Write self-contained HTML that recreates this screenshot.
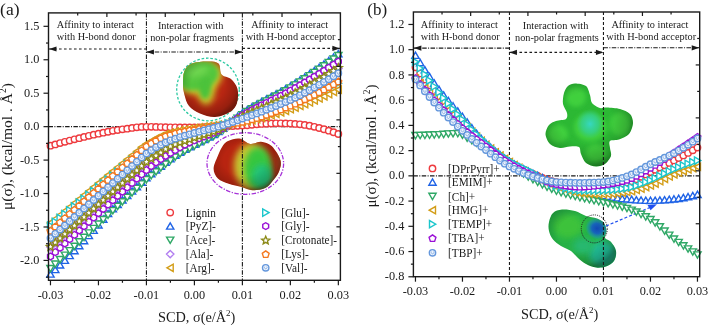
<!DOCTYPE html><html><head><meta charset="utf-8"><style>html,body{margin:0;padding:0;background:#fff;width:709px;height:325px;overflow:hidden}</style></head><body><svg xmlns="http://www.w3.org/2000/svg" width="709" height="325" viewBox="0 0 709 325" style="display:block;will-change:transform"><rect width="709" height="325" fill="#fff"/>
<defs>
<filter id="bl3" x="-50%" y="-50%" width="200%" height="200%"><feGaussianBlur stdDeviation="3"/></filter>
<filter id="bl2" x="-50%" y="-50%" width="200%" height="200%"><feGaussianBlur stdDeviation="2"/></filter>
<filter id="bl1" x="-50%" y="-50%" width="200%" height="200%"><feGaussianBlur stdDeviation="1"/></filter>
<radialGradient id="shd" cx="0.45" cy="0.42" r="0.6">
 <stop offset="0.5" stop-color="#000" stop-opacity="0"/><stop offset="0.85" stop-color="#000" stop-opacity="0.18"/><stop offset="1" stop-color="#000" stop-opacity="0.38"/></radialGradient>
<radialGradient id="hl" cx="0.5" cy="0.5" r="0.5">
 <stop offset="0" stop-color="#fff" stop-opacity="0.35"/><stop offset="1" stop-color="#fff" stop-opacity="0"/></radialGradient>
<radialGradient id="gG" cx="0.42" cy="0.4" r="0.62">
 <stop offset="0" stop-color="#4cd23c"/><stop offset="0.7" stop-color="#30b830"/><stop offset="1" stop-color="#1f8f22"/></radialGradient>
<radialGradient id="gC" cx="0.5" cy="0.5" r="0.5">
 <stop offset="0" stop-color="#36d8c8" stop-opacity="0.95"/><stop offset="0.6" stop-color="#30d0a8" stop-opacity="0.6"/><stop offset="1" stop-color="#30c890" stop-opacity="0"/></radialGradient>
<radialGradient id="gBl" cx="0.55" cy="0.5" r="0.5">
 <stop offset="0" stop-color="#1248b4"/><stop offset="0.45" stop-color="#1660c0" stop-opacity="0.95"/><stop offset="0.8" stop-color="#1a90b8" stop-opacity="0.5"/><stop offset="1" stop-color="#20a0a0" stop-opacity="0"/></radialGradient>
<clipPath id="cA1"><path id="pA1" d="M184.5,71.0C186.0,67.6 188.2,65.1 192.0,63.5C195.8,61.9 202.6,61.5 207.0,61.5C211.4,61.5 216.1,61.3 218.5,63.5C220.9,65.7 219.4,71.9 221.5,74.5C223.6,77.1 228.3,76.6 231.0,79.0C233.7,81.4 236.5,85.0 237.5,89.0C238.5,93.0 238.2,99.2 237.0,103.0C235.8,106.8 233.7,109.7 230.0,112.0C226.3,114.3 220.0,116.8 215.0,117.0C210.0,117.2 204.3,115.3 200.0,113.5C195.7,111.7 191.6,109.1 189.0,106.0C186.4,102.9 185.5,98.7 184.5,95.0C183.5,91.3 183.0,88.0 183.0,84.0C183.0,80.0 183.0,74.4 184.5,71.0Z"/></clipPath>
<clipPath id="cA2"><path id="pA2" d="M228.7,140.8C231.4,139.7 235.8,138.1 239.4,138.6C243.0,139.1 246.6,143.5 250.2,144.0C253.8,144.5 257.4,141.5 261.0,141.8C264.6,142.2 268.5,143.1 271.7,146.1C274.9,149.1 279.1,156.0 280.3,160.1C281.6,164.2 280.3,167.7 279.2,170.9C278.1,174.1 276.2,176.6 273.9,179.5C271.6,182.4 268.9,186.3 265.3,188.1C261.7,189.9 256.2,190.5 252.3,190.3C248.4,190.1 245.5,188.1 241.6,187.0C237.7,185.9 232.6,185.2 228.7,183.8C224.8,182.4 220.4,180.9 217.9,178.4C215.4,175.9 213.6,172.5 213.6,168.7C213.6,164.9 216.3,159.7 217.9,155.8C219.5,151.9 221.5,147.6 223.3,145.1C225.1,142.6 226.0,141.9 228.7,140.8Z"/></clipPath>
<clipPath id="cB1"><path id="pB1" d="M575.0,83.5C577.7,83.5 583.8,84.3 586.0,86.0C588.2,87.7 589.1,92.5 590.0,95.0C590.9,97.5 590.5,101.0 592.0,103.0C593.5,105.0 597.8,107.3 600.0,108.0C602.2,108.7 604.0,107.3 607.0,107.5C610.0,107.7 616.5,108.0 620.0,109.0C623.5,110.0 628.0,111.9 630.0,114.0C632.0,116.1 633.1,120.0 633.0,123.0C632.9,126.0 631.1,131.5 629.0,134.0C626.9,136.5 621.9,138.4 619.0,139.5C616.1,140.6 611.4,139.7 610.0,141.0C608.6,142.3 609.9,145.8 610.0,148.0C610.1,150.2 611.8,153.6 611.0,156.0C610.2,158.4 607.2,162.4 605.0,164.0C602.8,165.6 598.9,166.7 596.0,166.5C593.1,166.3 588.2,164.9 586.0,163.0C583.8,161.1 582.0,156.4 581.0,154.0C580.0,151.6 580.6,148.1 579.0,147.0C577.4,145.9 572.9,146.3 570.0,146.5C567.1,146.7 563.0,148.4 560.0,148.0C557.0,147.6 552.2,146.1 550.0,144.0C547.8,141.9 545.6,136.8 545.5,134.0C545.4,131.2 547.4,127.0 549.0,125.0C550.6,123.0 553.5,121.9 556.0,121.0C558.5,120.1 564.4,120.2 566.0,119.0C567.6,117.8 567.5,115.2 567.0,113.0C566.5,110.8 563.5,107.0 563.0,104.0C562.5,101.0 563.2,95.7 564.0,93.0C564.8,90.3 566.4,87.4 568.0,86.0C569.6,84.6 572.3,83.5 575.0,83.5Z"/></clipPath>
<clipPath id="cB2"><path id="pB2" d="M549.0,222.0C549.7,219.0 550.8,215.1 553.0,213.0C555.2,210.9 558.3,209.8 562.0,209.5C565.7,209.2 571.0,209.9 575.0,211.0C579.0,212.1 582.3,214.8 586.0,216.0C589.7,217.2 594.0,217.3 597.0,218.5C600.0,219.7 602.4,220.9 604.0,223.0C605.6,225.1 606.3,228.5 606.5,231.0C606.7,233.5 604.2,236.2 605.0,238.0C605.8,239.8 609.2,239.8 611.0,242.0C612.8,244.2 615.5,247.8 616.0,251.0C616.5,254.2 615.7,258.4 614.0,261.0C612.3,263.6 609.0,265.4 606.0,266.5C603.0,267.6 599.3,267.9 596.0,267.5C592.7,267.1 589.0,265.6 586.0,264.0C583.0,262.4 580.5,260.2 578.0,258.0C575.5,255.8 573.8,253.0 571.0,251.0C568.2,249.0 564.0,247.9 561.0,246.0C558.0,244.1 555.0,242.0 553.0,239.5C551.0,237.0 549.7,233.9 549.0,231.0C548.3,228.1 548.3,225.0 549.0,222.0Z"/></clipPath>
</defs>
<circle cx="208" cy="89.5" r="31.3" fill="none" stroke="#2cc9a2" stroke-width="1.3" stroke-dasharray="2.6,1.8"/>
<g clip-path="url(#cA1)">
 <rect x="180" y="58" width="62" height="62" fill="#b82612"/>
 <ellipse cx="199" cy="77" rx="24" ry="17" transform="rotate(-15 199 77)" fill="#d2c52a" filter="url(#bl3)"/>
 <ellipse cx="206" cy="90" rx="9" ry="15" fill="#c8c42a" filter="url(#bl3)"/>
 <ellipse cx="198" cy="76" rx="21" ry="14" transform="rotate(-15 198 76)" fill="#52c63c" filter="url(#bl2)"/>
 <ellipse cx="205" cy="87" rx="6" ry="12" fill="#4cc23a" filter="url(#bl2)"/>
 <ellipse cx="197" cy="71" rx="12" ry="6" transform="rotate(-15 197 71)" fill="#6ed650" filter="url(#bl3)"/>
 <use href="#pA1" fill="url(#shd)"/>
</g>
<ellipse cx="245.3" cy="163.5" rx="38.3" ry="30.8" fill="none" stroke="#a632d8" stroke-width="1.3" stroke-dasharray="4.5,1.5,1.2,1.5"/>
<g clip-path="url(#cA2)">
 <rect x="205" y="130" width="85" height="70" fill="#b82410"/>
 <ellipse cx="251" cy="166" rx="17" ry="23" fill="#c8c830" filter="url(#bl3)"/>
 <ellipse cx="258" cy="168" rx="14" ry="21" fill="#38c63c" filter="url(#bl3)"/>
 <ellipse cx="262" cy="176" rx="10" ry="12" fill="#22c278" filter="url(#bl3)"/>
 <ellipse cx="281" cy="163" rx="5" ry="14" fill="#a8401c" filter="url(#bl2)"/>
 <use href="#pA2" fill="url(#shd)"/>
</g>
<line x1="146.43" y1="12.9" x2="146.43" y2="280.3" stroke="#1a1a1a" stroke-width="1.1" stroke-dasharray="4.5,1.4,1,1.4"/><line x1="242.39" y1="12.9" x2="242.39" y2="280.3" stroke="#1a1a1a" stroke-width="1.1" stroke-dasharray="4.5,1.4,1,1.4"/><line x1="48.5" y1="126.65" x2="340.4" y2="126.65" stroke="#1a1a1a" stroke-width="1.1" stroke-dasharray="4.5,1.4,1,1.4"/><line x1="49" y1="49" x2="146.43" y2="49" stroke="#1a1a1a" stroke-width="1.1" stroke-dasharray="2.6,2.4"/><path d="M49,49L56.5,46.4L56.5,51.6Z" fill="#1a1a1a"/><line x1="146.43" y1="52" x2="242.39" y2="52" stroke="#1a1a1a" stroke-width="1.1" stroke-dasharray="4.5,1.4,1,1.4"/><path d="M146.43,52L153.93,49.4L153.93,54.6Z" fill="#1a1a1a"/><path d="M242.39,52L234.89,49.4L234.89,54.6Z" fill="#1a1a1a"/><line x1="242.39" y1="48.4" x2="339.9" y2="48.4" stroke="#1a1a1a" stroke-width="1.1" stroke-dasharray="2.6,2.4"/><path d="M339.9,48.4L332.4,45.8L332.4,51Z" fill="#1a1a1a"/><text x="56.8" y="28.1" font-family="Liberation Serif" font-size="10.3" fill="#1a1a1a">Affinity to interact</text><text x="56.8" y="40" font-family="Liberation Serif" font-size="10.3" fill="#1a1a1a">with H-bond donor</text><text x="157.9" y="28.9" font-family="Liberation Serif" font-size="10.3" fill="#1a1a1a">Interaction with</text><text x="150.2" y="41" font-family="Liberation Serif" font-size="10.3" fill="#1a1a1a">non-polar fragments</text><text x="251.2" y="28" font-family="Liberation Serif" font-size="10.3" fill="#1a1a1a">Affinity to interact</text><text x="245.7" y="40" font-family="Liberation Serif" font-size="10.3" fill="#1a1a1a">with H-bond acceptor</text><g><circle cx="50.47" cy="145.71" r="3.2" stroke="#ee3b3f" fill="#fff" stroke-width="1.4"/><circle cx="55.27" cy="144.39" r="3.2" stroke="#ee3b3f" fill="#fff" stroke-width="1.4"/><circle cx="60.07" cy="143.09" r="3.2" stroke="#ee3b3f" fill="#fff" stroke-width="1.4"/><circle cx="64.86" cy="141.82" r="3.2" stroke="#ee3b3f" fill="#fff" stroke-width="1.4"/><circle cx="69.66" cy="140.57" r="3.2" stroke="#ee3b3f" fill="#fff" stroke-width="1.4"/><circle cx="74.46" cy="139.36" r="3.2" stroke="#ee3b3f" fill="#fff" stroke-width="1.4"/><circle cx="79.26" cy="138.16" r="3.2" stroke="#ee3b3f" fill="#fff" stroke-width="1.4"/><circle cx="84.06" cy="136.97" r="3.2" stroke="#ee3b3f" fill="#fff" stroke-width="1.4"/><circle cx="88.85" cy="135.81" r="3.2" stroke="#ee3b3f" fill="#fff" stroke-width="1.4"/><circle cx="93.65" cy="134.7" r="3.2" stroke="#ee3b3f" fill="#fff" stroke-width="1.4"/><circle cx="98.45" cy="133.67" r="3.2" stroke="#ee3b3f" fill="#fff" stroke-width="1.4"/><circle cx="103.25" cy="132.69" r="3.2" stroke="#ee3b3f" fill="#fff" stroke-width="1.4"/><circle cx="108.05" cy="131.74" r="3.2" stroke="#ee3b3f" fill="#fff" stroke-width="1.4"/><circle cx="112.84" cy="130.84" r="3.2" stroke="#ee3b3f" fill="#fff" stroke-width="1.4"/><circle cx="117.64" cy="130.03" r="3.2" stroke="#ee3b3f" fill="#fff" stroke-width="1.4"/><circle cx="122.44" cy="129.33" r="3.2" stroke="#ee3b3f" fill="#fff" stroke-width="1.4"/><circle cx="127.24" cy="128.65" r="3.2" stroke="#ee3b3f" fill="#fff" stroke-width="1.4"/><circle cx="132.04" cy="127.97" r="3.2" stroke="#ee3b3f" fill="#fff" stroke-width="1.4"/><circle cx="136.83" cy="127.37" r="3.2" stroke="#ee3b3f" fill="#fff" stroke-width="1.4"/><circle cx="141.63" cy="126.95" r="3.2" stroke="#ee3b3f" fill="#fff" stroke-width="1.4"/><circle cx="146.43" cy="126.78" r="3.2" stroke="#ee3b3f" fill="#fff" stroke-width="1.4"/><circle cx="151.23" cy="126.83" r="3.2" stroke="#ee3b3f" fill="#fff" stroke-width="1.4"/><circle cx="156.03" cy="126.95" r="3.2" stroke="#ee3b3f" fill="#fff" stroke-width="1.4"/><circle cx="160.82" cy="127.1" r="3.2" stroke="#ee3b3f" fill="#fff" stroke-width="1.4"/><circle cx="165.62" cy="127.24" r="3.2" stroke="#ee3b3f" fill="#fff" stroke-width="1.4"/><circle cx="170.42" cy="127.32" r="3.2" stroke="#ee3b3f" fill="#fff" stroke-width="1.4"/><circle cx="175.22" cy="127.36" r="3.2" stroke="#ee3b3f" fill="#fff" stroke-width="1.4"/><circle cx="180.02" cy="127.4" r="3.2" stroke="#ee3b3f" fill="#fff" stroke-width="1.4"/><circle cx="184.81" cy="127.43" r="3.2" stroke="#ee3b3f" fill="#fff" stroke-width="1.4"/><circle cx="189.61" cy="127.45" r="3.2" stroke="#ee3b3f" fill="#fff" stroke-width="1.4"/><circle cx="194.41" cy="127.45" r="3.2" stroke="#ee3b3f" fill="#fff" stroke-width="1.4"/><circle cx="199.21" cy="127.4" r="3.2" stroke="#ee3b3f" fill="#fff" stroke-width="1.4"/><circle cx="204.01" cy="127.26" r="3.2" stroke="#ee3b3f" fill="#fff" stroke-width="1.4"/><circle cx="208.8" cy="127.06" r="3.2" stroke="#ee3b3f" fill="#fff" stroke-width="1.4"/><circle cx="213.6" cy="126.85" r="3.2" stroke="#ee3b3f" fill="#fff" stroke-width="1.4"/><circle cx="218.4" cy="126.65" r="3.2" stroke="#ee3b3f" fill="#fff" stroke-width="1.4"/><circle cx="223.2" cy="126.47" r="3.2" stroke="#ee3b3f" fill="#fff" stroke-width="1.4"/><circle cx="228" cy="126.27" r="3.2" stroke="#ee3b3f" fill="#fff" stroke-width="1.4"/><circle cx="232.79" cy="126.07" r="3.2" stroke="#ee3b3f" fill="#fff" stroke-width="1.4"/><circle cx="237.59" cy="125.84" r="3.2" stroke="#ee3b3f" fill="#fff" stroke-width="1.4"/><circle cx="242.39" cy="125.58" r="3.2" stroke="#ee3b3f" fill="#fff" stroke-width="1.4"/><circle cx="247.19" cy="125.23" r="3.2" stroke="#ee3b3f" fill="#fff" stroke-width="1.4"/><circle cx="251.99" cy="124.78" r="3.2" stroke="#ee3b3f" fill="#fff" stroke-width="1.4"/><circle cx="256.78" cy="124.31" r="3.2" stroke="#ee3b3f" fill="#fff" stroke-width="1.4"/><circle cx="261.58" cy="123.9" r="3.2" stroke="#ee3b3f" fill="#fff" stroke-width="1.4"/><circle cx="266.38" cy="123.64" r="3.2" stroke="#ee3b3f" fill="#fff" stroke-width="1.4"/><circle cx="271.18" cy="123.48" r="3.2" stroke="#ee3b3f" fill="#fff" stroke-width="1.4"/><circle cx="275.98" cy="123.36" r="3.2" stroke="#ee3b3f" fill="#fff" stroke-width="1.4"/><circle cx="280.77" cy="123.31" r="3.2" stroke="#ee3b3f" fill="#fff" stroke-width="1.4"/><circle cx="285.57" cy="123.39" r="3.2" stroke="#ee3b3f" fill="#fff" stroke-width="1.4"/><circle cx="290.37" cy="123.61" r="3.2" stroke="#ee3b3f" fill="#fff" stroke-width="1.4"/><circle cx="295.17" cy="123.93" r="3.2" stroke="#ee3b3f" fill="#fff" stroke-width="1.4"/><circle cx="299.97" cy="124.31" r="3.2" stroke="#ee3b3f" fill="#fff" stroke-width="1.4"/><circle cx="304.76" cy="124.89" r="3.2" stroke="#ee3b3f" fill="#fff" stroke-width="1.4"/><circle cx="309.56" cy="125.77" r="3.2" stroke="#ee3b3f" fill="#fff" stroke-width="1.4"/><circle cx="314.36" cy="126.84" r="3.2" stroke="#ee3b3f" fill="#fff" stroke-width="1.4"/><circle cx="319.16" cy="127.99" r="3.2" stroke="#ee3b3f" fill="#fff" stroke-width="1.4"/><circle cx="323.96" cy="129.23" r="3.2" stroke="#ee3b3f" fill="#fff" stroke-width="1.4"/><circle cx="328.75" cy="130.67" r="3.2" stroke="#ee3b3f" fill="#fff" stroke-width="1.4"/><circle cx="333.55" cy="132.27" r="3.2" stroke="#ee3b3f" fill="#fff" stroke-width="1.4"/><circle cx="338.35" cy="134.01" r="3.2" stroke="#ee3b3f" fill="#fff" stroke-width="1.4"/></g><g><path d="M50.47,270.84L54.11,277.14L46.83,277.14Z" stroke="#1f63e6" fill="#fff" stroke-width="1.4"/><path d="M55.27,266.35L58.91,272.65L51.63,272.65Z" stroke="#1f63e6" fill="#fff" stroke-width="1.4"/><path d="M60.07,261.75L63.7,268.05L56.43,268.05Z" stroke="#1f63e6" fill="#fff" stroke-width="1.4"/><path d="M64.86,257.07L68.5,263.37L61.23,263.37Z" stroke="#1f63e6" fill="#fff" stroke-width="1.4"/><path d="M69.66,252.29L73.3,258.59L66.02,258.59Z" stroke="#1f63e6" fill="#fff" stroke-width="1.4"/><path d="M74.46,247.43L78.1,253.73L70.82,253.73Z" stroke="#1f63e6" fill="#fff" stroke-width="1.4"/><path d="M79.26,242.48L82.9,248.78L75.62,248.78Z" stroke="#1f63e6" fill="#fff" stroke-width="1.4"/><path d="M84.06,237.45L87.69,243.75L80.42,243.75Z" stroke="#1f63e6" fill="#fff" stroke-width="1.4"/><path d="M88.85,232.31L92.49,238.61L85.22,238.61Z" stroke="#1f63e6" fill="#fff" stroke-width="1.4"/><path d="M93.65,227.06L97.29,233.36L90.01,233.36Z" stroke="#1f63e6" fill="#fff" stroke-width="1.4"/><path d="M98.45,221.68L102.09,227.98L94.81,227.98Z" stroke="#1f63e6" fill="#fff" stroke-width="1.4"/><path d="M103.25,215.9L106.89,222.2L99.61,222.2Z" stroke="#1f63e6" fill="#fff" stroke-width="1.4"/><path d="M108.05,210.31L111.68,216.61L104.41,216.61Z" stroke="#1f63e6" fill="#fff" stroke-width="1.4"/><path d="M112.84,205.54L116.48,211.84L109.21,211.84Z" stroke="#1f63e6" fill="#fff" stroke-width="1.4"/><path d="M117.64,201.14L121.28,207.44L114,207.44Z" stroke="#1f63e6" fill="#fff" stroke-width="1.4"/><path d="M122.44,196.76L126.08,203.06L118.8,203.06Z" stroke="#1f63e6" fill="#fff" stroke-width="1.4"/><path d="M127.24,192.3L130.88,198.6L123.6,198.6Z" stroke="#1f63e6" fill="#fff" stroke-width="1.4"/><path d="M132.04,187.85L135.67,194.15L128.4,194.15Z" stroke="#1f63e6" fill="#fff" stroke-width="1.4"/><path d="M136.83,183.42L140.47,189.72L133.2,189.72Z" stroke="#1f63e6" fill="#fff" stroke-width="1.4"/><path d="M141.63,178.94L145.27,185.24L137.99,185.24Z" stroke="#1f63e6" fill="#fff" stroke-width="1.4"/><path d="M146.43,174.52L150.07,180.82L142.79,180.82Z" stroke="#1f63e6" fill="#fff" stroke-width="1.4"/><path d="M151.23,170.52L154.87,176.82L147.59,176.82Z" stroke="#1f63e6" fill="#fff" stroke-width="1.4"/><path d="M156.03,166.72L159.66,173.02L152.39,173.02Z" stroke="#1f63e6" fill="#fff" stroke-width="1.4"/><path d="M160.82,162.9L164.46,169.2L157.19,169.2Z" stroke="#1f63e6" fill="#fff" stroke-width="1.4"/><path d="M165.62,159.08L169.26,165.38L161.98,165.38Z" stroke="#1f63e6" fill="#fff" stroke-width="1.4"/><path d="M170.42,155.46L174.06,161.76L166.78,161.76Z" stroke="#1f63e6" fill="#fff" stroke-width="1.4"/><path d="M175.22,152.07L178.86,158.37L171.58,158.37Z" stroke="#1f63e6" fill="#fff" stroke-width="1.4"/><path d="M180.02,148.9L183.65,155.2L176.38,155.2Z" stroke="#1f63e6" fill="#fff" stroke-width="1.4"/><path d="M184.81,146.06L188.45,152.36L181.18,152.36Z" stroke="#1f63e6" fill="#fff" stroke-width="1.4"/><path d="M189.61,143.55L193.25,149.85L185.97,149.85Z" stroke="#1f63e6" fill="#fff" stroke-width="1.4"/><path d="M194.41,141.08L198.05,147.38L190.77,147.38Z" stroke="#1f63e6" fill="#fff" stroke-width="1.4"/><path d="M199.21,138.61L202.85,144.91L195.57,144.91Z" stroke="#1f63e6" fill="#fff" stroke-width="1.4"/><path d="M204.01,136.23L207.64,142.53L200.37,142.53Z" stroke="#1f63e6" fill="#fff" stroke-width="1.4"/><path d="M208.8,133.8L212.44,140.1L205.17,140.1Z" stroke="#1f63e6" fill="#fff" stroke-width="1.4"/><path d="M213.6,131.22L217.24,137.52L209.96,137.52Z" stroke="#1f63e6" fill="#fff" stroke-width="1.4"/><path d="M218.4,128.37L222.04,134.67L214.76,134.67Z" stroke="#1f63e6" fill="#fff" stroke-width="1.4"/><path d="M223.2,124.99L226.84,131.29L219.56,131.29Z" stroke="#1f63e6" fill="#fff" stroke-width="1.4"/><path d="M228,121.12L231.63,127.42L224.36,127.42Z" stroke="#1f63e6" fill="#fff" stroke-width="1.4"/><path d="M232.79,117.07L236.43,123.37L229.16,123.37Z" stroke="#1f63e6" fill="#fff" stroke-width="1.4"/><path d="M237.59,113.14L241.23,119.44L233.95,119.44Z" stroke="#1f63e6" fill="#fff" stroke-width="1.4"/><path d="M242.39,109.64L246.03,115.94L238.75,115.94Z" stroke="#1f63e6" fill="#fff" stroke-width="1.4"/><path d="M247.19,106.58L250.83,112.88L243.55,112.88Z" stroke="#1f63e6" fill="#fff" stroke-width="1.4"/><path d="M251.99,103.72L255.62,110.02L248.35,110.02Z" stroke="#1f63e6" fill="#fff" stroke-width="1.4"/><path d="M256.78,101.03L260.42,107.33L253.15,107.33Z" stroke="#1f63e6" fill="#fff" stroke-width="1.4"/><path d="M261.58,98.45L265.22,104.75L257.94,104.75Z" stroke="#1f63e6" fill="#fff" stroke-width="1.4"/><path d="M266.38,95.95L270.02,102.25L262.74,102.25Z" stroke="#1f63e6" fill="#fff" stroke-width="1.4"/><path d="M271.18,93.47L274.82,99.77L267.54,99.77Z" stroke="#1f63e6" fill="#fff" stroke-width="1.4"/><path d="M275.98,90.96L279.61,97.26L272.34,97.26Z" stroke="#1f63e6" fill="#fff" stroke-width="1.4"/><path d="M280.77,88.4L284.41,94.7L277.14,94.7Z" stroke="#1f63e6" fill="#fff" stroke-width="1.4"/><path d="M285.57,85.72L289.21,92.02L281.93,92.02Z" stroke="#1f63e6" fill="#fff" stroke-width="1.4"/><path d="M290.37,82.88L294.01,89.18L286.73,89.18Z" stroke="#1f63e6" fill="#fff" stroke-width="1.4"/><path d="M295.17,79.92L298.81,86.22L291.53,86.22Z" stroke="#1f63e6" fill="#fff" stroke-width="1.4"/><path d="M299.97,76.89L303.6,83.19L296.33,83.19Z" stroke="#1f63e6" fill="#fff" stroke-width="1.4"/><path d="M304.76,73.8L308.4,80.1L301.13,80.1Z" stroke="#1f63e6" fill="#fff" stroke-width="1.4"/><path d="M309.56,70.64L313.2,76.94L305.92,76.94Z" stroke="#1f63e6" fill="#fff" stroke-width="1.4"/><path d="M314.36,67.43L318,73.73L310.72,73.73Z" stroke="#1f63e6" fill="#fff" stroke-width="1.4"/><path d="M319.16,64.16L322.8,70.46L315.52,70.46Z" stroke="#1f63e6" fill="#fff" stroke-width="1.4"/><path d="M323.96,60.83L327.59,67.13L320.32,67.13Z" stroke="#1f63e6" fill="#fff" stroke-width="1.4"/><path d="M328.75,57.44L332.39,63.74L325.12,63.74Z" stroke="#1f63e6" fill="#fff" stroke-width="1.4"/><path d="M333.55,54L337.19,60.3L329.91,60.3Z" stroke="#1f63e6" fill="#fff" stroke-width="1.4"/><path d="M338.35,50.51L341.99,56.81L334.71,56.81Z" stroke="#1f63e6" fill="#fff" stroke-width="1.4"/></g><g><path d="M50.47,271.76L46.83,265.46L54.11,265.46Z" stroke="#2fa866" fill="#fff" stroke-width="1.4"/><path d="M55.27,267.31L51.63,261.01L58.91,261.01Z" stroke="#2fa866" fill="#fff" stroke-width="1.4"/><path d="M60.07,262.86L56.43,256.56L63.7,256.56Z" stroke="#2fa866" fill="#fff" stroke-width="1.4"/><path d="M64.86,258.41L61.23,252.11L68.5,252.11Z" stroke="#2fa866" fill="#fff" stroke-width="1.4"/><path d="M69.66,253.96L66.02,247.66L73.3,247.66Z" stroke="#2fa866" fill="#fff" stroke-width="1.4"/><path d="M74.46,249.52L70.82,243.22L78.1,243.22Z" stroke="#2fa866" fill="#fff" stroke-width="1.4"/><path d="M79.26,245.07L75.62,238.77L82.9,238.77Z" stroke="#2fa866" fill="#fff" stroke-width="1.4"/><path d="M84.06,240.62L80.42,234.32L87.69,234.32Z" stroke="#2fa866" fill="#fff" stroke-width="1.4"/><path d="M88.85,236.17L85.22,229.87L92.49,229.87Z" stroke="#2fa866" fill="#fff" stroke-width="1.4"/><path d="M93.65,231.72L90.01,225.42L97.29,225.42Z" stroke="#2fa866" fill="#fff" stroke-width="1.4"/><path d="M98.45,227.27L94.81,220.97L102.09,220.97Z" stroke="#2fa866" fill="#fff" stroke-width="1.4"/><path d="M103.25,222.83L99.61,216.53L106.89,216.53Z" stroke="#2fa866" fill="#fff" stroke-width="1.4"/><path d="M108.05,218.38L104.41,212.08L111.68,212.08Z" stroke="#2fa866" fill="#fff" stroke-width="1.4"/><path d="M112.84,213.93L109.21,207.63L116.48,207.63Z" stroke="#2fa866" fill="#fff" stroke-width="1.4"/><path d="M117.64,209.48L114,203.18L121.28,203.18Z" stroke="#2fa866" fill="#fff" stroke-width="1.4"/><path d="M122.44,205.03L118.8,198.73L126.08,198.73Z" stroke="#2fa866" fill="#fff" stroke-width="1.4"/><path d="M127.24,200.59L123.6,194.29L130.88,194.29Z" stroke="#2fa866" fill="#fff" stroke-width="1.4"/><path d="M132.04,196.14L128.4,189.84L135.67,189.84Z" stroke="#2fa866" fill="#fff" stroke-width="1.4"/><path d="M136.83,191.69L133.2,185.39L140.47,185.39Z" stroke="#2fa866" fill="#fff" stroke-width="1.4"/><path d="M141.63,187.21L137.99,180.91L145.27,180.91Z" stroke="#2fa866" fill="#fff" stroke-width="1.4"/><path d="M146.43,182.79L142.79,176.49L150.07,176.49Z" stroke="#2fa866" fill="#fff" stroke-width="1.4"/><path d="M151.23,178.79L147.59,172.49L154.87,172.49Z" stroke="#2fa866" fill="#fff" stroke-width="1.4"/><path d="M156.03,174.99L152.39,168.69L159.66,168.69Z" stroke="#2fa866" fill="#fff" stroke-width="1.4"/><path d="M160.82,171.18L157.19,164.88L164.46,164.88Z" stroke="#2fa866" fill="#fff" stroke-width="1.4"/><path d="M165.62,167.36L161.98,161.06L169.26,161.06Z" stroke="#2fa866" fill="#fff" stroke-width="1.4"/><path d="M170.42,163.73L166.78,157.43L174.06,157.43Z" stroke="#2fa866" fill="#fff" stroke-width="1.4"/><path d="M175.22,160.34L171.58,154.04L178.86,154.04Z" stroke="#2fa866" fill="#fff" stroke-width="1.4"/><path d="M180.02,157.17L176.38,150.87L183.65,150.87Z" stroke="#2fa866" fill="#fff" stroke-width="1.4"/><path d="M184.81,154.34L181.18,148.04L188.45,148.04Z" stroke="#2fa866" fill="#fff" stroke-width="1.4"/><path d="M189.61,151.82L185.97,145.52L193.25,145.52Z" stroke="#2fa866" fill="#fff" stroke-width="1.4"/><path d="M194.41,149.35L190.77,143.05L198.05,143.05Z" stroke="#2fa866" fill="#fff" stroke-width="1.4"/><path d="M199.21,146.88L195.57,140.58L202.85,140.58Z" stroke="#2fa866" fill="#fff" stroke-width="1.4"/><path d="M204.01,144.5L200.37,138.2L207.64,138.2Z" stroke="#2fa866" fill="#fff" stroke-width="1.4"/><path d="M208.8,142.07L205.17,135.77L212.44,135.77Z" stroke="#2fa866" fill="#fff" stroke-width="1.4"/><path d="M213.6,139.49L209.96,133.19L217.24,133.19Z" stroke="#2fa866" fill="#fff" stroke-width="1.4"/><path d="M218.4,136.64L214.76,130.34L222.04,130.34Z" stroke="#2fa866" fill="#fff" stroke-width="1.4"/><path d="M223.2,133.26L219.56,126.96L226.84,126.96Z" stroke="#2fa866" fill="#fff" stroke-width="1.4"/><path d="M228,129.39L224.36,123.09L231.63,123.09Z" stroke="#2fa866" fill="#fff" stroke-width="1.4"/><path d="M232.79,125.34L229.16,119.04L236.43,119.04Z" stroke="#2fa866" fill="#fff" stroke-width="1.4"/><path d="M237.59,121.41L233.95,115.11L241.23,115.11Z" stroke="#2fa866" fill="#fff" stroke-width="1.4"/><path d="M242.39,117.91L238.75,111.61L246.03,111.61Z" stroke="#2fa866" fill="#fff" stroke-width="1.4"/><path d="M247.19,114.85L243.55,108.55L250.83,108.55Z" stroke="#2fa866" fill="#fff" stroke-width="1.4"/><path d="M251.99,111.99L248.35,105.69L255.62,105.69Z" stroke="#2fa866" fill="#fff" stroke-width="1.4"/><path d="M256.78,109.3L253.15,103L260.42,103Z" stroke="#2fa866" fill="#fff" stroke-width="1.4"/><path d="M261.58,106.72L257.94,100.42L265.22,100.42Z" stroke="#2fa866" fill="#fff" stroke-width="1.4"/><path d="M266.38,104.22L262.74,97.92L270.02,97.92Z" stroke="#2fa866" fill="#fff" stroke-width="1.4"/><path d="M271.18,101.74L267.54,95.44L274.82,95.44Z" stroke="#2fa866" fill="#fff" stroke-width="1.4"/><path d="M275.98,99.24L272.34,92.94L279.61,92.94Z" stroke="#2fa866" fill="#fff" stroke-width="1.4"/><path d="M280.77,96.67L277.14,90.37L284.41,90.37Z" stroke="#2fa866" fill="#fff" stroke-width="1.4"/><path d="M285.57,93.99L281.93,87.69L289.21,87.69Z" stroke="#2fa866" fill="#fff" stroke-width="1.4"/><path d="M290.37,91.15L286.73,84.85L294.01,84.85Z" stroke="#2fa866" fill="#fff" stroke-width="1.4"/><path d="M295.17,88.19L291.53,81.89L298.81,81.89Z" stroke="#2fa866" fill="#fff" stroke-width="1.4"/><path d="M299.97,85.16L296.33,78.86L303.6,78.86Z" stroke="#2fa866" fill="#fff" stroke-width="1.4"/><path d="M304.76,82.07L301.13,75.77L308.4,75.77Z" stroke="#2fa866" fill="#fff" stroke-width="1.4"/><path d="M309.56,78.92L305.92,72.62L313.2,72.62Z" stroke="#2fa866" fill="#fff" stroke-width="1.4"/><path d="M314.36,75.7L310.72,69.4L318,69.4Z" stroke="#2fa866" fill="#fff" stroke-width="1.4"/><path d="M319.16,72.43L315.52,66.13L322.8,66.13Z" stroke="#2fa866" fill="#fff" stroke-width="1.4"/><path d="M323.96,69.1L320.32,62.8L327.59,62.8Z" stroke="#2fa866" fill="#fff" stroke-width="1.4"/><path d="M328.75,65.71L325.12,59.41L332.39,59.41Z" stroke="#2fa866" fill="#fff" stroke-width="1.4"/><path d="M333.55,62.27L329.91,55.97L337.19,55.97Z" stroke="#2fa866" fill="#fff" stroke-width="1.4"/><path d="M338.35,58.78L334.71,52.48L341.99,52.48Z" stroke="#2fa866" fill="#fff" stroke-width="1.4"/></g><g><path d="M50.47,243.35L54.17,247.05L50.47,250.75L46.77,247.05Z" stroke="#b27ef0" fill="#fff" stroke-width="1.4"/><path d="M55.27,239.1L58.97,242.8L55.27,246.5L51.57,242.8Z" stroke="#b27ef0" fill="#fff" stroke-width="1.4"/><path d="M60.07,234.86L63.77,238.56L60.07,242.26L56.37,238.56Z" stroke="#b27ef0" fill="#fff" stroke-width="1.4"/><path d="M64.86,230.61L68.56,234.31L64.86,238.01L61.16,234.31Z" stroke="#b27ef0" fill="#fff" stroke-width="1.4"/><path d="M69.66,226.36L73.36,230.06L69.66,233.76L65.96,230.06Z" stroke="#b27ef0" fill="#fff" stroke-width="1.4"/><path d="M74.46,222.11L78.16,225.81L74.46,229.51L70.76,225.81Z" stroke="#b27ef0" fill="#fff" stroke-width="1.4"/><path d="M79.26,217.87L82.96,221.57L79.26,225.27L75.56,221.57Z" stroke="#b27ef0" fill="#fff" stroke-width="1.4"/><path d="M84.06,213.62L87.76,217.32L84.06,221.02L80.36,217.32Z" stroke="#b27ef0" fill="#fff" stroke-width="1.4"/><path d="M88.85,209.37L92.55,213.07L88.85,216.77L85.15,213.07Z" stroke="#b27ef0" fill="#fff" stroke-width="1.4"/><path d="M93.65,205.12L97.35,208.82L93.65,212.52L89.95,208.82Z" stroke="#b27ef0" fill="#fff" stroke-width="1.4"/><path d="M98.45,200.88L102.15,204.58L98.45,208.28L94.75,204.58Z" stroke="#b27ef0" fill="#fff" stroke-width="1.4"/><path d="M103.25,196.63L106.95,200.33L103.25,204.03L99.55,200.33Z" stroke="#b27ef0" fill="#fff" stroke-width="1.4"/><path d="M108.05,192.38L111.75,196.08L108.05,199.78L104.35,196.08Z" stroke="#b27ef0" fill="#fff" stroke-width="1.4"/><path d="M112.84,188.13L116.54,191.83L112.84,195.53L109.14,191.83Z" stroke="#b27ef0" fill="#fff" stroke-width="1.4"/><path d="M117.64,183.89L121.34,187.59L117.64,191.29L113.94,187.59Z" stroke="#b27ef0" fill="#fff" stroke-width="1.4"/><path d="M122.44,179.64L126.14,183.34L122.44,187.04L118.74,183.34Z" stroke="#b27ef0" fill="#fff" stroke-width="1.4"/><path d="M127.24,175.39L130.94,179.09L127.24,182.79L123.54,179.09Z" stroke="#b27ef0" fill="#fff" stroke-width="1.4"/><path d="M132.04,171.14L135.74,174.84L132.04,178.54L128.34,174.84Z" stroke="#b27ef0" fill="#fff" stroke-width="1.4"/><path d="M136.83,166.9L140.53,170.6L136.83,174.3L133.13,170.6Z" stroke="#b27ef0" fill="#fff" stroke-width="1.4"/><path d="M141.63,162.57L145.33,166.27L141.63,169.97L137.93,166.27Z" stroke="#b27ef0" fill="#fff" stroke-width="1.4"/><path d="M146.43,158.4L150.13,162.1L146.43,165.8L142.73,162.1Z" stroke="#b27ef0" fill="#fff" stroke-width="1.4"/><path d="M151.23,155.28L154.93,158.98L151.23,162.68L147.53,158.98Z" stroke="#b27ef0" fill="#fff" stroke-width="1.4"/><path d="M156.03,152.51L159.73,156.21L156.03,159.91L152.33,156.21Z" stroke="#b27ef0" fill="#fff" stroke-width="1.4"/><path d="M160.82,149.41L164.52,153.11L160.82,156.81L157.12,153.11Z" stroke="#b27ef0" fill="#fff" stroke-width="1.4"/><path d="M165.62,145.95L169.32,149.65L165.62,153.35L161.92,149.65Z" stroke="#b27ef0" fill="#fff" stroke-width="1.4"/><path d="M170.42,143.02L174.12,146.72L170.42,150.42L166.72,146.72Z" stroke="#b27ef0" fill="#fff" stroke-width="1.4"/><path d="M175.22,140.89L178.92,144.59L175.22,148.29L171.52,144.59Z" stroke="#b27ef0" fill="#fff" stroke-width="1.4"/><path d="M180.02,139.08L183.72,142.78L180.02,146.48L176.32,142.78Z" stroke="#b27ef0" fill="#fff" stroke-width="1.4"/><path d="M184.81,137.46L188.51,141.16L184.81,144.86L181.11,141.16Z" stroke="#b27ef0" fill="#fff" stroke-width="1.4"/><path d="M189.61,135.92L193.31,139.62L189.61,143.32L185.91,139.62Z" stroke="#b27ef0" fill="#fff" stroke-width="1.4"/><path d="M194.41,134.32L198.11,138.02L194.41,141.72L190.71,138.02Z" stroke="#b27ef0" fill="#fff" stroke-width="1.4"/><path d="M199.21,132.73L202.91,136.43L199.21,140.13L195.51,136.43Z" stroke="#b27ef0" fill="#fff" stroke-width="1.4"/><path d="M204.01,131.24L207.71,134.94L204.01,138.64L200.31,134.94Z" stroke="#b27ef0" fill="#fff" stroke-width="1.4"/><path d="M208.8,129.74L212.5,133.44L208.8,137.14L205.1,133.44Z" stroke="#b27ef0" fill="#fff" stroke-width="1.4"/><path d="M213.6,128.12L217.3,131.82L213.6,135.52L209.9,131.82Z" stroke="#b27ef0" fill="#fff" stroke-width="1.4"/><path d="M218.4,126.29L222.1,129.99L218.4,133.69L214.7,129.99Z" stroke="#b27ef0" fill="#fff" stroke-width="1.4"/><path d="M223.2,124.09L226.9,127.79L223.2,131.49L219.5,127.79Z" stroke="#b27ef0" fill="#fff" stroke-width="1.4"/><path d="M228,121.53L231.7,125.23L228,128.93L224.3,125.23Z" stroke="#b27ef0" fill="#fff" stroke-width="1.4"/><path d="M232.79,118.8L236.49,122.5L232.79,126.2L229.09,122.5Z" stroke="#b27ef0" fill="#fff" stroke-width="1.4"/><path d="M237.59,116.09L241.29,119.79L237.59,123.49L233.89,119.79Z" stroke="#b27ef0" fill="#fff" stroke-width="1.4"/><path d="M242.39,113.59L246.09,117.29L242.39,120.99L238.69,117.29Z" stroke="#b27ef0" fill="#fff" stroke-width="1.4"/><path d="M247.19,111.3L250.89,115L247.19,118.7L243.49,115Z" stroke="#b27ef0" fill="#fff" stroke-width="1.4"/><path d="M251.99,109.13L255.69,112.83L251.99,116.53L248.29,112.83Z" stroke="#b27ef0" fill="#fff" stroke-width="1.4"/><path d="M256.78,107.03L260.48,110.73L256.78,114.43L253.08,110.73Z" stroke="#b27ef0" fill="#fff" stroke-width="1.4"/><path d="M261.58,104.98L265.28,108.68L261.58,112.38L257.88,108.68Z" stroke="#b27ef0" fill="#fff" stroke-width="1.4"/><path d="M266.38,102.96L270.08,106.66L266.38,110.36L262.68,106.66Z" stroke="#b27ef0" fill="#fff" stroke-width="1.4"/><path d="M271.18,100.92L274.88,104.62L271.18,108.32L267.48,104.62Z" stroke="#b27ef0" fill="#fff" stroke-width="1.4"/><path d="M275.98,98.86L279.68,102.56L275.98,106.26L272.28,102.56Z" stroke="#b27ef0" fill="#fff" stroke-width="1.4"/><path d="M280.77,96.73L284.47,100.43L280.77,104.13L277.07,100.43Z" stroke="#b27ef0" fill="#fff" stroke-width="1.4"/><path d="M285.57,94.52L289.27,98.22L285.57,101.92L281.87,98.22Z" stroke="#b27ef0" fill="#fff" stroke-width="1.4"/><path d="M290.37,92.18L294.07,95.88L290.37,99.58L286.67,95.88Z" stroke="#b27ef0" fill="#fff" stroke-width="1.4"/><path d="M295.17,89.74L298.87,93.44L295.17,97.14L291.47,93.44Z" stroke="#b27ef0" fill="#fff" stroke-width="1.4"/><path d="M299.97,87.22L303.67,90.92L299.97,94.62L296.27,90.92Z" stroke="#b27ef0" fill="#fff" stroke-width="1.4"/><path d="M304.76,84.64L308.46,88.34L304.76,92.04L301.06,88.34Z" stroke="#b27ef0" fill="#fff" stroke-width="1.4"/><path d="M309.56,81.99L313.26,85.69L309.56,89.39L305.86,85.69Z" stroke="#b27ef0" fill="#fff" stroke-width="1.4"/><path d="M314.36,79.27L318.06,82.97L314.36,86.67L310.66,82.97Z" stroke="#b27ef0" fill="#fff" stroke-width="1.4"/><path d="M319.16,76.48L322.86,80.18L319.16,83.88L315.46,80.18Z" stroke="#b27ef0" fill="#fff" stroke-width="1.4"/><path d="M323.96,73.64L327.66,77.34L323.96,81.04L320.26,77.34Z" stroke="#b27ef0" fill="#fff" stroke-width="1.4"/><path d="M328.75,70.73L332.45,74.43L328.75,78.13L325.05,74.43Z" stroke="#b27ef0" fill="#fff" stroke-width="1.4"/><path d="M333.55,67.77L337.25,71.47L333.55,75.17L329.85,71.47Z" stroke="#b27ef0" fill="#fff" stroke-width="1.4"/><path d="M338.35,64.76L342.05,68.46L338.35,72.16L334.65,68.46Z" stroke="#b27ef0" fill="#fff" stroke-width="1.4"/></g><g><path d="M47.17,222.97L53.47,219.33L53.47,226.61Z" stroke="#d39d17" fill="#fff" stroke-width="1.4"/><path d="M51.97,218.99L58.27,215.35L58.27,222.63Z" stroke="#d39d17" fill="#fff" stroke-width="1.4"/><path d="M56.77,215.01L63.07,211.37L63.07,218.65Z" stroke="#d39d17" fill="#fff" stroke-width="1.4"/><path d="M61.56,211.03L67.86,207.39L67.86,214.67Z" stroke="#d39d17" fill="#fff" stroke-width="1.4"/><path d="M66.36,207.05L72.66,203.41L72.66,210.69Z" stroke="#d39d17" fill="#fff" stroke-width="1.4"/><path d="M71.16,203.07L77.46,199.43L77.46,206.71Z" stroke="#d39d17" fill="#fff" stroke-width="1.4"/><path d="M75.96,199.09L82.26,195.45L82.26,202.73Z" stroke="#d39d17" fill="#fff" stroke-width="1.4"/><path d="M80.76,195.11L87.06,191.47L87.06,198.75Z" stroke="#d39d17" fill="#fff" stroke-width="1.4"/><path d="M85.55,191.13L91.85,187.49L91.85,194.77Z" stroke="#d39d17" fill="#fff" stroke-width="1.4"/><path d="M90.35,187.15L96.65,183.51L96.65,190.79Z" stroke="#d39d17" fill="#fff" stroke-width="1.4"/><path d="M95.15,183.17L101.45,179.53L101.45,186.81Z" stroke="#d39d17" fill="#fff" stroke-width="1.4"/><path d="M99.95,179.19L106.25,175.55L106.25,182.83Z" stroke="#d39d17" fill="#fff" stroke-width="1.4"/><path d="M104.75,175.21L111.05,171.57L111.05,178.85Z" stroke="#d39d17" fill="#fff" stroke-width="1.4"/><path d="M109.54,171.23L115.84,167.59L115.84,174.87Z" stroke="#d39d17" fill="#fff" stroke-width="1.4"/><path d="M114.34,167.25L120.64,163.61L120.64,170.89Z" stroke="#d39d17" fill="#fff" stroke-width="1.4"/><path d="M119.14,163.27L125.44,159.63L125.44,166.91Z" stroke="#d39d17" fill="#fff" stroke-width="1.4"/><path d="M123.94,159.29L130.24,155.66L130.24,162.93Z" stroke="#d39d17" fill="#fff" stroke-width="1.4"/><path d="M128.74,155.31L135.04,151.68L135.04,158.95Z" stroke="#d39d17" fill="#fff" stroke-width="1.4"/><path d="M133.53,151.33L139.83,147.7L139.83,154.97Z" stroke="#d39d17" fill="#fff" stroke-width="1.4"/><path d="M138.33,147.15L144.63,143.51L144.63,150.79Z" stroke="#d39d17" fill="#fff" stroke-width="1.4"/><path d="M143.13,143.85L149.43,140.21L149.43,147.49Z" stroke="#d39d17" fill="#fff" stroke-width="1.4"/><path d="M147.93,141L154.23,137.36L154.23,144.63Z" stroke="#d39d17" fill="#fff" stroke-width="1.4"/><path d="M152.73,138.41L159.03,134.77L159.03,142.05Z" stroke="#d39d17" fill="#fff" stroke-width="1.4"/><path d="M157.52,136.13L163.82,132.49L163.82,139.77Z" stroke="#d39d17" fill="#fff" stroke-width="1.4"/><path d="M162.32,134.2L168.62,130.57L168.62,137.84Z" stroke="#d39d17" fill="#fff" stroke-width="1.4"/><path d="M167.12,132.67L173.42,129.03L173.42,136.31Z" stroke="#d39d17" fill="#fff" stroke-width="1.4"/><path d="M171.92,131.46L178.22,127.82L178.22,135.1Z" stroke="#d39d17" fill="#fff" stroke-width="1.4"/><path d="M176.72,130.44L183.02,126.81L183.02,134.08Z" stroke="#d39d17" fill="#fff" stroke-width="1.4"/><path d="M181.51,129.56L187.81,125.93L187.81,133.2Z" stroke="#d39d17" fill="#fff" stroke-width="1.4"/><path d="M186.31,128.76L192.61,125.13L192.61,132.4Z" stroke="#d39d17" fill="#fff" stroke-width="1.4"/><path d="M191.11,127.99L197.41,124.35L197.41,131.63Z" stroke="#d39d17" fill="#fff" stroke-width="1.4"/><path d="M195.91,127.24L202.21,123.6L202.21,130.87Z" stroke="#d39d17" fill="#fff" stroke-width="1.4"/><path d="M200.71,126.53L207.01,122.9L207.01,130.17Z" stroke="#d39d17" fill="#fff" stroke-width="1.4"/><path d="M205.5,125.87L211.8,122.24L211.8,129.51Z" stroke="#d39d17" fill="#fff" stroke-width="1.4"/><path d="M210.3,125.25L216.6,121.61L216.6,128.88Z" stroke="#d39d17" fill="#fff" stroke-width="1.4"/><path d="M215.1,124.64L221.4,121.01L221.4,128.28Z" stroke="#d39d17" fill="#fff" stroke-width="1.4"/><path d="M219.9,124.1L226.2,120.46L226.2,127.74Z" stroke="#d39d17" fill="#fff" stroke-width="1.4"/><path d="M224.7,123.62L231,119.98L231,127.26Z" stroke="#d39d17" fill="#fff" stroke-width="1.4"/><path d="M229.49,123.14L235.79,119.51L235.79,126.78Z" stroke="#d39d17" fill="#fff" stroke-width="1.4"/><path d="M234.29,122.61L240.59,118.97L240.59,126.25Z" stroke="#d39d17" fill="#fff" stroke-width="1.4"/><path d="M239.09,121.97L245.39,118.33L245.39,125.61Z" stroke="#d39d17" fill="#fff" stroke-width="1.4"/><path d="M243.89,121.17L250.19,117.53L250.19,124.8Z" stroke="#d39d17" fill="#fff" stroke-width="1.4"/><path d="M248.69,120.22L254.99,116.58L254.99,123.85Z" stroke="#d39d17" fill="#fff" stroke-width="1.4"/><path d="M253.48,119.13L259.78,115.5L259.78,122.77Z" stroke="#d39d17" fill="#fff" stroke-width="1.4"/><path d="M258.28,117.94L264.58,114.3L264.58,121.57Z" stroke="#d39d17" fill="#fff" stroke-width="1.4"/><path d="M263.08,116.64L269.38,113L269.38,120.28Z" stroke="#d39d17" fill="#fff" stroke-width="1.4"/><path d="M267.88,115.26L274.18,111.62L274.18,118.9Z" stroke="#d39d17" fill="#fff" stroke-width="1.4"/><path d="M272.68,113.82L278.98,110.18L278.98,117.45Z" stroke="#d39d17" fill="#fff" stroke-width="1.4"/><path d="M277.47,112.32L283.77,108.69L283.77,115.96Z" stroke="#d39d17" fill="#fff" stroke-width="1.4"/><path d="M282.27,110.8L288.57,107.16L288.57,114.44Z" stroke="#d39d17" fill="#fff" stroke-width="1.4"/><path d="M287.07,109.26L293.37,105.62L293.37,112.9Z" stroke="#d39d17" fill="#fff" stroke-width="1.4"/><path d="M291.87,107.67L298.17,104.03L298.17,111.31Z" stroke="#d39d17" fill="#fff" stroke-width="1.4"/><path d="M296.67,105.98L302.97,102.35L302.97,109.62Z" stroke="#d39d17" fill="#fff" stroke-width="1.4"/><path d="M301.46,104.21L307.76,100.57L307.76,107.85Z" stroke="#d39d17" fill="#fff" stroke-width="1.4"/><path d="M306.26,102.35L312.56,98.71L312.56,105.99Z" stroke="#d39d17" fill="#fff" stroke-width="1.4"/><path d="M311.06,100.41L317.36,96.77L317.36,104.05Z" stroke="#d39d17" fill="#fff" stroke-width="1.4"/><path d="M315.86,98.4L322.16,94.76L322.16,102.03Z" stroke="#d39d17" fill="#fff" stroke-width="1.4"/><path d="M320.66,96.31L326.96,92.67L326.96,99.95Z" stroke="#d39d17" fill="#fff" stroke-width="1.4"/><path d="M325.45,94.15L331.75,90.52L331.75,97.79Z" stroke="#d39d17" fill="#fff" stroke-width="1.4"/><path d="M330.25,91.94L336.55,88.3L336.55,95.57Z" stroke="#d39d17" fill="#fff" stroke-width="1.4"/><path d="M335.05,89.66L341.35,86.02L341.35,93.3Z" stroke="#d39d17" fill="#fff" stroke-width="1.4"/></g><g><path d="M53.77,225.65L47.47,229.28L47.47,222.01Z" stroke="#1cc6cc" fill="#fff" stroke-width="1.4"/><path d="M58.57,221.8L52.27,225.44L52.27,218.16Z" stroke="#1cc6cc" fill="#fff" stroke-width="1.4"/><path d="M63.37,217.95L57.07,221.59L57.07,214.32Z" stroke="#1cc6cc" fill="#fff" stroke-width="1.4"/><path d="M68.16,214.11L61.86,217.75L61.86,210.47Z" stroke="#1cc6cc" fill="#fff" stroke-width="1.4"/><path d="M72.96,210.26L66.66,213.9L66.66,206.63Z" stroke="#1cc6cc" fill="#fff" stroke-width="1.4"/><path d="M77.76,206.42L71.46,210.05L71.46,202.78Z" stroke="#1cc6cc" fill="#fff" stroke-width="1.4"/><path d="M82.56,202.57L76.26,206.21L76.26,198.93Z" stroke="#1cc6cc" fill="#fff" stroke-width="1.4"/><path d="M87.36,198.72L81.06,202.36L81.06,195.09Z" stroke="#1cc6cc" fill="#fff" stroke-width="1.4"/><path d="M92.15,194.88L85.85,198.52L85.85,191.24Z" stroke="#1cc6cc" fill="#fff" stroke-width="1.4"/><path d="M96.95,191.03L90.65,194.67L90.65,187.39Z" stroke="#1cc6cc" fill="#fff" stroke-width="1.4"/><path d="M101.75,187.19L95.45,190.82L95.45,183.55Z" stroke="#1cc6cc" fill="#fff" stroke-width="1.4"/><path d="M106.55,183.34L100.25,186.98L100.25,179.7Z" stroke="#1cc6cc" fill="#fff" stroke-width="1.4"/><path d="M111.35,179.49L105.05,183.13L105.05,175.86Z" stroke="#1cc6cc" fill="#fff" stroke-width="1.4"/><path d="M116.14,175.65L109.84,179.28L109.84,172.01Z" stroke="#1cc6cc" fill="#fff" stroke-width="1.4"/><path d="M120.94,171.8L114.64,175.44L114.64,168.16Z" stroke="#1cc6cc" fill="#fff" stroke-width="1.4"/><path d="M125.74,167.95L119.44,171.59L119.44,164.32Z" stroke="#1cc6cc" fill="#fff" stroke-width="1.4"/><path d="M130.54,164.11L124.24,167.75L124.24,160.47Z" stroke="#1cc6cc" fill="#fff" stroke-width="1.4"/><path d="M135.34,160.26L129.04,163.9L129.04,156.62Z" stroke="#1cc6cc" fill="#fff" stroke-width="1.4"/><path d="M140.13,156.42L133.83,160.05L133.83,152.78Z" stroke="#1cc6cc" fill="#fff" stroke-width="1.4"/><path d="M144.93,152.4L138.63,156.04L138.63,148.77Z" stroke="#1cc6cc" fill="#fff" stroke-width="1.4"/><path d="M149.73,149.12L143.43,152.75L143.43,145.48Z" stroke="#1cc6cc" fill="#fff" stroke-width="1.4"/><path d="M154.53,146.2L148.23,149.83L148.23,142.56Z" stroke="#1cc6cc" fill="#fff" stroke-width="1.4"/><path d="M159.33,143.51L153.03,147.15L153.03,139.87Z" stroke="#1cc6cc" fill="#fff" stroke-width="1.4"/><path d="M164.12,141.11L157.82,144.74L157.82,137.47Z" stroke="#1cc6cc" fill="#fff" stroke-width="1.4"/><path d="M168.92,139.04L162.62,142.67L162.62,135.4Z" stroke="#1cc6cc" fill="#fff" stroke-width="1.4"/><path d="M173.72,137.35L167.42,140.99L167.42,133.72Z" stroke="#1cc6cc" fill="#fff" stroke-width="1.4"/><path d="M178.52,136.02L172.22,139.66L172.22,132.39Z" stroke="#1cc6cc" fill="#fff" stroke-width="1.4"/><path d="M183.32,134.92L177.02,138.56L177.02,131.28Z" stroke="#1cc6cc" fill="#fff" stroke-width="1.4"/><path d="M188.11,133.95L181.81,137.58L181.81,130.31Z" stroke="#1cc6cc" fill="#fff" stroke-width="1.4"/><path d="M192.91,133.01L186.61,136.64L186.61,129.37Z" stroke="#1cc6cc" fill="#fff" stroke-width="1.4"/><path d="M197.71,132L191.41,135.64L191.41,128.36Z" stroke="#1cc6cc" fill="#fff" stroke-width="1.4"/><path d="M202.51,130.97L196.21,134.61L196.21,127.33Z" stroke="#1cc6cc" fill="#fff" stroke-width="1.4"/><path d="M207.31,129.98L201.01,133.62L201.01,126.35Z" stroke="#1cc6cc" fill="#fff" stroke-width="1.4"/><path d="M212.1,128.97L205.8,132.61L205.8,125.34Z" stroke="#1cc6cc" fill="#fff" stroke-width="1.4"/><path d="M216.9,127.88L210.6,131.52L210.6,124.25Z" stroke="#1cc6cc" fill="#fff" stroke-width="1.4"/><path d="M221.7,126.65L215.4,130.29L215.4,123.01Z" stroke="#1cc6cc" fill="#fff" stroke-width="1.4"/><path d="M226.5,125.14L220.2,128.78L220.2,121.51Z" stroke="#1cc6cc" fill="#fff" stroke-width="1.4"/><path d="M231.3,123.37L225,127.01L225,119.73Z" stroke="#1cc6cc" fill="#fff" stroke-width="1.4"/><path d="M236.09,121.48L229.79,125.12L229.79,117.85Z" stroke="#1cc6cc" fill="#fff" stroke-width="1.4"/><path d="M240.89,119.63L234.59,123.27L234.59,115.99Z" stroke="#1cc6cc" fill="#fff" stroke-width="1.4"/><path d="M245.69,117.95L239.39,121.59L239.39,114.32Z" stroke="#1cc6cc" fill="#fff" stroke-width="1.4"/><path d="M250.49,116.48L244.19,120.12L244.19,112.85Z" stroke="#1cc6cc" fill="#fff" stroke-width="1.4"/><path d="M255.29,115.13L248.99,118.76L248.99,111.49Z" stroke="#1cc6cc" fill="#fff" stroke-width="1.4"/><path d="M260.08,113.85L253.78,117.48L253.78,110.21Z" stroke="#1cc6cc" fill="#fff" stroke-width="1.4"/><path d="M264.88,112.62L258.58,116.25L258.58,108.98Z" stroke="#1cc6cc" fill="#fff" stroke-width="1.4"/><path d="M269.68,111.41L263.38,115.04L263.38,107.77Z" stroke="#1cc6cc" fill="#fff" stroke-width="1.4"/><path d="M274.48,110.18L268.18,113.82L268.18,106.55Z" stroke="#1cc6cc" fill="#fff" stroke-width="1.4"/><path d="M279.28,108.92L272.98,112.56L272.98,105.28Z" stroke="#1cc6cc" fill="#fff" stroke-width="1.4"/><path d="M284.07,107.58L277.77,111.22L277.77,103.95Z" stroke="#1cc6cc" fill="#fff" stroke-width="1.4"/><path d="M288.87,106.15L282.57,109.78L282.57,102.51Z" stroke="#1cc6cc" fill="#fff" stroke-width="1.4"/><path d="M293.67,104.58L287.37,108.21L287.37,100.94Z" stroke="#1cc6cc" fill="#fff" stroke-width="1.4"/><path d="M298.47,102.87L292.17,106.51L292.17,99.23Z" stroke="#1cc6cc" fill="#fff" stroke-width="1.4"/><path d="M303.27,101.06L296.97,104.69L296.97,97.42Z" stroke="#1cc6cc" fill="#fff" stroke-width="1.4"/><path d="M308.06,99.13L301.76,102.77L301.76,95.5Z" stroke="#1cc6cc" fill="#fff" stroke-width="1.4"/><path d="M312.86,97.11L306.56,100.75L306.56,93.47Z" stroke="#1cc6cc" fill="#fff" stroke-width="1.4"/><path d="M317.66,94.99L311.36,98.63L311.36,91.36Z" stroke="#1cc6cc" fill="#fff" stroke-width="1.4"/><path d="M322.46,92.79L316.16,96.42L316.16,89.15Z" stroke="#1cc6cc" fill="#fff" stroke-width="1.4"/><path d="M327.26,90.49L320.96,94.13L320.96,86.86Z" stroke="#1cc6cc" fill="#fff" stroke-width="1.4"/><path d="M332.05,88.12L325.75,91.76L325.75,84.49Z" stroke="#1cc6cc" fill="#fff" stroke-width="1.4"/><path d="M336.85,85.68L330.55,89.32L330.55,82.04Z" stroke="#1cc6cc" fill="#fff" stroke-width="1.4"/><path d="M341.65,83.17L335.35,86.81L335.35,79.53Z" stroke="#1cc6cc" fill="#fff" stroke-width="1.4"/></g><g><path d="M50.47,259.82L47.53,258.12L47.53,254.72L50.47,253.02L53.41,254.72L53.41,258.12Z" stroke="#9a0fd6" fill="#fff" stroke-width="1.4"/><path d="M55.27,255.5L52.32,253.8L52.32,250.4L55.27,248.7L58.21,250.4L58.21,253.8Z" stroke="#9a0fd6" fill="#fff" stroke-width="1.4"/><path d="M60.07,251.19L57.12,249.49L57.12,246.09L60.07,244.39L63.01,246.09L63.01,249.49Z" stroke="#9a0fd6" fill="#fff" stroke-width="1.4"/><path d="M64.86,246.87L61.92,245.17L61.92,241.77L64.86,240.07L67.81,241.77L67.81,245.17Z" stroke="#9a0fd6" fill="#fff" stroke-width="1.4"/><path d="M69.66,242.56L66.72,240.86L66.72,237.46L69.66,235.76L72.61,237.46L72.61,240.86Z" stroke="#9a0fd6" fill="#fff" stroke-width="1.4"/><path d="M74.46,238.24L71.52,236.54L71.52,233.14L74.46,231.44L77.4,233.14L77.4,236.54Z" stroke="#9a0fd6" fill="#fff" stroke-width="1.4"/><path d="M79.26,233.93L76.31,232.23L76.31,228.83L79.26,227.13L82.2,228.83L82.2,232.23Z" stroke="#9a0fd6" fill="#fff" stroke-width="1.4"/><path d="M84.06,229.62L81.11,227.92L81.11,224.52L84.06,222.82L87,224.52L87,227.92Z" stroke="#9a0fd6" fill="#fff" stroke-width="1.4"/><path d="M88.85,225.3L85.91,223.6L85.91,220.2L88.85,218.5L91.8,220.2L91.8,223.6Z" stroke="#9a0fd6" fill="#fff" stroke-width="1.4"/><path d="M93.65,220.99L90.71,219.29L90.71,215.89L93.65,214.19L96.6,215.89L96.6,219.29Z" stroke="#9a0fd6" fill="#fff" stroke-width="1.4"/><path d="M98.45,216.67L95.51,214.97L95.51,211.57L98.45,209.87L101.39,211.57L101.39,214.97Z" stroke="#9a0fd6" fill="#fff" stroke-width="1.4"/><path d="M103.25,212.36L100.3,210.66L100.3,207.26L103.25,205.56L106.19,207.26L106.19,210.66Z" stroke="#9a0fd6" fill="#fff" stroke-width="1.4"/><path d="M108.05,208.04L105.1,206.34L105.1,202.94L108.05,201.24L110.99,202.94L110.99,206.34Z" stroke="#9a0fd6" fill="#fff" stroke-width="1.4"/><path d="M112.84,203.73L109.9,202.03L109.9,198.63L112.84,196.93L115.79,198.63L115.79,202.03Z" stroke="#9a0fd6" fill="#fff" stroke-width="1.4"/><path d="M117.64,199.41L114.7,197.71L114.7,194.31L117.64,192.61L120.59,194.31L120.59,197.71Z" stroke="#9a0fd6" fill="#fff" stroke-width="1.4"/><path d="M122.44,195.1L119.5,193.4L119.5,190L122.44,188.3L125.38,190L125.38,193.4Z" stroke="#9a0fd6" fill="#fff" stroke-width="1.4"/><path d="M127.24,190.79L124.29,189.09L124.29,185.69L127.24,183.99L130.18,185.69L130.18,189.09Z" stroke="#9a0fd6" fill="#fff" stroke-width="1.4"/><path d="M132.04,186.47L129.09,184.77L129.09,181.37L132.04,179.67L134.98,181.37L134.98,184.77Z" stroke="#9a0fd6" fill="#fff" stroke-width="1.4"/><path d="M136.83,182.16L133.89,180.46L133.89,177.06L136.83,175.36L139.78,177.06L139.78,180.46Z" stroke="#9a0fd6" fill="#fff" stroke-width="1.4"/><path d="M141.63,177.81L138.69,176.11L138.69,172.71L141.63,171.01L144.58,172.71L144.58,176.11Z" stroke="#9a0fd6" fill="#fff" stroke-width="1.4"/><path d="M146.43,173.53L143.49,171.83L143.49,168.43L146.43,166.73L149.37,168.43L149.37,171.83Z" stroke="#9a0fd6" fill="#fff" stroke-width="1.4"/><path d="M151.23,169.59L148.28,167.89L148.28,164.49L151.23,162.79L154.17,164.49L154.17,167.89Z" stroke="#9a0fd6" fill="#fff" stroke-width="1.4"/><path d="M156.03,165.9L153.08,164.2L153.08,160.8L156.03,159.1L158.97,160.8L158.97,164.2Z" stroke="#9a0fd6" fill="#fff" stroke-width="1.4"/><path d="M160.82,162.52L157.88,160.82L157.88,157.42L160.82,155.72L163.77,157.42L163.77,160.82Z" stroke="#9a0fd6" fill="#fff" stroke-width="1.4"/><path d="M165.62,159.43L162.68,157.73L162.68,154.33L165.62,152.63L168.57,154.33L168.57,157.73Z" stroke="#9a0fd6" fill="#fff" stroke-width="1.4"/><path d="M170.42,156.47L167.48,154.77L167.48,151.37L170.42,149.67L173.36,151.37L173.36,154.77Z" stroke="#9a0fd6" fill="#fff" stroke-width="1.4"/><path d="M175.22,153.55L172.27,151.85L172.27,148.45L175.22,146.75L178.16,148.45L178.16,151.85Z" stroke="#9a0fd6" fill="#fff" stroke-width="1.4"/><path d="M180.02,150.75L177.07,149.05L177.07,145.65L180.02,143.95L182.96,145.65L182.96,149.05Z" stroke="#9a0fd6" fill="#fff" stroke-width="1.4"/><path d="M184.81,148.22L181.87,146.52L181.87,143.12L184.81,141.42L187.76,143.12L187.76,146.52Z" stroke="#9a0fd6" fill="#fff" stroke-width="1.4"/><path d="M189.61,145.92L186.67,144.22L186.67,140.82L189.61,139.12L192.56,140.82L192.56,144.22Z" stroke="#9a0fd6" fill="#fff" stroke-width="1.4"/><path d="M194.41,143.76L191.47,142.06L191.47,138.66L194.41,136.96L197.35,138.66L197.35,142.06Z" stroke="#9a0fd6" fill="#fff" stroke-width="1.4"/><path d="M199.21,141.78L196.26,140.08L196.26,136.68L199.21,134.98L202.15,136.68L202.15,140.08Z" stroke="#9a0fd6" fill="#fff" stroke-width="1.4"/><path d="M204.01,139.97L201.06,138.27L201.06,134.87L204.01,133.17L206.95,134.87L206.95,138.27Z" stroke="#9a0fd6" fill="#fff" stroke-width="1.4"/><path d="M208.8,138.18L205.86,136.48L205.86,133.08L208.8,131.38L211.75,133.08L211.75,136.48Z" stroke="#9a0fd6" fill="#fff" stroke-width="1.4"/><path d="M213.6,136.26L210.66,134.56L210.66,131.16L213.6,129.46L216.55,131.16L216.55,134.56Z" stroke="#9a0fd6" fill="#fff" stroke-width="1.4"/><path d="M218.4,134.06L215.46,132.36L215.46,128.96L218.4,127.26L221.34,128.96L221.34,132.36Z" stroke="#9a0fd6" fill="#fff" stroke-width="1.4"/><path d="M223.2,131.38L220.25,129.68L220.25,126.28L223.2,124.58L226.14,126.28L226.14,129.68Z" stroke="#9a0fd6" fill="#fff" stroke-width="1.4"/><path d="M228,128.26L225.05,126.56L225.05,123.16L228,121.46L230.94,123.16L230.94,126.56Z" stroke="#9a0fd6" fill="#fff" stroke-width="1.4"/><path d="M232.79,124.95L229.85,123.25L229.85,119.85L232.79,118.15L235.74,119.85L235.74,123.25Z" stroke="#9a0fd6" fill="#fff" stroke-width="1.4"/><path d="M237.59,121.67L234.65,119.97L234.65,116.57L237.59,114.87L240.54,116.57L240.54,119.97Z" stroke="#9a0fd6" fill="#fff" stroke-width="1.4"/><path d="M242.39,118.68L239.45,116.98L239.45,113.58L242.39,111.88L245.33,113.58L245.33,116.98Z" stroke="#9a0fd6" fill="#fff" stroke-width="1.4"/><path d="M247.19,115.99L244.24,114.29L244.24,110.89L247.19,109.19L250.13,110.89L250.13,114.29Z" stroke="#9a0fd6" fill="#fff" stroke-width="1.4"/><path d="M251.99,113.43L249.04,111.73L249.04,108.33L251.99,106.63L254.93,108.33L254.93,111.73Z" stroke="#9a0fd6" fill="#fff" stroke-width="1.4"/><path d="M256.78,110.97L253.84,109.27L253.84,105.87L256.78,104.17L259.73,105.87L259.73,109.27Z" stroke="#9a0fd6" fill="#fff" stroke-width="1.4"/><path d="M261.58,108.59L258.64,106.89L258.64,103.49L261.58,101.79L264.53,103.49L264.53,106.89Z" stroke="#9a0fd6" fill="#fff" stroke-width="1.4"/><path d="M266.38,106.25L263.44,104.55L263.44,101.15L266.38,99.45L269.32,101.15L269.32,104.55Z" stroke="#9a0fd6" fill="#fff" stroke-width="1.4"/><path d="M271.18,103.91L268.23,102.21L268.23,98.81L271.18,97.11L274.12,98.81L274.12,102.21Z" stroke="#9a0fd6" fill="#fff" stroke-width="1.4"/><path d="M275.98,101.56L273.03,99.86L273.03,96.46L275.98,94.76L278.92,96.46L278.92,99.86Z" stroke="#9a0fd6" fill="#fff" stroke-width="1.4"/><path d="M280.77,99.15L277.83,97.45L277.83,94.05L280.77,92.35L283.72,94.05L283.72,97.45Z" stroke="#9a0fd6" fill="#fff" stroke-width="1.4"/><path d="M285.57,96.67L282.63,94.97L282.63,91.57L285.57,89.87L288.52,91.57L288.52,94.97Z" stroke="#9a0fd6" fill="#fff" stroke-width="1.4"/><path d="M290.37,94.06L287.43,92.36L287.43,88.96L290.37,87.26L293.31,88.96L293.31,92.36Z" stroke="#9a0fd6" fill="#fff" stroke-width="1.4"/><path d="M295.17,91.37L292.22,89.67L292.22,86.27L295.17,84.57L298.11,86.27L298.11,89.67Z" stroke="#9a0fd6" fill="#fff" stroke-width="1.4"/><path d="M299.97,88.62L297.02,86.92L297.02,83.52L299.97,81.82L302.91,83.52L302.91,86.92Z" stroke="#9a0fd6" fill="#fff" stroke-width="1.4"/><path d="M304.76,85.82L301.82,84.12L301.82,80.72L304.76,79.02L307.71,80.72L307.71,84.12Z" stroke="#9a0fd6" fill="#fff" stroke-width="1.4"/><path d="M309.56,82.97L306.62,81.27L306.62,77.87L309.56,76.17L312.51,77.87L312.51,81.27Z" stroke="#9a0fd6" fill="#fff" stroke-width="1.4"/><path d="M314.36,80.07L311.42,78.37L311.42,74.97L314.36,73.27L317.3,74.97L317.3,78.37Z" stroke="#9a0fd6" fill="#fff" stroke-width="1.4"/><path d="M319.16,77.13L316.21,75.43L316.21,72.03L319.16,70.33L322.1,72.03L322.1,75.43Z" stroke="#9a0fd6" fill="#fff" stroke-width="1.4"/><path d="M323.96,74.14L321.01,72.44L321.01,69.04L323.96,67.34L326.9,69.04L326.9,72.44Z" stroke="#9a0fd6" fill="#fff" stroke-width="1.4"/><path d="M328.75,71.1L325.81,69.4L325.81,66L328.75,64.3L331.7,66L331.7,69.4Z" stroke="#9a0fd6" fill="#fff" stroke-width="1.4"/><path d="M333.55,68.02L330.61,66.32L330.61,62.92L333.55,61.22L336.5,62.92L336.5,66.32Z" stroke="#9a0fd6" fill="#fff" stroke-width="1.4"/><path d="M338.35,64.9L335.41,63.2L335.41,59.8L338.35,58.1L341.29,59.8L341.29,63.2Z" stroke="#9a0fd6" fill="#fff" stroke-width="1.4"/></g><g><path d="M50.47,242.58L51.59,245.25L54.46,245.49L52.28,247.37L52.94,250.18L50.47,248.68L48,250.18L48.66,247.37L46.48,245.49L49.35,245.25Z" stroke="#8c8a17" fill="#fff" stroke-width="1.4"/><path d="M55.27,238.34L56.38,241L59.26,241.24L57.08,243.12L57.74,245.93L55.27,244.44L52.8,245.93L53.46,243.12L51.27,241.24L54.15,241Z" stroke="#8c8a17" fill="#fff" stroke-width="1.4"/><path d="M60.07,234.09L61.18,236.75L64.06,236.99L61.87,238.88L62.53,241.69L60.07,240.19L57.6,241.69L58.26,238.88L56.07,236.99L58.95,236.75Z" stroke="#8c8a17" fill="#fff" stroke-width="1.4"/><path d="M64.86,229.84L65.98,232.5L68.86,232.74L66.67,234.63L67.33,237.44L64.86,235.94L62.4,237.44L63.06,234.63L60.87,232.74L63.75,232.5Z" stroke="#8c8a17" fill="#fff" stroke-width="1.4"/><path d="M69.66,225.59L70.78,228.26L73.66,228.5L71.47,230.38L72.13,233.19L69.66,231.69L67.19,233.19L67.85,230.38L65.67,228.5L68.55,228.26Z" stroke="#8c8a17" fill="#fff" stroke-width="1.4"/><path d="M74.46,221.35L75.58,224.01L78.45,224.25L76.27,226.13L76.93,228.94L74.46,227.45L71.99,228.94L72.65,226.13L70.47,224.25L73.34,224.01Z" stroke="#8c8a17" fill="#fff" stroke-width="1.4"/><path d="M79.26,217.1L80.37,219.76L83.25,220L81.07,221.89L81.73,224.7L79.26,223.2L76.79,224.7L77.45,221.89L75.26,220L78.14,219.76Z" stroke="#8c8a17" fill="#fff" stroke-width="1.4"/><path d="M84.06,212.85L85.17,215.51L88.05,215.75L85.86,217.64L86.52,220.45L84.06,218.95L81.59,220.45L82.25,217.64L80.06,215.75L82.94,215.51Z" stroke="#8c8a17" fill="#fff" stroke-width="1.4"/><path d="M88.85,208.6L89.97,211.27L92.85,211.51L90.66,213.39L91.32,216.2L88.85,214.7L86.39,216.2L87.05,213.39L84.86,211.51L87.74,211.27Z" stroke="#8c8a17" fill="#fff" stroke-width="1.4"/><path d="M93.65,204.36L94.77,207.02L97.65,207.26L95.46,209.14L96.12,211.95L93.65,210.46L91.18,211.95L91.84,209.14L89.66,207.26L92.54,207.02Z" stroke="#8c8a17" fill="#fff" stroke-width="1.4"/><path d="M98.45,200.11L99.57,202.77L102.44,203.01L100.26,204.9L100.92,207.71L98.45,206.21L95.98,207.71L96.64,204.9L94.46,203.01L97.33,202.77Z" stroke="#8c8a17" fill="#fff" stroke-width="1.4"/><path d="M103.25,195.86L104.36,198.52L107.24,198.76L105.06,200.65L105.72,203.46L103.25,201.96L100.78,203.46L101.44,200.65L99.25,198.76L102.13,198.52Z" stroke="#8c8a17" fill="#fff" stroke-width="1.4"/><path d="M108.05,191.61L109.16,194.28L112.04,194.52L109.85,196.4L110.51,199.21L108.05,197.71L105.58,199.21L106.24,196.4L104.05,194.52L106.93,194.28Z" stroke="#8c8a17" fill="#fff" stroke-width="1.4"/><path d="M112.84,187.37L113.96,190.03L116.84,190.27L114.65,192.15L115.31,194.96L112.84,193.47L110.38,194.96L111.04,192.15L108.85,190.27L111.73,190.03Z" stroke="#8c8a17" fill="#fff" stroke-width="1.4"/><path d="M117.64,183.12L118.76,185.78L121.64,186.02L119.45,187.91L120.11,190.72L117.64,189.22L115.17,190.72L115.83,187.91L113.65,186.02L116.53,185.78Z" stroke="#8c8a17" fill="#fff" stroke-width="1.4"/><path d="M122.44,178.87L123.56,181.53L126.43,181.77L124.25,183.66L124.91,186.47L122.44,184.97L119.97,186.47L120.63,183.66L118.45,181.77L121.32,181.53Z" stroke="#8c8a17" fill="#fff" stroke-width="1.4"/><path d="M127.24,174.62L128.35,177.29L131.23,177.52L129.05,179.41L129.71,182.22L127.24,180.72L124.77,182.22L125.43,179.41L123.24,177.52L126.12,177.29Z" stroke="#8c8a17" fill="#fff" stroke-width="1.4"/><path d="M132.04,170.38L133.15,173.04L136.03,173.28L133.84,175.16L134.5,177.97L132.04,176.48L129.57,177.97L130.23,175.16L128.04,173.28L130.92,173.04Z" stroke="#8c8a17" fill="#fff" stroke-width="1.4"/><path d="M136.83,166.13L137.95,168.79L140.83,169.03L138.64,170.91L139.3,173.73L136.83,172.23L134.37,173.73L135.03,170.91L132.84,169.03L135.72,168.79Z" stroke="#8c8a17" fill="#fff" stroke-width="1.4"/><path d="M141.63,161.81L142.75,164.47L145.63,164.71L143.44,166.6L144.1,169.41L141.63,167.91L139.16,169.41L139.82,166.6L137.64,164.71L140.52,164.47Z" stroke="#8c8a17" fill="#fff" stroke-width="1.4"/><path d="M146.43,157.63L147.55,160.3L150.42,160.53L148.24,162.42L148.9,165.23L146.43,163.73L143.96,165.23L144.62,162.42L142.44,160.53L145.31,160.3Z" stroke="#8c8a17" fill="#fff" stroke-width="1.4"/><path d="M151.23,154.36L152.34,157.02L155.22,157.26L153.04,159.15L153.7,161.96L151.23,160.46L148.76,161.96L149.42,159.15L147.23,157.26L150.11,157.02Z" stroke="#8c8a17" fill="#fff" stroke-width="1.4"/><path d="M156.03,151.44L157.14,154.1L160.02,154.34L157.83,156.22L158.49,159.03L156.03,157.54L153.56,159.03L154.22,156.22L152.03,154.34L154.91,154.1Z" stroke="#8c8a17" fill="#fff" stroke-width="1.4"/><path d="M160.82,148.34L161.94,151L164.82,151.24L162.63,153.13L163.29,155.94L160.82,154.44L158.36,155.94L159.02,153.13L156.83,151.24L159.71,151Z" stroke="#8c8a17" fill="#fff" stroke-width="1.4"/><path d="M165.62,145.04L166.74,147.71L169.62,147.94L167.43,149.83L168.09,152.64L165.62,151.14L163.15,152.64L163.81,149.83L161.63,147.94L164.51,147.71Z" stroke="#8c8a17" fill="#fff" stroke-width="1.4"/><path d="M170.42,142.25L171.54,144.91L174.41,145.15L172.23,147.04L172.89,149.85L170.42,148.35L167.95,149.85L168.61,147.04L166.43,145.15L169.3,144.91Z" stroke="#8c8a17" fill="#fff" stroke-width="1.4"/><path d="M175.22,140.14L176.33,142.81L179.21,143.05L177.03,144.93L177.69,147.74L175.22,146.24L172.75,147.74L173.41,144.93L171.22,143.05L174.1,142.81Z" stroke="#8c8a17" fill="#fff" stroke-width="1.4"/><path d="M180.02,138.34L181.13,141L184.01,141.24L181.82,143.12L182.48,145.94L180.02,144.44L177.55,145.94L178.21,143.12L176.02,141.24L178.9,141Z" stroke="#8c8a17" fill="#fff" stroke-width="1.4"/><path d="M184.81,136.71L185.93,139.38L188.81,139.62L186.62,141.5L187.28,144.31L184.81,142.81L182.35,144.31L183.01,141.5L180.82,139.62L183.7,139.38Z" stroke="#8c8a17" fill="#fff" stroke-width="1.4"/><path d="M189.61,135.16L190.73,137.82L193.61,138.06L191.42,139.95L192.08,142.76L189.61,141.26L187.14,142.76L187.8,139.95L185.62,138.06L188.5,137.82Z" stroke="#8c8a17" fill="#fff" stroke-width="1.4"/><path d="M194.41,133.55L195.53,136.22L198.4,136.45L196.22,138.34L196.88,141.15L194.41,139.65L191.94,141.15L192.6,138.34L190.42,136.45L193.29,136.22Z" stroke="#8c8a17" fill="#fff" stroke-width="1.4"/><path d="M199.21,131.96L200.32,134.63L203.2,134.87L201.02,136.75L201.68,139.56L199.21,138.06L196.74,139.56L197.4,136.75L195.21,134.87L198.09,134.63Z" stroke="#8c8a17" fill="#fff" stroke-width="1.4"/><path d="M204.01,130.47L205.12,133.13L208,133.37L205.81,135.26L206.47,138.07L204.01,136.57L201.54,138.07L202.2,135.26L200.01,133.37L202.89,133.13Z" stroke="#8c8a17" fill="#fff" stroke-width="1.4"/><path d="M208.8,128.97L209.92,131.63L212.8,131.87L210.61,133.75L211.27,136.56L208.8,135.07L206.34,136.56L207,133.75L204.81,131.87L207.69,131.63Z" stroke="#8c8a17" fill="#fff" stroke-width="1.4"/><path d="M213.6,127.35L214.72,130.02L217.6,130.25L215.41,132.14L216.07,134.95L213.6,133.45L211.13,134.95L211.79,132.14L209.61,130.25L212.49,130.02Z" stroke="#8c8a17" fill="#fff" stroke-width="1.4"/><path d="M218.4,125.53L219.52,128.19L222.39,128.43L220.21,130.31L220.87,133.12L218.4,131.63L215.93,133.12L216.59,130.31L214.41,128.43L217.28,128.19Z" stroke="#8c8a17" fill="#fff" stroke-width="1.4"/><path d="M223.2,123.32L224.31,125.98L227.19,126.22L225.01,128.11L225.67,130.92L223.2,129.42L220.73,130.92L221.39,128.11L219.2,126.22L222.08,125.98Z" stroke="#8c8a17" fill="#fff" stroke-width="1.4"/><path d="M228,120.76L229.11,123.42L231.99,123.66L229.8,125.55L230.46,128.36L228,126.86L225.53,128.36L226.19,125.55L224,123.66L226.88,123.42Z" stroke="#8c8a17" fill="#fff" stroke-width="1.4"/><path d="M232.79,118.03L233.91,120.7L236.79,120.93L234.6,122.82L235.26,125.63L232.79,124.13L230.33,125.63L230.99,122.82L228.8,120.93L231.68,120.7Z" stroke="#8c8a17" fill="#fff" stroke-width="1.4"/><path d="M237.59,115.32L238.71,117.99L241.59,118.22L239.4,120.11L240.06,122.92L237.59,121.42L235.12,122.92L235.78,120.11L233.6,118.22L236.48,117.99Z" stroke="#8c8a17" fill="#fff" stroke-width="1.4"/><path d="M242.39,112.82L243.51,115.48L246.38,115.72L244.2,117.6L244.86,120.41L242.39,118.92L239.92,120.41L240.58,117.6L238.4,115.72L241.27,115.48Z" stroke="#8c8a17" fill="#fff" stroke-width="1.4"/><path d="M247.19,110.54L248.3,113.2L251.18,113.44L249,115.33L249.66,118.14L247.19,116.64L244.72,118.14L245.38,115.33L243.19,113.44L246.07,113.2Z" stroke="#8c8a17" fill="#fff" stroke-width="1.4"/><path d="M251.99,108.37L253.1,111.03L255.98,111.27L253.79,113.16L254.45,115.97L251.99,114.47L249.52,115.97L250.18,113.16L247.99,111.27L250.87,111.03Z" stroke="#8c8a17" fill="#fff" stroke-width="1.4"/><path d="M256.78,106.28L257.9,108.95L260.78,109.19L258.59,111.07L259.25,113.88L256.78,112.38L254.32,113.88L254.98,111.07L252.79,109.19L255.67,108.95Z" stroke="#8c8a17" fill="#fff" stroke-width="1.4"/><path d="M261.58,104.25L262.7,106.91L265.58,107.15L263.39,109.04L264.05,111.85L261.58,110.35L259.11,111.85L259.77,109.04L257.59,107.15L260.47,106.91Z" stroke="#8c8a17" fill="#fff" stroke-width="1.4"/><path d="M266.38,102.24L267.5,104.9L270.37,105.14L268.19,107.02L268.85,109.83L266.38,108.34L263.91,109.83L264.57,107.02L262.39,105.14L265.26,104.9Z" stroke="#8c8a17" fill="#fff" stroke-width="1.4"/><path d="M271.18,100.22L272.29,102.88L275.17,103.12L272.99,105L273.65,107.81L271.18,106.32L268.71,107.81L269.37,105L267.18,103.12L270.06,102.88Z" stroke="#8c8a17" fill="#fff" stroke-width="1.4"/><path d="M275.98,98.16L277.09,100.82L279.97,101.06L277.78,102.95L278.44,105.76L275.98,104.26L273.51,105.76L274.17,102.95L271.98,101.06L274.86,100.82Z" stroke="#8c8a17" fill="#fff" stroke-width="1.4"/><path d="M280.77,96.04L281.89,98.7L284.77,98.94L282.58,100.82L283.24,103.63L280.77,102.14L278.31,103.63L278.97,100.82L276.78,98.94L279.66,98.7Z" stroke="#8c8a17" fill="#fff" stroke-width="1.4"/><path d="M285.57,93.82L286.69,96.48L289.57,96.72L287.38,98.61L288.04,101.42L285.57,99.92L283.1,101.42L283.76,98.61L281.58,96.72L284.46,96.48Z" stroke="#8c8a17" fill="#fff" stroke-width="1.4"/><path d="M290.37,91.48L291.49,94.14L294.36,94.38L292.18,96.27L292.84,99.08L290.37,97.58L287.9,99.08L288.56,96.27L286.38,94.38L289.25,94.14Z" stroke="#8c8a17" fill="#fff" stroke-width="1.4"/><path d="M295.17,89.03L296.28,91.69L299.16,91.93L296.98,93.81L297.64,96.62L295.17,95.13L292.7,96.62L293.36,93.81L291.17,91.93L294.05,91.69Z" stroke="#8c8a17" fill="#fff" stroke-width="1.4"/><path d="M299.97,86.49L301.08,89.16L303.96,89.4L301.77,91.28L302.43,94.09L299.97,92.59L297.5,94.09L298.16,91.28L295.97,89.4L298.85,89.16Z" stroke="#8c8a17" fill="#fff" stroke-width="1.4"/><path d="M304.76,83.89L305.88,86.55L308.76,86.79L306.57,88.67L307.23,91.48L304.76,89.99L302.3,91.48L302.96,88.67L300.77,86.79L303.65,86.55Z" stroke="#8c8a17" fill="#fff" stroke-width="1.4"/><path d="M309.56,81.21L310.68,83.87L313.56,84.11L311.37,85.99L312.03,88.8L309.56,87.31L307.09,88.8L307.75,85.99L305.57,84.11L308.45,83.87Z" stroke="#8c8a17" fill="#fff" stroke-width="1.4"/><path d="M314.36,78.45L315.48,81.12L318.35,81.36L316.17,83.24L316.83,86.05L314.36,84.55L311.89,86.05L312.55,83.24L310.37,81.36L313.24,81.12Z" stroke="#8c8a17" fill="#fff" stroke-width="1.4"/><path d="M319.16,75.63L320.27,78.3L323.15,78.54L320.97,80.42L321.63,83.23L319.16,81.73L316.69,83.23L317.35,80.42L315.16,78.54L318.04,78.3Z" stroke="#8c8a17" fill="#fff" stroke-width="1.4"/><path d="M323.96,72.75L325.07,75.41L327.95,75.65L325.76,77.53L326.42,80.35L323.96,78.85L321.49,80.35L322.15,77.53L319.96,75.65L322.84,75.41Z" stroke="#8c8a17" fill="#fff" stroke-width="1.4"/><path d="M328.75,69.8L329.87,72.46L332.75,72.7L330.56,74.59L331.22,77.4L328.75,75.9L326.29,77.4L326.95,74.59L324.76,72.7L327.64,72.46Z" stroke="#8c8a17" fill="#fff" stroke-width="1.4"/><path d="M333.55,66.79L334.67,69.45L337.55,69.69L335.36,71.58L336.02,74.39L333.55,72.89L331.08,74.39L331.74,71.58L329.56,69.69L332.44,69.45Z" stroke="#8c8a17" fill="#fff" stroke-width="1.4"/><path d="M338.35,63.72L339.47,66.38L342.34,66.62L340.16,68.51L340.82,71.32L338.35,69.82L335.88,71.32L336.54,68.51L334.36,66.62L337.23,66.38Z" stroke="#8c8a17" fill="#fff" stroke-width="1.4"/></g><g><path d="M50.47,227.46L53.89,229.95L52.59,233.98L48.35,233.98L47.05,229.95Z" stroke="#f5781f" fill="#fff" stroke-width="1.4"/><path d="M55.27,223.24L58.69,225.72L57.38,229.75L53.15,229.75L51.84,225.72Z" stroke="#f5781f" fill="#fff" stroke-width="1.4"/><path d="M60.07,219.01L63.49,221.5L62.18,225.52L57.95,225.52L56.64,221.5Z" stroke="#f5781f" fill="#fff" stroke-width="1.4"/><path d="M64.86,214.78L68.29,217.27L66.98,221.29L62.75,221.29L61.44,217.27Z" stroke="#f5781f" fill="#fff" stroke-width="1.4"/><path d="M69.66,210.55L73.09,213.04L71.78,217.07L67.55,217.07L66.24,213.04Z" stroke="#f5781f" fill="#fff" stroke-width="1.4"/><path d="M74.46,206.33L77.88,208.81L76.58,212.84L72.34,212.84L71.04,208.81Z" stroke="#f5781f" fill="#fff" stroke-width="1.4"/><path d="M79.26,202.1L82.68,204.59L81.37,208.61L77.14,208.61L75.83,204.59Z" stroke="#f5781f" fill="#fff" stroke-width="1.4"/><path d="M84.06,197.87L87.48,200.36L86.17,204.38L81.94,204.38L80.63,200.36Z" stroke="#f5781f" fill="#fff" stroke-width="1.4"/><path d="M88.85,193.64L92.28,196.13L90.97,200.16L86.74,200.16L85.43,196.13Z" stroke="#f5781f" fill="#fff" stroke-width="1.4"/><path d="M93.65,189.42L97.08,191.9L95.77,195.93L91.54,195.93L90.23,191.9Z" stroke="#f5781f" fill="#fff" stroke-width="1.4"/><path d="M98.45,185.19L101.87,187.68L100.57,191.7L96.33,191.7L95.03,187.68Z" stroke="#f5781f" fill="#fff" stroke-width="1.4"/><path d="M103.25,180.96L106.67,183.45L105.36,187.47L101.13,187.47L99.82,183.45Z" stroke="#f5781f" fill="#fff" stroke-width="1.4"/><path d="M108.05,176.73L111.47,179.22L110.16,183.25L105.93,183.25L104.62,179.22Z" stroke="#f5781f" fill="#fff" stroke-width="1.4"/><path d="M112.84,172.51L116.27,174.99L114.96,179.02L110.73,179.02L109.42,174.99Z" stroke="#f5781f" fill="#fff" stroke-width="1.4"/><path d="M117.64,168.28L121.07,170.77L119.76,174.79L115.53,174.79L114.22,170.77Z" stroke="#f5781f" fill="#fff" stroke-width="1.4"/><path d="M122.44,164.05L125.86,166.54L124.56,170.56L120.32,170.56L119.02,166.54Z" stroke="#f5781f" fill="#fff" stroke-width="1.4"/><path d="M127.24,159.82L130.66,162.31L129.35,166.34L125.12,166.34L123.81,162.31Z" stroke="#f5781f" fill="#fff" stroke-width="1.4"/><path d="M132.04,155.6L135.46,158.08L134.15,162.11L129.92,162.11L128.61,158.08Z" stroke="#f5781f" fill="#fff" stroke-width="1.4"/><path d="M136.83,151.37L140.26,153.86L138.95,157.88L134.72,157.88L133.41,153.86Z" stroke="#f5781f" fill="#fff" stroke-width="1.4"/><path d="M141.63,147.03L145.06,149.51L143.75,153.54L139.52,153.54L138.21,149.51Z" stroke="#f5781f" fill="#fff" stroke-width="1.4"/><path d="M146.43,142.91L149.85,145.4L148.55,149.43L144.31,149.43L143.01,145.4Z" stroke="#f5781f" fill="#fff" stroke-width="1.4"/><path d="M151.23,139.88L154.65,142.36L153.34,146.39L149.11,146.39L147.8,142.36Z" stroke="#f5781f" fill="#fff" stroke-width="1.4"/><path d="M156.03,137.15L159.45,139.64L158.14,143.66L153.91,143.66L152.6,139.64Z" stroke="#f5781f" fill="#fff" stroke-width="1.4"/><path d="M160.82,134.77L164.25,137.26L162.94,141.28L158.71,141.28L157.4,137.26Z" stroke="#f5781f" fill="#fff" stroke-width="1.4"/><path d="M165.62,132.76L169.05,135.24L167.74,139.27L163.51,139.27L162.2,135.24Z" stroke="#f5781f" fill="#fff" stroke-width="1.4"/><path d="M170.42,131.14L173.84,133.63L172.54,137.65L168.3,137.65L167,133.63Z" stroke="#f5781f" fill="#fff" stroke-width="1.4"/><path d="M175.22,129.86L178.64,132.34L177.33,136.37L173.1,136.37L171.79,132.34Z" stroke="#f5781f" fill="#fff" stroke-width="1.4"/><path d="M180.02,128.77L183.44,131.26L182.13,135.28L177.9,135.28L176.59,131.26Z" stroke="#f5781f" fill="#fff" stroke-width="1.4"/><path d="M184.81,127.83L188.24,130.31L186.93,134.34L182.7,134.34L181.39,130.31Z" stroke="#f5781f" fill="#fff" stroke-width="1.4"/><path d="M189.61,126.97L193.04,129.45L191.73,133.48L187.5,133.48L186.19,129.45Z" stroke="#f5781f" fill="#fff" stroke-width="1.4"/><path d="M194.41,126.13L197.83,128.61L196.53,132.64L192.29,132.64L190.99,128.61Z" stroke="#f5781f" fill="#fff" stroke-width="1.4"/><path d="M199.21,125.32L202.63,127.81L201.32,131.83L197.09,131.83L195.78,127.81Z" stroke="#f5781f" fill="#fff" stroke-width="1.4"/><path d="M204.01,124.59L207.43,127.08L206.12,131.1L201.89,131.1L200.58,127.08Z" stroke="#f5781f" fill="#fff" stroke-width="1.4"/><path d="M208.8,123.89L212.23,126.37L210.92,130.4L206.69,130.4L205.38,126.37Z" stroke="#f5781f" fill="#fff" stroke-width="1.4"/><path d="M213.6,123.18L217.03,125.67L215.72,129.7L211.49,129.7L210.18,125.67Z" stroke="#f5781f" fill="#fff" stroke-width="1.4"/><path d="M218.4,122.45L221.82,124.93L220.52,128.96L216.28,128.96L214.98,124.93Z" stroke="#f5781f" fill="#fff" stroke-width="1.4"/><path d="M223.2,121.7L226.62,124.19L225.31,128.22L221.08,128.22L219.77,124.19Z" stroke="#f5781f" fill="#fff" stroke-width="1.4"/><path d="M228,120.98L231.42,123.46L230.11,127.49L225.88,127.49L224.57,123.46Z" stroke="#f5781f" fill="#fff" stroke-width="1.4"/><path d="M232.79,120.22L236.22,122.71L234.91,126.73L230.68,126.73L229.37,122.71Z" stroke="#f5781f" fill="#fff" stroke-width="1.4"/><path d="M237.59,119.39L241.02,121.88L239.71,125.9L235.48,125.9L234.17,121.88Z" stroke="#f5781f" fill="#fff" stroke-width="1.4"/><path d="M242.39,118.43L245.81,120.92L244.51,124.95L240.27,124.95L238.97,120.92Z" stroke="#f5781f" fill="#fff" stroke-width="1.4"/><path d="M247.19,117.32L250.61,119.81L249.3,123.83L245.07,123.83L243.76,119.81Z" stroke="#f5781f" fill="#fff" stroke-width="1.4"/><path d="M251.99,116.05L255.41,118.54L254.1,122.57L249.87,122.57L248.56,118.54Z" stroke="#f5781f" fill="#fff" stroke-width="1.4"/><path d="M256.78,114.65L260.21,117.14L258.9,121.16L254.67,121.16L253.36,117.14Z" stroke="#f5781f" fill="#fff" stroke-width="1.4"/><path d="M261.58,113.13L265.01,115.61L263.7,119.64L259.47,119.64L258.16,115.61Z" stroke="#f5781f" fill="#fff" stroke-width="1.4"/><path d="M266.38,111.5L269.8,113.99L268.5,118.01L264.26,118.01L262.96,113.99Z" stroke="#f5781f" fill="#fff" stroke-width="1.4"/><path d="M271.18,109.78L274.6,112.27L273.29,116.29L269.06,116.29L267.75,112.27Z" stroke="#f5781f" fill="#fff" stroke-width="1.4"/><path d="M275.98,107.99L279.4,110.47L278.09,114.5L273.86,114.5L272.55,110.47Z" stroke="#f5781f" fill="#fff" stroke-width="1.4"/><path d="M280.77,106.13L284.2,108.62L282.89,112.65L278.66,112.65L277.35,108.62Z" stroke="#f5781f" fill="#fff" stroke-width="1.4"/><path d="M285.57,104.24L289,106.72L287.69,110.75L283.46,110.75L282.15,106.72Z" stroke="#f5781f" fill="#fff" stroke-width="1.4"/><path d="M290.37,102.31L293.79,104.8L292.49,108.83L288.25,108.83L286.95,104.8Z" stroke="#f5781f" fill="#fff" stroke-width="1.4"/><path d="M295.17,100.32L298.59,102.81L297.28,106.84L293.05,106.84L291.74,102.81Z" stroke="#f5781f" fill="#fff" stroke-width="1.4"/><path d="M299.97,98.23L303.39,100.72L302.08,104.74L297.85,104.74L296.54,100.72Z" stroke="#f5781f" fill="#fff" stroke-width="1.4"/><path d="M304.76,96.03L308.19,98.52L306.88,102.54L302.65,102.54L301.34,98.52Z" stroke="#f5781f" fill="#fff" stroke-width="1.4"/><path d="M309.56,93.73L312.99,96.22L311.68,100.24L307.45,100.24L306.14,96.22Z" stroke="#f5781f" fill="#fff" stroke-width="1.4"/><path d="M314.36,91.34L317.78,93.83L316.48,97.85L312.24,97.85L310.94,93.83Z" stroke="#f5781f" fill="#fff" stroke-width="1.4"/><path d="M319.16,88.86L322.58,91.35L321.27,95.38L317.04,95.38L315.73,91.35Z" stroke="#f5781f" fill="#fff" stroke-width="1.4"/><path d="M323.96,86.3L327.38,88.79L326.07,92.82L321.84,92.82L320.53,88.79Z" stroke="#f5781f" fill="#fff" stroke-width="1.4"/><path d="M328.75,83.66L332.18,86.15L330.87,90.18L326.64,90.18L325.33,86.15Z" stroke="#f5781f" fill="#fff" stroke-width="1.4"/><path d="M333.55,80.95L336.98,83.44L335.67,87.46L331.44,87.46L330.13,83.44Z" stroke="#f5781f" fill="#fff" stroke-width="1.4"/><path d="M338.35,78.17L341.77,80.65L340.47,84.68L336.23,84.68L334.93,80.65Z" stroke="#f5781f" fill="#fff" stroke-width="1.4"/></g><g><circle cx="50.47" cy="238.09" r="3.2" stroke="#6497dc" fill="#f0f5fc" stroke-width="1.4"/><path d="M49.57,236.89a1.3,1.3 0 1 0 1.9,0" stroke="#6497dc" fill="none" stroke-width="0.7"/><circle cx="55.27" cy="233.85" r="3.2" stroke="#6497dc" fill="#f0f5fc" stroke-width="1.4"/><path d="M54.37,232.65a1.3,1.3 0 1 0 1.9,0" stroke="#6497dc" fill="none" stroke-width="0.7"/><circle cx="60.07" cy="229.62" r="3.2" stroke="#6497dc" fill="#f0f5fc" stroke-width="1.4"/><path d="M59.17,228.42a1.3,1.3 0 1 0 1.9,0" stroke="#6497dc" fill="none" stroke-width="0.7"/><circle cx="64.86" cy="225.39" r="3.2" stroke="#6497dc" fill="#f0f5fc" stroke-width="1.4"/><path d="M63.96,224.19a1.3,1.3 0 1 0 1.9,0" stroke="#6497dc" fill="none" stroke-width="0.7"/><circle cx="69.66" cy="221.15" r="3.2" stroke="#6497dc" fill="#f0f5fc" stroke-width="1.4"/><path d="M68.76,219.95a1.3,1.3 0 1 0 1.9,0" stroke="#6497dc" fill="none" stroke-width="0.7"/><circle cx="74.46" cy="216.92" r="3.2" stroke="#6497dc" fill="#f0f5fc" stroke-width="1.4"/><path d="M73.56,215.72a1.3,1.3 0 1 0 1.9,0" stroke="#6497dc" fill="none" stroke-width="0.7"/><circle cx="79.26" cy="212.68" r="3.2" stroke="#6497dc" fill="#f0f5fc" stroke-width="1.4"/><path d="M78.36,211.48a1.3,1.3 0 1 0 1.9,0" stroke="#6497dc" fill="none" stroke-width="0.7"/><circle cx="84.06" cy="208.45" r="3.2" stroke="#6497dc" fill="#f0f5fc" stroke-width="1.4"/><path d="M83.16,207.25a1.3,1.3 0 1 0 1.9,0" stroke="#6497dc" fill="none" stroke-width="0.7"/><circle cx="88.85" cy="204.22" r="3.2" stroke="#6497dc" fill="#f0f5fc" stroke-width="1.4"/><path d="M87.95,203.02a1.3,1.3 0 1 0 1.9,0" stroke="#6497dc" fill="none" stroke-width="0.7"/><circle cx="93.65" cy="199.98" r="3.2" stroke="#6497dc" fill="#f0f5fc" stroke-width="1.4"/><path d="M92.75,198.78a1.3,1.3 0 1 0 1.9,0" stroke="#6497dc" fill="none" stroke-width="0.7"/><circle cx="98.45" cy="195.75" r="3.2" stroke="#6497dc" fill="#f0f5fc" stroke-width="1.4"/><path d="M97.55,194.55a1.3,1.3 0 1 0 1.9,0" stroke="#6497dc" fill="none" stroke-width="0.7"/><circle cx="103.25" cy="191.51" r="3.2" stroke="#6497dc" fill="#f0f5fc" stroke-width="1.4"/><path d="M102.35,190.31a1.3,1.3 0 1 0 1.9,0" stroke="#6497dc" fill="none" stroke-width="0.7"/><circle cx="108.05" cy="187.28" r="3.2" stroke="#6497dc" fill="#f0f5fc" stroke-width="1.4"/><path d="M107.15,186.08a1.3,1.3 0 1 0 1.9,0" stroke="#6497dc" fill="none" stroke-width="0.7"/><circle cx="112.84" cy="183.04" r="3.2" stroke="#6497dc" fill="#f0f5fc" stroke-width="1.4"/><path d="M111.94,181.84a1.3,1.3 0 1 0 1.9,0" stroke="#6497dc" fill="none" stroke-width="0.7"/><circle cx="117.64" cy="178.81" r="3.2" stroke="#6497dc" fill="#f0f5fc" stroke-width="1.4"/><path d="M116.74,177.61a1.3,1.3 0 1 0 1.9,0" stroke="#6497dc" fill="none" stroke-width="0.7"/><circle cx="122.44" cy="174.58" r="3.2" stroke="#6497dc" fill="#f0f5fc" stroke-width="1.4"/><path d="M121.54,173.38a1.3,1.3 0 1 0 1.9,0" stroke="#6497dc" fill="none" stroke-width="0.7"/><circle cx="127.24" cy="170.34" r="3.2" stroke="#6497dc" fill="#f0f5fc" stroke-width="1.4"/><path d="M126.34,169.14a1.3,1.3 0 1 0 1.9,0" stroke="#6497dc" fill="none" stroke-width="0.7"/><circle cx="132.04" cy="166.11" r="3.2" stroke="#6497dc" fill="#f0f5fc" stroke-width="1.4"/><path d="M131.14,164.91a1.3,1.3 0 1 0 1.9,0" stroke="#6497dc" fill="none" stroke-width="0.7"/><circle cx="136.83" cy="161.87" r="3.2" stroke="#6497dc" fill="#f0f5fc" stroke-width="1.4"/><path d="M135.93,160.67a1.3,1.3 0 1 0 1.9,0" stroke="#6497dc" fill="none" stroke-width="0.7"/><circle cx="141.63" cy="157.56" r="3.2" stroke="#6497dc" fill="#f0f5fc" stroke-width="1.4"/><path d="M140.73,156.36a1.3,1.3 0 1 0 1.9,0" stroke="#6497dc" fill="none" stroke-width="0.7"/><circle cx="146.43" cy="153.41" r="3.2" stroke="#6497dc" fill="#f0f5fc" stroke-width="1.4"/><path d="M145.53,152.21a1.3,1.3 0 1 0 1.9,0" stroke="#6497dc" fill="none" stroke-width="0.7"/><circle cx="151.23" cy="150.16" r="3.2" stroke="#6497dc" fill="#f0f5fc" stroke-width="1.4"/><path d="M150.33,148.96a1.3,1.3 0 1 0 1.9,0" stroke="#6497dc" fill="none" stroke-width="0.7"/><circle cx="156.03" cy="147.35" r="3.2" stroke="#6497dc" fill="#f0f5fc" stroke-width="1.4"/><path d="M155.13,146.15a1.3,1.3 0 1 0 1.9,0" stroke="#6497dc" fill="none" stroke-width="0.7"/><circle cx="160.82" cy="144.78" r="3.2" stroke="#6497dc" fill="#f0f5fc" stroke-width="1.4"/><path d="M159.92,143.58a1.3,1.3 0 1 0 1.9,0" stroke="#6497dc" fill="none" stroke-width="0.7"/><circle cx="165.62" cy="142.41" r="3.2" stroke="#6497dc" fill="#f0f5fc" stroke-width="1.4"/><path d="M164.72,141.21a1.3,1.3 0 1 0 1.9,0" stroke="#6497dc" fill="none" stroke-width="0.7"/><circle cx="170.42" cy="140.36" r="3.2" stroke="#6497dc" fill="#f0f5fc" stroke-width="1.4"/><path d="M169.52,139.16a1.3,1.3 0 1 0 1.9,0" stroke="#6497dc" fill="none" stroke-width="0.7"/><circle cx="175.22" cy="138.64" r="3.2" stroke="#6497dc" fill="#f0f5fc" stroke-width="1.4"/><path d="M174.32,137.44a1.3,1.3 0 1 0 1.9,0" stroke="#6497dc" fill="none" stroke-width="0.7"/><circle cx="180.02" cy="137.11" r="3.2" stroke="#6497dc" fill="#f0f5fc" stroke-width="1.4"/><path d="M179.12,135.91a1.3,1.3 0 1 0 1.9,0" stroke="#6497dc" fill="none" stroke-width="0.7"/><circle cx="184.81" cy="135.7" r="3.2" stroke="#6497dc" fill="#f0f5fc" stroke-width="1.4"/><path d="M183.91,134.5a1.3,1.3 0 1 0 1.9,0" stroke="#6497dc" fill="none" stroke-width="0.7"/><circle cx="189.61" cy="134.35" r="3.2" stroke="#6497dc" fill="#f0f5fc" stroke-width="1.4"/><path d="M188.71,133.15a1.3,1.3 0 1 0 1.9,0" stroke="#6497dc" fill="none" stroke-width="0.7"/><circle cx="194.41" cy="133" r="3.2" stroke="#6497dc" fill="#f0f5fc" stroke-width="1.4"/><path d="M193.51,131.8a1.3,1.3 0 1 0 1.9,0" stroke="#6497dc" fill="none" stroke-width="0.7"/><circle cx="199.21" cy="131.7" r="3.2" stroke="#6497dc" fill="#f0f5fc" stroke-width="1.4"/><path d="M198.31,130.5a1.3,1.3 0 1 0 1.9,0" stroke="#6497dc" fill="none" stroke-width="0.7"/><circle cx="204.01" cy="130.47" r="3.2" stroke="#6497dc" fill="#f0f5fc" stroke-width="1.4"/><path d="M203.11,129.27a1.3,1.3 0 1 0 1.9,0" stroke="#6497dc" fill="none" stroke-width="0.7"/><circle cx="208.8" cy="129.25" r="3.2" stroke="#6497dc" fill="#f0f5fc" stroke-width="1.4"/><path d="M207.9,128.05a1.3,1.3 0 1 0 1.9,0" stroke="#6497dc" fill="none" stroke-width="0.7"/><circle cx="213.6" cy="128" r="3.2" stroke="#6497dc" fill="#f0f5fc" stroke-width="1.4"/><path d="M212.7,126.8a1.3,1.3 0 1 0 1.9,0" stroke="#6497dc" fill="none" stroke-width="0.7"/><circle cx="218.4" cy="126.65" r="3.2" stroke="#6497dc" fill="#f0f5fc" stroke-width="1.4"/><path d="M217.5,125.45a1.3,1.3 0 1 0 1.9,0" stroke="#6497dc" fill="none" stroke-width="0.7"/><circle cx="223.2" cy="125.18" r="3.2" stroke="#6497dc" fill="#f0f5fc" stroke-width="1.4"/><path d="M222.3,123.98a1.3,1.3 0 1 0 1.9,0" stroke="#6497dc" fill="none" stroke-width="0.7"/><circle cx="228" cy="123.63" r="3.2" stroke="#6497dc" fill="#f0f5fc" stroke-width="1.4"/><path d="M227.1,122.43a1.3,1.3 0 1 0 1.9,0" stroke="#6497dc" fill="none" stroke-width="0.7"/><circle cx="232.79" cy="122" r="3.2" stroke="#6497dc" fill="#f0f5fc" stroke-width="1.4"/><path d="M231.89,120.8a1.3,1.3 0 1 0 1.9,0" stroke="#6497dc" fill="none" stroke-width="0.7"/><circle cx="237.59" cy="120.33" r="3.2" stroke="#6497dc" fill="#f0f5fc" stroke-width="1.4"/><path d="M236.69,119.13a1.3,1.3 0 1 0 1.9,0" stroke="#6497dc" fill="none" stroke-width="0.7"/><circle cx="242.39" cy="118.62" r="3.2" stroke="#6497dc" fill="#f0f5fc" stroke-width="1.4"/><path d="M241.49,117.42a1.3,1.3 0 1 0 1.9,0" stroke="#6497dc" fill="none" stroke-width="0.7"/><circle cx="247.19" cy="116.91" r="3.2" stroke="#6497dc" fill="#f0f5fc" stroke-width="1.4"/><path d="M246.29,115.71a1.3,1.3 0 1 0 1.9,0" stroke="#6497dc" fill="none" stroke-width="0.7"/><circle cx="251.99" cy="115.19" r="3.2" stroke="#6497dc" fill="#f0f5fc" stroke-width="1.4"/><path d="M251.09,113.99a1.3,1.3 0 1 0 1.9,0" stroke="#6497dc" fill="none" stroke-width="0.7"/><circle cx="256.78" cy="113.45" r="3.2" stroke="#6497dc" fill="#f0f5fc" stroke-width="1.4"/><path d="M255.88,112.25a1.3,1.3 0 1 0 1.9,0" stroke="#6497dc" fill="none" stroke-width="0.7"/><circle cx="261.58" cy="111.68" r="3.2" stroke="#6497dc" fill="#f0f5fc" stroke-width="1.4"/><path d="M260.68,110.48a1.3,1.3 0 1 0 1.9,0" stroke="#6497dc" fill="none" stroke-width="0.7"/><circle cx="266.38" cy="109.87" r="3.2" stroke="#6497dc" fill="#f0f5fc" stroke-width="1.4"/><path d="M265.48,108.67a1.3,1.3 0 1 0 1.9,0" stroke="#6497dc" fill="none" stroke-width="0.7"/><circle cx="271.18" cy="108.01" r="3.2" stroke="#6497dc" fill="#f0f5fc" stroke-width="1.4"/><path d="M270.28,106.81a1.3,1.3 0 1 0 1.9,0" stroke="#6497dc" fill="none" stroke-width="0.7"/><circle cx="275.98" cy="106.1" r="3.2" stroke="#6497dc" fill="#f0f5fc" stroke-width="1.4"/><path d="M275.08,104.9a1.3,1.3 0 1 0 1.9,0" stroke="#6497dc" fill="none" stroke-width="0.7"/><circle cx="280.77" cy="104.11" r="3.2" stroke="#6497dc" fill="#f0f5fc" stroke-width="1.4"/><path d="M279.87,102.91a1.3,1.3 0 1 0 1.9,0" stroke="#6497dc" fill="none" stroke-width="0.7"/><circle cx="285.57" cy="102.05" r="3.2" stroke="#6497dc" fill="#f0f5fc" stroke-width="1.4"/><path d="M284.67,100.85a1.3,1.3 0 1 0 1.9,0" stroke="#6497dc" fill="none" stroke-width="0.7"/><circle cx="290.37" cy="99.89" r="3.2" stroke="#6497dc" fill="#f0f5fc" stroke-width="1.4"/><path d="M289.47,98.69a1.3,1.3 0 1 0 1.9,0" stroke="#6497dc" fill="none" stroke-width="0.7"/><circle cx="295.17" cy="97.64" r="3.2" stroke="#6497dc" fill="#f0f5fc" stroke-width="1.4"/><path d="M294.27,96.44a1.3,1.3 0 1 0 1.9,0" stroke="#6497dc" fill="none" stroke-width="0.7"/><circle cx="299.97" cy="95.28" r="3.2" stroke="#6497dc" fill="#f0f5fc" stroke-width="1.4"/><path d="M299.07,94.08a1.3,1.3 0 1 0 1.9,0" stroke="#6497dc" fill="none" stroke-width="0.7"/><circle cx="304.76" cy="92.81" r="3.2" stroke="#6497dc" fill="#f0f5fc" stroke-width="1.4"/><path d="M303.86,91.61a1.3,1.3 0 1 0 1.9,0" stroke="#6497dc" fill="none" stroke-width="0.7"/><circle cx="309.56" cy="90.26" r="3.2" stroke="#6497dc" fill="#f0f5fc" stroke-width="1.4"/><path d="M308.66,89.06a1.3,1.3 0 1 0 1.9,0" stroke="#6497dc" fill="none" stroke-width="0.7"/><circle cx="314.36" cy="87.61" r="3.2" stroke="#6497dc" fill="#f0f5fc" stroke-width="1.4"/><path d="M313.46,86.41a1.3,1.3 0 1 0 1.9,0" stroke="#6497dc" fill="none" stroke-width="0.7"/><circle cx="319.16" cy="84.87" r="3.2" stroke="#6497dc" fill="#f0f5fc" stroke-width="1.4"/><path d="M318.26,83.67a1.3,1.3 0 1 0 1.9,0" stroke="#6497dc" fill="none" stroke-width="0.7"/><circle cx="323.96" cy="82.05" r="3.2" stroke="#6497dc" fill="#f0f5fc" stroke-width="1.4"/><path d="M323.06,80.85a1.3,1.3 0 1 0 1.9,0" stroke="#6497dc" fill="none" stroke-width="0.7"/><circle cx="328.75" cy="79.15" r="3.2" stroke="#6497dc" fill="#f0f5fc" stroke-width="1.4"/><path d="M327.85,77.95a1.3,1.3 0 1 0 1.9,0" stroke="#6497dc" fill="none" stroke-width="0.7"/><circle cx="333.55" cy="76.18" r="3.2" stroke="#6497dc" fill="#f0f5fc" stroke-width="1.4"/><path d="M332.65,74.98a1.3,1.3 0 1 0 1.9,0" stroke="#6497dc" fill="none" stroke-width="0.7"/><circle cx="338.35" cy="73.14" r="3.2" stroke="#6497dc" fill="#f0f5fc" stroke-width="1.4"/><path d="M337.45,71.94a1.3,1.3 0 1 0 1.9,0" stroke="#6497dc" fill="none" stroke-width="0.7"/></g><circle cx="170.2" cy="212.6" r="3.2" stroke="#ee3b3f" fill="#fff" stroke-width="1.4"/><text transform="translate(185.8,216.8) scale(1,1.1)" font-family="Liberation Serif" font-size="11.3" fill="#1a1a1a">Lignin</text><path d="M170.2,222.8L173.84,229.1L166.56,229.1Z" stroke="#1f63e6" fill="#fff" stroke-width="1.4"/><text transform="translate(185.8,230.3) scale(1,1.1)" font-family="Liberation Serif" font-size="11.3" fill="#1a1a1a">[PyZ]-</text><path d="M170.2,243.4L166.56,237.1L173.84,237.1Z" stroke="#2fa866" fill="#fff" stroke-width="1.4"/><text transform="translate(185.8,244.3) scale(1,1.1)" font-family="Liberation Serif" font-size="11.3" fill="#1a1a1a">[Ace]-</text><path d="M170.2,250.4L173.9,254.1L170.2,257.8L166.5,254.1Z" stroke="#b27ef0" fill="#fff" stroke-width="1.4"/><text transform="translate(185.8,258.3) scale(1,1.1)" font-family="Liberation Serif" font-size="11.3" fill="#1a1a1a">[Ala]-</text><path d="M166.9,267.8L173.2,264.16L173.2,271.44Z" stroke="#d39d17" fill="#fff" stroke-width="1.4"/><text transform="translate(185.8,272) scale(1,1.1)" font-family="Liberation Serif" font-size="11.3" fill="#1a1a1a">[Arg]-</text><path d="M269,212.6L262.7,216.24L262.7,208.96Z" stroke="#1cc6cc" fill="#fff" stroke-width="1.4"/><text transform="translate(281.3,216.8) scale(1,1.1)" font-family="Liberation Serif" font-size="11.3" fill="#1a1a1a">[Glu]-</text><path d="M265.7,229.5L262.76,227.8L262.76,224.4L265.7,222.7L268.64,224.4L268.64,227.8Z" stroke="#9a0fd6" fill="#fff" stroke-width="1.4"/><text transform="translate(281.3,230.3) scale(1,1.1)" font-family="Liberation Serif" font-size="11.3" fill="#1a1a1a">[Gly]-</text><path d="M265.7,236.3L266.82,238.96L269.69,239.2L267.51,241.09L268.17,243.9L265.7,242.4L263.23,243.9L263.89,241.09L261.71,239.2L264.58,238.96Z" stroke="#8c8a17" fill="#fff" stroke-width="1.4"/><text transform="translate(281.3,244.3) scale(1,1.1)" font-family="Liberation Serif" font-size="11.3" fill="#1a1a1a">[Crotonate]-</text><path d="M265.7,250.9L269.12,253.39L267.82,257.41L263.58,257.41L262.28,253.39Z" stroke="#f5781f" fill="#fff" stroke-width="1.4"/><text transform="translate(281.3,258.3) scale(1,1.1)" font-family="Liberation Serif" font-size="11.3" fill="#1a1a1a">[Lys]-</text><circle cx="265.7" cy="267.8" r="3.2" stroke="#6497dc" fill="#f0f5fc" stroke-width="1.4"/><path d="M264.8,266.6a1.3,1.3 0 1 0 1.9,0" stroke="#6497dc" fill="none" stroke-width="0.7"/><text transform="translate(281.3,272) scale(1,1.1)" font-family="Liberation Serif" font-size="11.3" fill="#1a1a1a">[Val]-</text><rect x="48.5" y="12.9" width="291.9" height="267.4" fill="none" stroke="#1a1a1a" stroke-width="1.4"/><line x1="50.47" y1="280.3" x2="50.47" y2="285.3" stroke="#1a1a1a" stroke-width="1.2"/><text transform="translate(50.47,298.9) scale(1,1.08)" font-family="Liberation Serif" font-size="12.3" text-anchor="middle" fill="#1a1a1a">-0.03</text><line x1="74.46" y1="280.3" x2="74.46" y2="282.8" stroke="#1a1a1a" stroke-width="1.2"/><line x1="98.45" y1="280.3" x2="98.45" y2="285.3" stroke="#1a1a1a" stroke-width="1.2"/><text transform="translate(98.45,298.9) scale(1,1.08)" font-family="Liberation Serif" font-size="12.3" text-anchor="middle" fill="#1a1a1a">-0.02</text><line x1="122.44" y1="280.3" x2="122.44" y2="282.8" stroke="#1a1a1a" stroke-width="1.2"/><line x1="146.43" y1="280.3" x2="146.43" y2="285.3" stroke="#1a1a1a" stroke-width="1.2"/><text transform="translate(146.43,298.9) scale(1,1.08)" font-family="Liberation Serif" font-size="12.3" text-anchor="middle" fill="#1a1a1a">-0.01</text><line x1="170.42" y1="280.3" x2="170.42" y2="282.8" stroke="#1a1a1a" stroke-width="1.2"/><line x1="194.41" y1="280.3" x2="194.41" y2="285.3" stroke="#1a1a1a" stroke-width="1.2"/><text transform="translate(194.41,298.9) scale(1,1.08)" font-family="Liberation Serif" font-size="12.3" text-anchor="middle" fill="#1a1a1a">0.00</text><line x1="218.4" y1="280.3" x2="218.4" y2="282.8" stroke="#1a1a1a" stroke-width="1.2"/><line x1="242.39" y1="280.3" x2="242.39" y2="285.3" stroke="#1a1a1a" stroke-width="1.2"/><text transform="translate(242.39,298.9) scale(1,1.08)" font-family="Liberation Serif" font-size="12.3" text-anchor="middle" fill="#1a1a1a">0.01</text><line x1="266.38" y1="280.3" x2="266.38" y2="282.8" stroke="#1a1a1a" stroke-width="1.2"/><line x1="290.37" y1="280.3" x2="290.37" y2="285.3" stroke="#1a1a1a" stroke-width="1.2"/><text transform="translate(290.37,298.9) scale(1,1.08)" font-family="Liberation Serif" font-size="12.3" text-anchor="middle" fill="#1a1a1a">0.02</text><line x1="314.36" y1="280.3" x2="314.36" y2="282.8" stroke="#1a1a1a" stroke-width="1.2"/><line x1="338.35" y1="280.3" x2="338.35" y2="285.3" stroke="#1a1a1a" stroke-width="1.2"/><text transform="translate(338.35,298.9) scale(1,1.08)" font-family="Liberation Serif" font-size="12.3" text-anchor="middle" fill="#1a1a1a">0.03</text><line x1="43.5" y1="26.31" x2="48.5" y2="26.31" stroke="#1a1a1a" stroke-width="1.2"/><text transform="translate(39.4,29.91) scale(1,1.08)" font-family="Liberation Serif" font-size="12.3" text-anchor="end" fill="#1a1a1a">1.5</text><line x1="43.5" y1="59.76" x2="48.5" y2="59.76" stroke="#1a1a1a" stroke-width="1.2"/><text transform="translate(39.4,63.36) scale(1,1.08)" font-family="Liberation Serif" font-size="12.3" text-anchor="end" fill="#1a1a1a">1.0</text><line x1="43.5" y1="93.21" x2="48.5" y2="93.21" stroke="#1a1a1a" stroke-width="1.2"/><text transform="translate(39.4,96.81) scale(1,1.08)" font-family="Liberation Serif" font-size="12.3" text-anchor="end" fill="#1a1a1a">0.5</text><line x1="43.5" y1="126.65" x2="48.5" y2="126.65" stroke="#1a1a1a" stroke-width="1.2"/><text transform="translate(39.4,130.25) scale(1,1.08)" font-family="Liberation Serif" font-size="12.3" text-anchor="end" fill="#1a1a1a">0.0</text><line x1="43.5" y1="160.09" x2="48.5" y2="160.09" stroke="#1a1a1a" stroke-width="1.2"/><text transform="translate(39.4,163.69) scale(1,1.08)" font-family="Liberation Serif" font-size="12.3" text-anchor="end" fill="#1a1a1a">-0.5</text><line x1="43.5" y1="193.54" x2="48.5" y2="193.54" stroke="#1a1a1a" stroke-width="1.2"/><text transform="translate(39.4,197.14) scale(1,1.08)" font-family="Liberation Serif" font-size="12.3" text-anchor="end" fill="#1a1a1a">-1.0</text><line x1="43.5" y1="226.99" x2="48.5" y2="226.99" stroke="#1a1a1a" stroke-width="1.2"/><text transform="translate(39.4,230.59) scale(1,1.08)" font-family="Liberation Serif" font-size="12.3" text-anchor="end" fill="#1a1a1a">-1.5</text><line x1="43.5" y1="260.43" x2="48.5" y2="260.43" stroke="#1a1a1a" stroke-width="1.2"/><text transform="translate(39.4,264.03) scale(1,1.08)" font-family="Liberation Serif" font-size="12.3" text-anchor="end" fill="#1a1a1a">-2.0</text><line x1="46" y1="43.04" x2="48.5" y2="43.04" stroke="#1a1a1a" stroke-width="1.2"/><line x1="46" y1="76.48" x2="48.5" y2="76.48" stroke="#1a1a1a" stroke-width="1.2"/><line x1="46" y1="109.93" x2="48.5" y2="109.93" stroke="#1a1a1a" stroke-width="1.2"/><line x1="46" y1="143.37" x2="48.5" y2="143.37" stroke="#1a1a1a" stroke-width="1.2"/><line x1="46" y1="176.82" x2="48.5" y2="176.82" stroke="#1a1a1a" stroke-width="1.2"/><line x1="46" y1="210.26" x2="48.5" y2="210.26" stroke="#1a1a1a" stroke-width="1.2"/><line x1="46" y1="243.71" x2="48.5" y2="243.71" stroke="#1a1a1a" stroke-width="1.2"/><line x1="46" y1="277.15" x2="48.5" y2="277.15" stroke="#1a1a1a" stroke-width="1.2"/><line x1="77.69" y1="12.9" x2="77.69" y2="15.4" stroke="#1a1a1a" stroke-width="1.2"/><line x1="106.88" y1="12.9" x2="106.88" y2="16.9" stroke="#1a1a1a" stroke-width="1.2"/><line x1="136.07" y1="12.9" x2="136.07" y2="15.4" stroke="#1a1a1a" stroke-width="1.2"/><line x1="165.26" y1="12.9" x2="165.26" y2="16.9" stroke="#1a1a1a" stroke-width="1.2"/><line x1="194.45" y1="12.9" x2="194.45" y2="15.4" stroke="#1a1a1a" stroke-width="1.2"/><line x1="223.64" y1="12.9" x2="223.64" y2="16.9" stroke="#1a1a1a" stroke-width="1.2"/><line x1="252.83" y1="12.9" x2="252.83" y2="15.4" stroke="#1a1a1a" stroke-width="1.2"/><line x1="282.02" y1="12.9" x2="282.02" y2="16.9" stroke="#1a1a1a" stroke-width="1.2"/><line x1="311.21" y1="12.9" x2="311.21" y2="15.4" stroke="#1a1a1a" stroke-width="1.2"/><line x1="337.9" y1="39.64" x2="340.4" y2="39.64" stroke="#1a1a1a" stroke-width="1.2"/><line x1="336.4" y1="66.38" x2="340.4" y2="66.38" stroke="#1a1a1a" stroke-width="1.2"/><line x1="337.9" y1="93.12" x2="340.4" y2="93.12" stroke="#1a1a1a" stroke-width="1.2"/><line x1="336.4" y1="119.86" x2="340.4" y2="119.86" stroke="#1a1a1a" stroke-width="1.2"/><line x1="337.9" y1="146.6" x2="340.4" y2="146.6" stroke="#1a1a1a" stroke-width="1.2"/><line x1="336.4" y1="173.34" x2="340.4" y2="173.34" stroke="#1a1a1a" stroke-width="1.2"/><line x1="337.9" y1="200.08" x2="340.4" y2="200.08" stroke="#1a1a1a" stroke-width="1.2"/><line x1="336.4" y1="226.82" x2="340.4" y2="226.82" stroke="#1a1a1a" stroke-width="1.2"/><line x1="337.9" y1="253.56" x2="340.4" y2="253.56" stroke="#1a1a1a" stroke-width="1.2"/>
<g clip-path="url(#cB1)">
 <rect x="540" y="80" width="100" height="92" fill="#2cb834"/>
 <g fill="#40d03c" filter="url(#bl2)">
  <ellipse cx="576" cy="97" rx="10" ry="10"/>
  <ellipse cx="620" cy="124" rx="10" ry="12"/>
  <ellipse cx="558" cy="134" rx="10" ry="9"/>
  <ellipse cx="596" cy="153" rx="10" ry="9"/>
  <ellipse cx="590" cy="127" rx="16" ry="14"/>
 </g>
 <ellipse cx="590" cy="124" rx="14" ry="15" fill="url(#gC)"/>
 <use href="#pB1" fill="url(#shd)"/>
</g>
<g clip-path="url(#cB2)">
 <rect x="540" y="200" width="85" height="75" fill="#26b246"/>
 <ellipse cx="568" cy="226" rx="15" ry="12" fill="#3cc23a" filter="url(#bl3)"/>
 <ellipse cx="603" cy="254" rx="14" ry="13" fill="#22c29a" filter="url(#bl3)"/>
 <ellipse cx="583" cy="246" rx="10" ry="8" fill="#26b870" filter="url(#bl3)"/>
 <ellipse cx="596" cy="228" rx="12" ry="11" transform="rotate(25 596 228)" fill="url(#gBl)"/>
 <use href="#pB2" fill="url(#shd)"/>
</g>
<ellipse cx="594.3" cy="228.9" rx="13" ry="14" fill="none" stroke="#222" stroke-width="1" stroke-dasharray="1.1,1.1"/>
<line x1="606" y1="226" x2="651" y2="207" stroke="#2050f0" stroke-width="1.2" stroke-dasharray="3,2"/>
<path d="M657,204.3 L647.5,205 L650.6,210.2Z" fill="#2050f0"/>
<line x1="509.46" y1="12" x2="509.46" y2="276.7" stroke="#1a1a1a" stroke-width="1.1" stroke-dasharray="3,2"/><line x1="603.46" y1="12" x2="603.46" y2="276.7" stroke="#1a1a1a" stroke-width="1.1" stroke-dasharray="3,2"/><line x1="413.4" y1="175.85" x2="699.7" y2="175.85" stroke="#1a1a1a" stroke-width="1.1" stroke-dasharray="4.5,1.4,1,1.4"/><line x1="413.9" y1="48.1" x2="509.46" y2="48.1" stroke="#1a1a1a" stroke-width="1.1" stroke-dasharray="4.5,1.4,1,1.4"/><path d="M413.9,48.1L421.4,45.5L421.4,50.7Z" fill="#1a1a1a"/><line x1="509.46" y1="52.4" x2="603.46" y2="52.4" stroke="#1a1a1a" stroke-width="1.1" stroke-dasharray="2.6,2.4"/><path d="M509.46,52.4L516.96,49.8L516.96,55Z" fill="#1a1a1a"/><path d="M603.46,52.4L595.96,49.8L595.96,55Z" fill="#1a1a1a"/><line x1="603.46" y1="47.8" x2="699.2" y2="47.8" stroke="#1a1a1a" stroke-width="1.1" stroke-dasharray="4.5,1.4,1,1.4"/><path d="M699.2,47.8L691.7,45.2L691.7,50.4Z" fill="#1a1a1a"/><text x="420.8" y="28" font-family="Liberation Serif" font-size="10.3" fill="#1a1a1a">Affinity to interact</text><text x="420.8" y="40" font-family="Liberation Serif" font-size="10.3" fill="#1a1a1a">with H-bond donor</text><text x="522.8" y="28.6" font-family="Liberation Serif" font-size="10.3" fill="#1a1a1a">Interaction with</text><text x="515" y="41" font-family="Liberation Serif" font-size="10.3" fill="#1a1a1a">non-polar fragments</text><text x="611.4" y="28" font-family="Liberation Serif" font-size="10.3" fill="#1a1a1a">Affinity to interact</text><text x="606.3" y="40.4" font-family="Liberation Serif" font-size="10.3" fill="#1a1a1a">with H-bond acceptor</text><g><circle cx="415.46" cy="67.35" r="3.2" stroke="#ee3b3f" fill="#fff" stroke-width="1.4"/><circle cx="420.16" cy="73.46" r="3.2" stroke="#ee3b3f" fill="#fff" stroke-width="1.4"/><circle cx="424.86" cy="79.43" r="3.2" stroke="#ee3b3f" fill="#fff" stroke-width="1.4"/><circle cx="429.56" cy="85.24" r="3.2" stroke="#ee3b3f" fill="#fff" stroke-width="1.4"/><circle cx="434.26" cy="90.89" r="3.2" stroke="#ee3b3f" fill="#fff" stroke-width="1.4"/><circle cx="438.96" cy="96.37" r="3.2" stroke="#ee3b3f" fill="#fff" stroke-width="1.4"/><circle cx="443.66" cy="101.67" r="3.2" stroke="#ee3b3f" fill="#fff" stroke-width="1.4"/><circle cx="448.36" cy="106.81" r="3.2" stroke="#ee3b3f" fill="#fff" stroke-width="1.4"/><circle cx="453.06" cy="111.82" r="3.2" stroke="#ee3b3f" fill="#fff" stroke-width="1.4"/><circle cx="457.76" cy="116.74" r="3.2" stroke="#ee3b3f" fill="#fff" stroke-width="1.4"/><circle cx="462.46" cy="121.6" r="3.2" stroke="#ee3b3f" fill="#fff" stroke-width="1.4"/><circle cx="467.16" cy="126.5" r="3.2" stroke="#ee3b3f" fill="#fff" stroke-width="1.4"/><circle cx="471.86" cy="131.42" r="3.2" stroke="#ee3b3f" fill="#fff" stroke-width="1.4"/><circle cx="476.56" cy="136.22" r="3.2" stroke="#ee3b3f" fill="#fff" stroke-width="1.4"/><circle cx="481.26" cy="140.77" r="3.2" stroke="#ee3b3f" fill="#fff" stroke-width="1.4"/><circle cx="485.96" cy="144.94" r="3.2" stroke="#ee3b3f" fill="#fff" stroke-width="1.4"/><circle cx="490.66" cy="148.78" r="3.2" stroke="#ee3b3f" fill="#fff" stroke-width="1.4"/><circle cx="495.36" cy="152.42" r="3.2" stroke="#ee3b3f" fill="#fff" stroke-width="1.4"/><circle cx="500.06" cy="155.84" r="3.2" stroke="#ee3b3f" fill="#fff" stroke-width="1.4"/><circle cx="504.76" cy="159.03" r="3.2" stroke="#ee3b3f" fill="#fff" stroke-width="1.4"/><circle cx="509.46" cy="161.97" r="3.2" stroke="#ee3b3f" fill="#fff" stroke-width="1.4"/><circle cx="514.16" cy="164.71" r="3.2" stroke="#ee3b3f" fill="#fff" stroke-width="1.4"/><circle cx="518.86" cy="167.28" r="3.2" stroke="#ee3b3f" fill="#fff" stroke-width="1.4"/><circle cx="523.56" cy="169.69" r="3.2" stroke="#ee3b3f" fill="#fff" stroke-width="1.4"/><circle cx="528.26" cy="171.91" r="3.2" stroke="#ee3b3f" fill="#fff" stroke-width="1.4"/><circle cx="532.96" cy="173.96" r="3.2" stroke="#ee3b3f" fill="#fff" stroke-width="1.4"/><circle cx="537.66" cy="175.91" r="3.2" stroke="#ee3b3f" fill="#fff" stroke-width="1.4"/><circle cx="542.36" cy="177.81" r="3.2" stroke="#ee3b3f" fill="#fff" stroke-width="1.4"/><circle cx="547.06" cy="179.55" r="3.2" stroke="#ee3b3f" fill="#fff" stroke-width="1.4"/><circle cx="551.76" cy="181.03" r="3.2" stroke="#ee3b3f" fill="#fff" stroke-width="1.4"/><circle cx="556.46" cy="182.16" r="3.2" stroke="#ee3b3f" fill="#fff" stroke-width="1.4"/><circle cx="561.16" cy="183.05" r="3.2" stroke="#ee3b3f" fill="#fff" stroke-width="1.4"/><circle cx="565.86" cy="183.86" r="3.2" stroke="#ee3b3f" fill="#fff" stroke-width="1.4"/><circle cx="570.56" cy="184.54" r="3.2" stroke="#ee3b3f" fill="#fff" stroke-width="1.4"/><circle cx="575.26" cy="185.04" r="3.2" stroke="#ee3b3f" fill="#fff" stroke-width="1.4"/><circle cx="579.96" cy="185.31" r="3.2" stroke="#ee3b3f" fill="#fff" stroke-width="1.4"/><circle cx="584.66" cy="185.44" r="3.2" stroke="#ee3b3f" fill="#fff" stroke-width="1.4"/><circle cx="589.36" cy="185.54" r="3.2" stroke="#ee3b3f" fill="#fff" stroke-width="1.4"/><circle cx="594.06" cy="185.62" r="3.2" stroke="#ee3b3f" fill="#fff" stroke-width="1.4"/><circle cx="598.76" cy="185.67" r="3.2" stroke="#ee3b3f" fill="#fff" stroke-width="1.4"/><circle cx="603.46" cy="185.69" r="3.2" stroke="#ee3b3f" fill="#fff" stroke-width="1.4"/><circle cx="608.16" cy="185.52" r="3.2" stroke="#ee3b3f" fill="#fff" stroke-width="1.4"/><circle cx="612.86" cy="185.05" r="3.2" stroke="#ee3b3f" fill="#fff" stroke-width="1.4"/><circle cx="617.56" cy="184.34" r="3.2" stroke="#ee3b3f" fill="#fff" stroke-width="1.4"/><circle cx="622.26" cy="183.49" r="3.2" stroke="#ee3b3f" fill="#fff" stroke-width="1.4"/><circle cx="626.96" cy="182.54" r="3.2" stroke="#ee3b3f" fill="#fff" stroke-width="1.4"/><circle cx="631.66" cy="181.18" r="3.2" stroke="#ee3b3f" fill="#fff" stroke-width="1.4"/><circle cx="636.36" cy="179.21" r="3.2" stroke="#ee3b3f" fill="#fff" stroke-width="1.4"/><circle cx="641.06" cy="176.87" r="3.2" stroke="#ee3b3f" fill="#fff" stroke-width="1.4"/><circle cx="645.76" cy="174.41" r="3.2" stroke="#ee3b3f" fill="#fff" stroke-width="1.4"/><circle cx="650.46" cy="172.07" r="3.2" stroke="#ee3b3f" fill="#fff" stroke-width="1.4"/><circle cx="655.16" cy="169.84" r="3.2" stroke="#ee3b3f" fill="#fff" stroke-width="1.4"/><circle cx="659.86" cy="167.57" r="3.2" stroke="#ee3b3f" fill="#fff" stroke-width="1.4"/><circle cx="664.56" cy="165.24" r="3.2" stroke="#ee3b3f" fill="#fff" stroke-width="1.4"/><circle cx="669.26" cy="162.88" r="3.2" stroke="#ee3b3f" fill="#fff" stroke-width="1.4"/><circle cx="673.96" cy="160.46" r="3.2" stroke="#ee3b3f" fill="#fff" stroke-width="1.4"/><circle cx="678.66" cy="157.99" r="3.2" stroke="#ee3b3f" fill="#fff" stroke-width="1.4"/><circle cx="683.36" cy="155.47" r="3.2" stroke="#ee3b3f" fill="#fff" stroke-width="1.4"/><circle cx="688.06" cy="152.89" r="3.2" stroke="#ee3b3f" fill="#fff" stroke-width="1.4"/><circle cx="692.76" cy="150.27" r="3.2" stroke="#ee3b3f" fill="#fff" stroke-width="1.4"/><circle cx="697.46" cy="147.59" r="3.2" stroke="#ee3b3f" fill="#fff" stroke-width="1.4"/></g><g><path d="M415.46,52.07L419.1,58.37L411.82,58.37Z" stroke="#1f63e6" fill="#fff" stroke-width="1.4"/><path d="M420.16,59.45L423.8,65.75L416.52,65.75Z" stroke="#1f63e6" fill="#fff" stroke-width="1.4"/><path d="M424.86,66.56L428.5,72.86L421.22,72.86Z" stroke="#1f63e6" fill="#fff" stroke-width="1.4"/><path d="M429.56,73.39L433.2,79.69L425.92,79.69Z" stroke="#1f63e6" fill="#fff" stroke-width="1.4"/><path d="M434.26,79.92L437.9,86.22L430.62,86.22Z" stroke="#1f63e6" fill="#fff" stroke-width="1.4"/><path d="M438.96,86.13L442.6,92.43L435.32,92.43Z" stroke="#1f63e6" fill="#fff" stroke-width="1.4"/><path d="M443.66,91.96L447.3,98.26L440.02,98.26Z" stroke="#1f63e6" fill="#fff" stroke-width="1.4"/><path d="M448.36,97.44L452,103.74L444.72,103.74Z" stroke="#1f63e6" fill="#fff" stroke-width="1.4"/><path d="M453.06,102.73L456.7,109.03L449.42,109.03Z" stroke="#1f63e6" fill="#fff" stroke-width="1.4"/><path d="M457.76,107.95L461.4,114.25L454.12,114.25Z" stroke="#1f63e6" fill="#fff" stroke-width="1.4"/><path d="M462.46,113.25L466.1,119.55L458.82,119.55Z" stroke="#1f63e6" fill="#fff" stroke-width="1.4"/><path d="M467.16,118.79L470.8,125.09L463.52,125.09Z" stroke="#1f63e6" fill="#fff" stroke-width="1.4"/><path d="M471.86,124.48L475.5,130.78L468.22,130.78Z" stroke="#1f63e6" fill="#fff" stroke-width="1.4"/><path d="M476.56,130.07L480.2,136.37L472.92,136.37Z" stroke="#1f63e6" fill="#fff" stroke-width="1.4"/><path d="M481.26,135.32L484.9,141.62L477.62,141.62Z" stroke="#1f63e6" fill="#fff" stroke-width="1.4"/><path d="M485.96,140L489.6,146.3L482.32,146.3Z" stroke="#1f63e6" fill="#fff" stroke-width="1.4"/><path d="M490.66,144.17L494.3,150.47L487.02,150.47Z" stroke="#1f63e6" fill="#fff" stroke-width="1.4"/><path d="M495.36,148.07L499,154.37L491.72,154.37Z" stroke="#1f63e6" fill="#fff" stroke-width="1.4"/><path d="M500.06,151.69L503.7,157.99L496.42,157.99Z" stroke="#1f63e6" fill="#fff" stroke-width="1.4"/><path d="M504.76,155.01L508.4,161.31L501.12,161.31Z" stroke="#1f63e6" fill="#fff" stroke-width="1.4"/><path d="M509.46,158.04L513.1,164.34L505.82,164.34Z" stroke="#1f63e6" fill="#fff" stroke-width="1.4"/><path d="M514.16,160.78L517.8,167.08L510.52,167.08Z" stroke="#1f63e6" fill="#fff" stroke-width="1.4"/><path d="M518.86,163.28L522.5,169.58L515.22,169.58Z" stroke="#1f63e6" fill="#fff" stroke-width="1.4"/><path d="M523.56,165.61L527.2,171.91L519.92,171.91Z" stroke="#1f63e6" fill="#fff" stroke-width="1.4"/><path d="M528.26,167.84L531.9,174.14L524.62,174.14Z" stroke="#1f63e6" fill="#fff" stroke-width="1.4"/><path d="M532.96,170.03L536.6,176.33L529.32,176.33Z" stroke="#1f63e6" fill="#fff" stroke-width="1.4"/><path d="M537.66,172.2L541.3,178.5L534.02,178.5Z" stroke="#1f63e6" fill="#fff" stroke-width="1.4"/><path d="M542.36,174.33L546,180.63L538.72,180.63Z" stroke="#1f63e6" fill="#fff" stroke-width="1.4"/><path d="M547.06,176.37L550.7,182.67L543.42,182.67Z" stroke="#1f63e6" fill="#fff" stroke-width="1.4"/><path d="M551.76,178.31L555.4,184.61L548.12,184.61Z" stroke="#1f63e6" fill="#fff" stroke-width="1.4"/><path d="M556.46,180.12L560.1,186.42L552.82,186.42Z" stroke="#1f63e6" fill="#fff" stroke-width="1.4"/><path d="M561.16,181.83L564.8,188.13L557.52,188.13Z" stroke="#1f63e6" fill="#fff" stroke-width="1.4"/><path d="M565.86,183.47L569.5,189.77L562.22,189.77Z" stroke="#1f63e6" fill="#fff" stroke-width="1.4"/><path d="M570.56,185.01L574.2,191.31L566.92,191.31Z" stroke="#1f63e6" fill="#fff" stroke-width="1.4"/><path d="M575.26,186.43L578.9,192.73L571.62,192.73Z" stroke="#1f63e6" fill="#fff" stroke-width="1.4"/><path d="M579.96,187.69L583.6,193.99L576.32,193.99Z" stroke="#1f63e6" fill="#fff" stroke-width="1.4"/><path d="M584.66,188.81L588.3,195.11L581.02,195.11Z" stroke="#1f63e6" fill="#fff" stroke-width="1.4"/><path d="M589.36,189.85L593,196.15L585.72,196.15Z" stroke="#1f63e6" fill="#fff" stroke-width="1.4"/><path d="M594.06,190.8L597.7,197.1L590.42,197.1Z" stroke="#1f63e6" fill="#fff" stroke-width="1.4"/><path d="M598.76,191.67L602.4,197.97L595.12,197.97Z" stroke="#1f63e6" fill="#fff" stroke-width="1.4"/><path d="M603.46,192.48L607.1,198.78L599.82,198.78Z" stroke="#1f63e6" fill="#fff" stroke-width="1.4"/><path d="M608.16,193.26L611.8,199.56L604.52,199.56Z" stroke="#1f63e6" fill="#fff" stroke-width="1.4"/><path d="M612.86,194.01L616.5,200.31L609.22,200.31Z" stroke="#1f63e6" fill="#fff" stroke-width="1.4"/><path d="M617.56,194.7L621.2,201L613.92,201Z" stroke="#1f63e6" fill="#fff" stroke-width="1.4"/><path d="M622.26,195.3L625.9,201.6L618.62,201.6Z" stroke="#1f63e6" fill="#fff" stroke-width="1.4"/><path d="M626.96,195.76L630.6,202.06L623.32,202.06Z" stroke="#1f63e6" fill="#fff" stroke-width="1.4"/><path d="M631.66,196.16L635.3,202.46L628.02,202.46Z" stroke="#1f63e6" fill="#fff" stroke-width="1.4"/><path d="M636.36,196.53L640,202.83L632.72,202.83Z" stroke="#1f63e6" fill="#fff" stroke-width="1.4"/><path d="M641.06,196.85L644.7,203.15L637.42,203.15Z" stroke="#1f63e6" fill="#fff" stroke-width="1.4"/><path d="M645.76,197.07L649.4,203.37L642.12,203.37Z" stroke="#1f63e6" fill="#fff" stroke-width="1.4"/><path d="M650.46,197.15L654.1,203.45L646.82,203.45Z" stroke="#1f63e6" fill="#fff" stroke-width="1.4"/><path d="M655.16,197.07L658.8,203.37L651.52,203.37Z" stroke="#1f63e6" fill="#fff" stroke-width="1.4"/><path d="M659.86,196.87L663.5,203.17L656.22,203.17Z" stroke="#1f63e6" fill="#fff" stroke-width="1.4"/><path d="M664.56,196.56L668.2,202.86L660.92,202.86Z" stroke="#1f63e6" fill="#fff" stroke-width="1.4"/><path d="M669.26,196.18L672.9,202.48L665.62,202.48Z" stroke="#1f63e6" fill="#fff" stroke-width="1.4"/><path d="M673.96,195.76L677.6,202.06L670.32,202.06Z" stroke="#1f63e6" fill="#fff" stroke-width="1.4"/><path d="M678.66,195.21L682.3,201.51L675.02,201.51Z" stroke="#1f63e6" fill="#fff" stroke-width="1.4"/><path d="M683.36,194.45L687,200.75L679.72,200.75Z" stroke="#1f63e6" fill="#fff" stroke-width="1.4"/><path d="M688.06,193.5L691.7,199.8L684.42,199.8Z" stroke="#1f63e6" fill="#fff" stroke-width="1.4"/><path d="M692.76,192.41L696.4,198.71L689.12,198.71Z" stroke="#1f63e6" fill="#fff" stroke-width="1.4"/><path d="M697.46,191.22L701.1,197.52L693.82,197.52Z" stroke="#1f63e6" fill="#fff" stroke-width="1.4"/></g><g><path d="M415.46,138.78L411.82,132.48L419.1,132.48Z" stroke="#2fa866" fill="#fff" stroke-width="1.4"/><path d="M420.16,138.65L416.52,132.35L423.8,132.35Z" stroke="#2fa866" fill="#fff" stroke-width="1.4"/><path d="M424.86,138.49L421.22,132.19L428.5,132.19Z" stroke="#2fa866" fill="#fff" stroke-width="1.4"/><path d="M429.56,138.31L425.92,132.01L433.2,132.01Z" stroke="#2fa866" fill="#fff" stroke-width="1.4"/><path d="M434.26,138.11L430.62,131.81L437.9,131.81Z" stroke="#2fa866" fill="#fff" stroke-width="1.4"/><path d="M438.96,137.9L435.32,131.6L442.6,131.6Z" stroke="#2fa866" fill="#fff" stroke-width="1.4"/><path d="M443.66,137.59L440.02,131.29L447.3,131.29Z" stroke="#2fa866" fill="#fff" stroke-width="1.4"/><path d="M448.36,137.22L444.72,130.92L452,130.92Z" stroke="#2fa866" fill="#fff" stroke-width="1.4"/><path d="M453.06,136.9L449.42,130.6L456.7,130.6Z" stroke="#2fa866" fill="#fff" stroke-width="1.4"/><path d="M457.76,136.76L454.12,130.46L461.4,130.46Z" stroke="#2fa866" fill="#fff" stroke-width="1.4"/><path d="M462.46,138.42L458.82,132.12L466.1,132.12Z" stroke="#2fa866" fill="#fff" stroke-width="1.4"/><path d="M467.16,141.3L463.52,135L470.8,135Z" stroke="#2fa866" fill="#fff" stroke-width="1.4"/><path d="M471.86,143.81L468.22,137.51L475.5,137.51Z" stroke="#2fa866" fill="#fff" stroke-width="1.4"/><path d="M476.56,146.44L472.92,140.14L480.2,140.14Z" stroke="#2fa866" fill="#fff" stroke-width="1.4"/><path d="M481.26,149.18L477.62,142.88L484.9,142.88Z" stroke="#2fa866" fill="#fff" stroke-width="1.4"/><path d="M485.96,152.03L482.32,145.73L489.6,145.73Z" stroke="#2fa866" fill="#fff" stroke-width="1.4"/><path d="M490.66,155.02L487.02,148.72L494.3,148.72Z" stroke="#2fa866" fill="#fff" stroke-width="1.4"/><path d="M495.36,158.17L491.72,151.87L499,151.87Z" stroke="#2fa866" fill="#fff" stroke-width="1.4"/><path d="M500.06,161.41L496.42,155.11L503.7,155.11Z" stroke="#2fa866" fill="#fff" stroke-width="1.4"/><path d="M504.76,164.64L501.12,158.34L508.4,158.34Z" stroke="#2fa866" fill="#fff" stroke-width="1.4"/><path d="M509.46,167.8L505.82,161.5L513.1,161.5Z" stroke="#2fa866" fill="#fff" stroke-width="1.4"/><path d="M514.16,170.93L510.52,164.63L517.8,164.63Z" stroke="#2fa866" fill="#fff" stroke-width="1.4"/><path d="M518.86,174.1L515.22,167.8L522.5,167.8Z" stroke="#2fa866" fill="#fff" stroke-width="1.4"/><path d="M523.56,177.22L519.92,170.92L527.2,170.92Z" stroke="#2fa866" fill="#fff" stroke-width="1.4"/><path d="M528.26,180.19L524.62,173.89L531.9,173.89Z" stroke="#2fa866" fill="#fff" stroke-width="1.4"/><path d="M532.96,182.93L529.32,176.63L536.6,176.63Z" stroke="#2fa866" fill="#fff" stroke-width="1.4"/><path d="M537.66,185.51L534.02,179.21L541.3,179.21Z" stroke="#2fa866" fill="#fff" stroke-width="1.4"/><path d="M542.36,188L538.72,181.7L546,181.7Z" stroke="#2fa866" fill="#fff" stroke-width="1.4"/><path d="M547.06,190.34L543.42,184.04L550.7,184.04Z" stroke="#2fa866" fill="#fff" stroke-width="1.4"/><path d="M551.76,192.46L548.12,186.16L555.4,186.16Z" stroke="#2fa866" fill="#fff" stroke-width="1.4"/><path d="M556.46,194.29L552.82,187.99L560.1,187.99Z" stroke="#2fa866" fill="#fff" stroke-width="1.4"/><path d="M561.16,195.85L557.52,189.55L564.8,189.55Z" stroke="#2fa866" fill="#fff" stroke-width="1.4"/><path d="M565.86,197.25L562.22,190.95L569.5,190.95Z" stroke="#2fa866" fill="#fff" stroke-width="1.4"/><path d="M570.56,198.52L566.92,192.22L574.2,192.22Z" stroke="#2fa866" fill="#fff" stroke-width="1.4"/><path d="M575.26,199.7L571.62,193.4L578.9,193.4Z" stroke="#2fa866" fill="#fff" stroke-width="1.4"/><path d="M579.96,200.85L576.32,194.55L583.6,194.55Z" stroke="#2fa866" fill="#fff" stroke-width="1.4"/><path d="M584.66,201.93L581.02,195.63L588.3,195.63Z" stroke="#2fa866" fill="#fff" stroke-width="1.4"/><path d="M589.36,202.93L585.72,196.63L593,196.63Z" stroke="#2fa866" fill="#fff" stroke-width="1.4"/><path d="M594.06,203.89L590.42,197.59L597.7,197.59Z" stroke="#2fa866" fill="#fff" stroke-width="1.4"/><path d="M598.76,204.86L595.12,198.56L602.4,198.56Z" stroke="#2fa866" fill="#fff" stroke-width="1.4"/><path d="M603.46,205.9L599.82,199.6L607.1,199.6Z" stroke="#2fa866" fill="#fff" stroke-width="1.4"/><path d="M608.16,206.95L604.52,200.65L611.8,200.65Z" stroke="#2fa866" fill="#fff" stroke-width="1.4"/><path d="M612.86,207.98L609.22,201.68L616.5,201.68Z" stroke="#2fa866" fill="#fff" stroke-width="1.4"/><path d="M617.56,209.08L613.92,202.78L621.2,202.78Z" stroke="#2fa866" fill="#fff" stroke-width="1.4"/><path d="M622.26,210.29L618.62,203.99L625.9,203.99Z" stroke="#2fa866" fill="#fff" stroke-width="1.4"/><path d="M626.96,211.7L623.32,205.4L630.6,205.4Z" stroke="#2fa866" fill="#fff" stroke-width="1.4"/><path d="M631.66,213.38L628.02,207.08L635.3,207.08Z" stroke="#2fa866" fill="#fff" stroke-width="1.4"/><path d="M636.36,215.35L632.72,209.05L640,209.05Z" stroke="#2fa866" fill="#fff" stroke-width="1.4"/><path d="M641.06,217.59L637.42,211.29L644.7,211.29Z" stroke="#2fa866" fill="#fff" stroke-width="1.4"/><path d="M645.76,220.08L642.12,213.78L649.4,213.78Z" stroke="#2fa866" fill="#fff" stroke-width="1.4"/><path d="M650.46,222.8L646.82,216.5L654.1,216.5Z" stroke="#2fa866" fill="#fff" stroke-width="1.4"/><path d="M655.16,226.07L651.52,219.77L658.8,219.77Z" stroke="#2fa866" fill="#fff" stroke-width="1.4"/><path d="M659.86,230L656.22,223.7L663.5,223.7Z" stroke="#2fa866" fill="#fff" stroke-width="1.4"/><path d="M664.56,234.23L660.92,227.93L668.2,227.93Z" stroke="#2fa866" fill="#fff" stroke-width="1.4"/><path d="M669.26,238.42L665.62,232.12L672.9,232.12Z" stroke="#2fa866" fill="#fff" stroke-width="1.4"/><path d="M673.96,242.23L670.32,235.93L677.6,235.93Z" stroke="#2fa866" fill="#fff" stroke-width="1.4"/><path d="M678.66,245.67L675.02,239.37L682.3,239.37Z" stroke="#2fa866" fill="#fff" stroke-width="1.4"/><path d="M683.36,248.99L679.72,242.69L687,242.69Z" stroke="#2fa866" fill="#fff" stroke-width="1.4"/><path d="M688.06,252.17L684.42,245.87L691.7,245.87Z" stroke="#2fa866" fill="#fff" stroke-width="1.4"/><path d="M692.76,255.22L689.12,248.92L696.4,248.92Z" stroke="#2fa866" fill="#fff" stroke-width="1.4"/><path d="M697.46,258.13L693.82,251.83L701.1,251.83Z" stroke="#2fa866" fill="#fff" stroke-width="1.4"/></g><g><path d="M412.16,78.71L418.46,75.07L418.46,82.34Z" stroke="#d39d17" fill="#fff" stroke-width="1.4"/><path d="M416.86,83.35L423.16,79.71L423.16,86.99Z" stroke="#d39d17" fill="#fff" stroke-width="1.4"/><path d="M421.56,87.94L427.86,84.31L427.86,91.58Z" stroke="#d39d17" fill="#fff" stroke-width="1.4"/><path d="M426.26,92.49L432.56,88.85L432.56,96.12Z" stroke="#d39d17" fill="#fff" stroke-width="1.4"/><path d="M430.96,96.98L437.26,93.34L437.26,100.61Z" stroke="#d39d17" fill="#fff" stroke-width="1.4"/><path d="M435.66,101.42L441.96,97.78L441.96,105.05Z" stroke="#d39d17" fill="#fff" stroke-width="1.4"/><path d="M440.36,105.77L446.66,102.14L446.66,109.41Z" stroke="#d39d17" fill="#fff" stroke-width="1.4"/><path d="M445.06,110.05L451.36,106.42L451.36,113.69Z" stroke="#d39d17" fill="#fff" stroke-width="1.4"/><path d="M449.76,114.3L456.06,110.66L456.06,117.94Z" stroke="#d39d17" fill="#fff" stroke-width="1.4"/><path d="M454.46,118.55L460.76,114.92L460.76,122.19Z" stroke="#d39d17" fill="#fff" stroke-width="1.4"/><path d="M459.16,122.86L465.46,119.23L465.46,126.5Z" stroke="#d39d17" fill="#fff" stroke-width="1.4"/><path d="M463.86,127.33L470.16,123.69L470.16,130.97Z" stroke="#d39d17" fill="#fff" stroke-width="1.4"/><path d="M468.56,131.92L474.86,128.28L474.86,135.56Z" stroke="#d39d17" fill="#fff" stroke-width="1.4"/><path d="M473.26,136.49L479.56,132.85L479.56,140.13Z" stroke="#d39d17" fill="#fff" stroke-width="1.4"/><path d="M477.96,140.88L484.26,137.24L484.26,144.52Z" stroke="#d39d17" fill="#fff" stroke-width="1.4"/><path d="M482.66,144.94L488.96,141.3L488.96,148.58Z" stroke="#d39d17" fill="#fff" stroke-width="1.4"/><path d="M487.36,148.68L493.66,145.05L493.66,152.32Z" stroke="#d39d17" fill="#fff" stroke-width="1.4"/><path d="M492.06,152.24L498.36,148.6L498.36,155.87Z" stroke="#d39d17" fill="#fff" stroke-width="1.4"/><path d="M496.76,155.62L503.06,151.98L503.06,159.26Z" stroke="#d39d17" fill="#fff" stroke-width="1.4"/><path d="M501.46,158.86L507.76,155.22L507.76,162.5Z" stroke="#d39d17" fill="#fff" stroke-width="1.4"/><path d="M506.16,161.97L512.46,158.34L512.46,165.61Z" stroke="#d39d17" fill="#fff" stroke-width="1.4"/><path d="M510.86,164.99L517.16,161.35L517.16,168.62Z" stroke="#d39d17" fill="#fff" stroke-width="1.4"/><path d="M515.56,167.9L521.86,164.26L521.86,171.54Z" stroke="#d39d17" fill="#fff" stroke-width="1.4"/><path d="M520.26,170.69L526.56,167.05L526.56,174.33Z" stroke="#d39d17" fill="#fff" stroke-width="1.4"/><path d="M524.96,173.35L531.26,169.71L531.26,176.98Z" stroke="#d39d17" fill="#fff" stroke-width="1.4"/><path d="M529.66,175.85L535.96,172.21L535.96,179.49Z" stroke="#d39d17" fill="#fff" stroke-width="1.4"/><path d="M534.36,178.26L540.66,174.62L540.66,181.9Z" stroke="#d39d17" fill="#fff" stroke-width="1.4"/><path d="M539.06,180.6L545.36,176.97L545.36,184.24Z" stroke="#d39d17" fill="#fff" stroke-width="1.4"/><path d="M543.76,182.82L550.06,179.18L550.06,186.45Z" stroke="#d39d17" fill="#fff" stroke-width="1.4"/><path d="M548.46,184.83L554.76,181.19L554.76,188.47Z" stroke="#d39d17" fill="#fff" stroke-width="1.4"/><path d="M553.16,186.57L559.46,182.94L559.46,190.21Z" stroke="#d39d17" fill="#fff" stroke-width="1.4"/><path d="M557.86,188.17L564.16,184.54L564.16,191.81Z" stroke="#d39d17" fill="#fff" stroke-width="1.4"/><path d="M562.56,189.72L568.86,186.08L568.86,193.36Z" stroke="#d39d17" fill="#fff" stroke-width="1.4"/><path d="M567.26,191.1L573.56,187.46L573.56,194.73Z" stroke="#d39d17" fill="#fff" stroke-width="1.4"/><path d="M571.96,192.19L578.26,188.55L578.26,195.83Z" stroke="#d39d17" fill="#fff" stroke-width="1.4"/><path d="M576.66,192.88L582.96,189.24L582.96,196.52Z" stroke="#d39d17" fill="#fff" stroke-width="1.4"/><path d="M581.36,193.32L587.66,189.68L587.66,196.95Z" stroke="#d39d17" fill="#fff" stroke-width="1.4"/><path d="M586.06,193.7L592.36,190.06L592.36,197.34Z" stroke="#d39d17" fill="#fff" stroke-width="1.4"/><path d="M590.76,194L597.06,190.36L597.06,197.64Z" stroke="#d39d17" fill="#fff" stroke-width="1.4"/><path d="M595.46,194.2L601.76,190.56L601.76,197.84Z" stroke="#d39d17" fill="#fff" stroke-width="1.4"/><path d="M600.16,194.27L606.46,190.63L606.46,197.91Z" stroke="#d39d17" fill="#fff" stroke-width="1.4"/><path d="M604.86,194.14L611.16,190.5L611.16,197.78Z" stroke="#d39d17" fill="#fff" stroke-width="1.4"/><path d="M609.56,193.79L615.86,190.16L615.86,197.43Z" stroke="#d39d17" fill="#fff" stroke-width="1.4"/><path d="M614.26,193.28L620.56,189.65L620.56,196.92Z" stroke="#d39d17" fill="#fff" stroke-width="1.4"/><path d="M618.96,192.67L625.26,189.03L625.26,196.3Z" stroke="#d39d17" fill="#fff" stroke-width="1.4"/><path d="M623.66,192L629.96,188.36L629.96,195.64Z" stroke="#d39d17" fill="#fff" stroke-width="1.4"/><path d="M628.36,191.15L634.66,187.51L634.66,194.78Z" stroke="#d39d17" fill="#fff" stroke-width="1.4"/><path d="M633.06,189.99L639.36,186.35L639.36,193.63Z" stroke="#d39d17" fill="#fff" stroke-width="1.4"/><path d="M637.76,188.61L644.06,184.97L644.06,192.24Z" stroke="#d39d17" fill="#fff" stroke-width="1.4"/><path d="M642.46,187.06L648.76,183.43L648.76,190.7Z" stroke="#d39d17" fill="#fff" stroke-width="1.4"/><path d="M647.16,185.44L653.46,181.8L653.46,189.08Z" stroke="#d39d17" fill="#fff" stroke-width="1.4"/><path d="M651.86,183.54L658.16,179.9L658.16,187.17Z" stroke="#d39d17" fill="#fff" stroke-width="1.4"/><path d="M656.56,181.26L662.86,177.62L662.86,184.9Z" stroke="#d39d17" fill="#fff" stroke-width="1.4"/><path d="M661.26,178.84L667.56,175.2L667.56,182.48Z" stroke="#d39d17" fill="#fff" stroke-width="1.4"/><path d="M665.96,176.5L672.26,172.86L672.26,180.14Z" stroke="#d39d17" fill="#fff" stroke-width="1.4"/><path d="M670.66,174.46L676.96,170.82L676.96,178.1Z" stroke="#d39d17" fill="#fff" stroke-width="1.4"/><path d="M675.36,172.7L681.66,169.06L681.66,176.33Z" stroke="#d39d17" fill="#fff" stroke-width="1.4"/><path d="M680.06,171.03L686.36,167.39L686.36,174.67Z" stroke="#d39d17" fill="#fff" stroke-width="1.4"/><path d="M684.76,169.48L691.06,165.84L691.06,173.12Z" stroke="#d39d17" fill="#fff" stroke-width="1.4"/><path d="M689.46,168.05L695.76,164.42L695.76,171.69Z" stroke="#d39d17" fill="#fff" stroke-width="1.4"/><path d="M694.16,166.77L700.46,163.13L700.46,170.4Z" stroke="#d39d17" fill="#fff" stroke-width="1.4"/></g><g><path d="M418.76,61.8L412.46,65.44L412.46,58.16Z" stroke="#1cc6cc" fill="#fff" stroke-width="1.4"/><path d="M423.46,68.18L417.16,71.82L417.16,64.55Z" stroke="#1cc6cc" fill="#fff" stroke-width="1.4"/><path d="M428.16,74.43L421.86,78.07L421.86,70.79Z" stroke="#1cc6cc" fill="#fff" stroke-width="1.4"/><path d="M432.86,80.54L426.56,84.18L426.56,76.91Z" stroke="#1cc6cc" fill="#fff" stroke-width="1.4"/><path d="M437.56,86.51L431.26,90.15L431.26,82.87Z" stroke="#1cc6cc" fill="#fff" stroke-width="1.4"/><path d="M442.26,92.33L435.96,95.97L435.96,88.69Z" stroke="#1cc6cc" fill="#fff" stroke-width="1.4"/><path d="M446.96,98.02L440.66,101.66L440.66,94.39Z" stroke="#1cc6cc" fill="#fff" stroke-width="1.4"/><path d="M451.66,103.59L445.36,107.23L445.36,99.96Z" stroke="#1cc6cc" fill="#fff" stroke-width="1.4"/><path d="M456.36,109.03L450.06,112.67L450.06,105.4Z" stroke="#1cc6cc" fill="#fff" stroke-width="1.4"/><path d="M461.06,114.32L454.76,117.96L454.76,110.69Z" stroke="#1cc6cc" fill="#fff" stroke-width="1.4"/><path d="M465.76,119.46L459.46,123.09L459.46,115.82Z" stroke="#1cc6cc" fill="#fff" stroke-width="1.4"/><path d="M470.46,124.49L464.16,128.13L464.16,120.86Z" stroke="#1cc6cc" fill="#fff" stroke-width="1.4"/><path d="M475.16,129.46L468.86,133.09L468.86,125.82Z" stroke="#1cc6cc" fill="#fff" stroke-width="1.4"/><path d="M479.86,134.26L473.56,137.89L473.56,130.62Z" stroke="#1cc6cc" fill="#fff" stroke-width="1.4"/><path d="M484.56,138.82L478.26,142.45L478.26,135.18Z" stroke="#1cc6cc" fill="#fff" stroke-width="1.4"/><path d="M489.26,143.05L482.96,146.69L482.96,139.41Z" stroke="#1cc6cc" fill="#fff" stroke-width="1.4"/><path d="M493.96,147.01L487.66,150.65L487.66,143.38Z" stroke="#1cc6cc" fill="#fff" stroke-width="1.4"/><path d="M498.66,150.8L492.36,154.44L492.36,147.17Z" stroke="#1cc6cc" fill="#fff" stroke-width="1.4"/><path d="M503.36,154.38L497.06,158.01L497.06,150.74Z" stroke="#1cc6cc" fill="#fff" stroke-width="1.4"/><path d="M508.06,157.69L501.76,161.33L501.76,154.06Z" stroke="#1cc6cc" fill="#fff" stroke-width="1.4"/><path d="M512.76,160.71L506.46,164.35L506.46,157.07Z" stroke="#1cc6cc" fill="#fff" stroke-width="1.4"/><path d="M517.46,163.39L511.16,167.02L511.16,159.75Z" stroke="#1cc6cc" fill="#fff" stroke-width="1.4"/><path d="M522.16,165.79L515.86,169.43L515.86,162.15Z" stroke="#1cc6cc" fill="#fff" stroke-width="1.4"/><path d="M526.86,168.05L520.56,171.69L520.56,164.42Z" stroke="#1cc6cc" fill="#fff" stroke-width="1.4"/><path d="M531.56,170.31L525.26,173.95L525.26,166.67Z" stroke="#1cc6cc" fill="#fff" stroke-width="1.4"/><path d="M536.26,172.7L529.96,176.33L529.96,169.06Z" stroke="#1cc6cc" fill="#fff" stroke-width="1.4"/><path d="M540.96,175.42L534.66,179.06L534.66,171.79Z" stroke="#1cc6cc" fill="#fff" stroke-width="1.4"/><path d="M545.66,178.41L539.36,182.04L539.36,174.77Z" stroke="#1cc6cc" fill="#fff" stroke-width="1.4"/><path d="M550.36,181.32L544.06,184.96L544.06,177.69Z" stroke="#1cc6cc" fill="#fff" stroke-width="1.4"/><path d="M555.06,183.86L548.76,187.5L548.76,180.22Z" stroke="#1cc6cc" fill="#fff" stroke-width="1.4"/><path d="M559.76,185.69L553.46,189.33L553.46,182.05Z" stroke="#1cc6cc" fill="#fff" stroke-width="1.4"/><path d="M564.46,187.06L558.16,190.69L558.16,183.42Z" stroke="#1cc6cc" fill="#fff" stroke-width="1.4"/><path d="M569.16,188.32L562.86,191.96L562.86,184.69Z" stroke="#1cc6cc" fill="#fff" stroke-width="1.4"/><path d="M573.86,189.37L567.56,193.01L567.56,185.74Z" stroke="#1cc6cc" fill="#fff" stroke-width="1.4"/><path d="M578.56,190.09L572.26,193.73L572.26,186.46Z" stroke="#1cc6cc" fill="#fff" stroke-width="1.4"/><path d="M583.26,190.36L576.96,194L576.96,186.72Z" stroke="#1cc6cc" fill="#fff" stroke-width="1.4"/><path d="M587.96,190.36L581.66,194L581.66,186.72Z" stroke="#1cc6cc" fill="#fff" stroke-width="1.4"/><path d="M592.66,190.36L586.36,194L586.36,186.72Z" stroke="#1cc6cc" fill="#fff" stroke-width="1.4"/><path d="M597.36,190.36L591.06,194L591.06,186.72Z" stroke="#1cc6cc" fill="#fff" stroke-width="1.4"/><path d="M602.06,190.36L595.76,194L595.76,186.72Z" stroke="#1cc6cc" fill="#fff" stroke-width="1.4"/><path d="M606.76,190.36L600.46,194L600.46,186.72Z" stroke="#1cc6cc" fill="#fff" stroke-width="1.4"/><path d="M611.46,190.23L605.16,193.87L605.16,186.6Z" stroke="#1cc6cc" fill="#fff" stroke-width="1.4"/><path d="M616.16,189.9L609.86,193.53L609.86,186.26Z" stroke="#1cc6cc" fill="#fff" stroke-width="1.4"/><path d="M620.86,189.39L614.56,193.03L614.56,185.76Z" stroke="#1cc6cc" fill="#fff" stroke-width="1.4"/><path d="M625.56,188.77L619.26,192.41L619.26,185.14Z" stroke="#1cc6cc" fill="#fff" stroke-width="1.4"/><path d="M630.26,188.09L623.96,191.72L623.96,184.45Z" stroke="#1cc6cc" fill="#fff" stroke-width="1.4"/><path d="M634.96,187.12L628.66,190.75L628.66,183.48Z" stroke="#1cc6cc" fill="#fff" stroke-width="1.4"/><path d="M639.66,185.71L633.36,189.35L633.36,182.07Z" stroke="#1cc6cc" fill="#fff" stroke-width="1.4"/><path d="M644.36,184L638.06,187.64L638.06,180.37Z" stroke="#1cc6cc" fill="#fff" stroke-width="1.4"/><path d="M649.06,182.14L642.76,185.78L642.76,178.5Z" stroke="#1cc6cc" fill="#fff" stroke-width="1.4"/><path d="M653.76,180.27L647.46,183.9L647.46,176.63Z" stroke="#1cc6cc" fill="#fff" stroke-width="1.4"/><path d="M658.46,178.25L652.16,181.88L652.16,174.61Z" stroke="#1cc6cc" fill="#fff" stroke-width="1.4"/><path d="M663.16,175.97L656.86,179.6L656.86,172.33Z" stroke="#1cc6cc" fill="#fff" stroke-width="1.4"/><path d="M667.86,173.58L661.56,177.22L661.56,169.95Z" stroke="#1cc6cc" fill="#fff" stroke-width="1.4"/><path d="M672.56,171.26L666.26,174.9L666.26,167.63Z" stroke="#1cc6cc" fill="#fff" stroke-width="1.4"/><path d="M677.26,169.16L670.96,172.8L670.96,165.53Z" stroke="#1cc6cc" fill="#fff" stroke-width="1.4"/><path d="M681.96,167.27L675.66,170.9L675.66,163.63Z" stroke="#1cc6cc" fill="#fff" stroke-width="1.4"/><path d="M686.66,165.45L680.36,169.09L680.36,161.82Z" stroke="#1cc6cc" fill="#fff" stroke-width="1.4"/><path d="M691.36,163.73L685.06,167.37L685.06,160.09Z" stroke="#1cc6cc" fill="#fff" stroke-width="1.4"/><path d="M696.06,162.1L689.76,165.74L689.76,158.47Z" stroke="#1cc6cc" fill="#fff" stroke-width="1.4"/><path d="M700.76,160.58L694.46,164.22L694.46,156.95Z" stroke="#1cc6cc" fill="#fff" stroke-width="1.4"/></g><g><path d="M415.46,74.88L418.88,77.36L417.58,81.39L413.34,81.39L412.04,77.36Z" stroke="#9a0fd6" fill="#fff" stroke-width="1.4"/><path d="M420.16,80.66L423.58,83.15L422.28,87.17L418.04,87.17L416.74,83.15Z" stroke="#9a0fd6" fill="#fff" stroke-width="1.4"/><path d="M424.86,86.27L428.28,88.76L426.98,92.79L422.74,92.79L421.44,88.76Z" stroke="#9a0fd6" fill="#fff" stroke-width="1.4"/><path d="M429.56,91.71L432.98,94.2L431.68,98.22L427.44,98.22L426.14,94.2Z" stroke="#9a0fd6" fill="#fff" stroke-width="1.4"/><path d="M434.26,96.95L437.68,99.44L436.38,103.47L432.14,103.47L430.84,99.44Z" stroke="#9a0fd6" fill="#fff" stroke-width="1.4"/><path d="M438.96,102L442.38,104.49L441.08,108.51L436.84,108.51L435.54,104.49Z" stroke="#9a0fd6" fill="#fff" stroke-width="1.4"/><path d="M443.66,106.88L447.08,109.37L445.78,113.39L441.54,113.39L440.24,109.37Z" stroke="#9a0fd6" fill="#fff" stroke-width="1.4"/><path d="M448.36,111.61L451.78,114.1L450.48,118.12L446.24,118.12L444.94,114.1Z" stroke="#9a0fd6" fill="#fff" stroke-width="1.4"/><path d="M453.06,116.17L456.48,118.66L455.18,122.68L450.94,122.68L449.64,118.66Z" stroke="#9a0fd6" fill="#fff" stroke-width="1.4"/><path d="M457.76,120.54L461.18,123.03L459.88,127.06L455.64,127.06L454.34,123.03Z" stroke="#9a0fd6" fill="#fff" stroke-width="1.4"/><path d="M462.46,124.71L465.88,127.2L464.58,131.22L460.34,131.22L459.04,127.2Z" stroke="#9a0fd6" fill="#fff" stroke-width="1.4"/><path d="M467.16,128.64L470.58,131.13L469.28,135.15L465.04,135.15L463.74,131.13Z" stroke="#9a0fd6" fill="#fff" stroke-width="1.4"/><path d="M471.86,132.37L475.28,134.86L473.98,138.89L469.74,138.89L468.44,134.86Z" stroke="#9a0fd6" fill="#fff" stroke-width="1.4"/><path d="M476.56,135.97L479.98,138.46L478.68,142.48L474.44,142.48L473.14,138.46Z" stroke="#9a0fd6" fill="#fff" stroke-width="1.4"/><path d="M481.26,139.49L484.68,141.98L483.38,146L479.14,146L477.84,141.98Z" stroke="#9a0fd6" fill="#fff" stroke-width="1.4"/><path d="M485.96,143L489.38,145.49L488.08,149.51L483.84,149.51L482.54,145.49Z" stroke="#9a0fd6" fill="#fff" stroke-width="1.4"/><path d="M490.66,146.58L494.08,149.07L492.78,153.09L488.54,153.09L487.24,149.07Z" stroke="#9a0fd6" fill="#fff" stroke-width="1.4"/><path d="M495.36,150.19L498.78,152.67L497.48,156.7L493.24,156.7L491.94,152.67Z" stroke="#9a0fd6" fill="#fff" stroke-width="1.4"/><path d="M500.06,153.71L503.48,156.19L502.18,160.22L497.94,160.22L496.64,156.19Z" stroke="#9a0fd6" fill="#fff" stroke-width="1.4"/><path d="M504.76,157.03L508.18,159.51L506.88,163.54L502.64,163.54L501.34,159.51Z" stroke="#9a0fd6" fill="#fff" stroke-width="1.4"/><path d="M509.46,160.03L512.88,162.52L511.58,166.55L507.34,166.55L506.04,162.52Z" stroke="#9a0fd6" fill="#fff" stroke-width="1.4"/><path d="M514.16,162.76L517.58,165.25L516.28,169.27L512.04,169.27L510.74,165.25Z" stroke="#9a0fd6" fill="#fff" stroke-width="1.4"/><path d="M518.86,165.32L522.28,167.81L520.98,171.83L516.74,171.83L515.44,167.81Z" stroke="#9a0fd6" fill="#fff" stroke-width="1.4"/><path d="M523.56,167.71L526.98,170.2L525.68,174.22L521.44,174.22L520.14,170.2Z" stroke="#9a0fd6" fill="#fff" stroke-width="1.4"/><path d="M528.26,169.94L531.68,172.43L530.38,176.46L526.14,176.46L524.84,172.43Z" stroke="#9a0fd6" fill="#fff" stroke-width="1.4"/><path d="M532.96,172.02L536.38,174.51L535.08,178.53L530.84,178.53L529.54,174.51Z" stroke="#9a0fd6" fill="#fff" stroke-width="1.4"/><path d="M537.66,174.06L541.08,176.54L539.78,180.57L535.54,180.57L534.24,176.54Z" stroke="#9a0fd6" fill="#fff" stroke-width="1.4"/><path d="M542.36,176.08L545.78,178.56L544.48,182.59L540.24,182.59L538.94,178.56Z" stroke="#9a0fd6" fill="#fff" stroke-width="1.4"/><path d="M547.06,177.93L550.48,180.42L549.18,184.45L544.94,184.45L543.64,180.42Z" stroke="#9a0fd6" fill="#fff" stroke-width="1.4"/><path d="M551.76,179.49L555.18,181.98L553.88,186L549.64,186L548.34,181.98Z" stroke="#9a0fd6" fill="#fff" stroke-width="1.4"/><path d="M556.46,180.6L559.88,183.09L558.58,187.11L554.34,187.11L553.04,183.09Z" stroke="#9a0fd6" fill="#fff" stroke-width="1.4"/><path d="M561.16,181.42L564.58,183.91L563.28,187.94L559.04,187.94L557.74,183.91Z" stroke="#9a0fd6" fill="#fff" stroke-width="1.4"/><path d="M565.86,182.18L569.28,184.67L567.98,188.69L563.74,188.69L562.44,184.67Z" stroke="#9a0fd6" fill="#fff" stroke-width="1.4"/><path d="M570.56,182.8L573.98,185.29L572.68,189.31L568.44,189.31L567.14,185.29Z" stroke="#9a0fd6" fill="#fff" stroke-width="1.4"/><path d="M575.26,183.22L578.68,185.71L577.38,189.73L573.14,189.73L571.84,185.71Z" stroke="#9a0fd6" fill="#fff" stroke-width="1.4"/><path d="M579.96,183.37L583.38,185.86L582.08,189.89L577.84,189.89L576.54,185.86Z" stroke="#9a0fd6" fill="#fff" stroke-width="1.4"/><path d="M584.66,183.25L588.08,185.73L586.78,189.76L582.54,189.76L581.24,185.73Z" stroke="#9a0fd6" fill="#fff" stroke-width="1.4"/><path d="M589.36,182.9L592.78,185.39L591.48,189.42L587.24,189.42L585.94,185.39Z" stroke="#9a0fd6" fill="#fff" stroke-width="1.4"/><path d="M594.06,182.41L597.48,184.9L596.18,188.92L591.94,188.92L590.64,184.9Z" stroke="#9a0fd6" fill="#fff" stroke-width="1.4"/><path d="M598.76,181.83L602.18,184.32L600.88,188.34L596.64,188.34L595.34,184.32Z" stroke="#9a0fd6" fill="#fff" stroke-width="1.4"/><path d="M603.46,181.23L606.88,183.72L605.58,187.74L601.34,187.74L600.04,183.72Z" stroke="#9a0fd6" fill="#fff" stroke-width="1.4"/><path d="M608.16,180.57L611.58,183.06L610.28,187.08L606.04,187.08L604.74,183.06Z" stroke="#9a0fd6" fill="#fff" stroke-width="1.4"/><path d="M612.86,179.77L616.28,182.26L614.98,186.28L610.74,186.28L609.44,182.26Z" stroke="#9a0fd6" fill="#fff" stroke-width="1.4"/><path d="M617.56,178.82L620.98,181.31L619.68,185.34L615.44,185.34L614.14,181.31Z" stroke="#9a0fd6" fill="#fff" stroke-width="1.4"/><path d="M622.26,177.72L625.68,180.2L624.38,184.23L620.14,184.23L618.84,180.2Z" stroke="#9a0fd6" fill="#fff" stroke-width="1.4"/><path d="M626.96,176.43L630.38,178.92L629.08,182.95L624.84,182.95L623.54,178.92Z" stroke="#9a0fd6" fill="#fff" stroke-width="1.4"/><path d="M631.66,174.74L635.08,177.23L633.78,181.25L629.54,181.25L628.24,177.23Z" stroke="#9a0fd6" fill="#fff" stroke-width="1.4"/><path d="M636.36,172.51L639.78,175L638.48,179.03L634.24,179.03L632.94,175Z" stroke="#9a0fd6" fill="#fff" stroke-width="1.4"/><path d="M641.06,169.94L644.48,172.43L643.18,176.45L638.94,176.45L637.64,172.43Z" stroke="#9a0fd6" fill="#fff" stroke-width="1.4"/><path d="M645.76,167.19L649.18,169.68L647.88,173.7L643.64,173.7L642.34,169.68Z" stroke="#9a0fd6" fill="#fff" stroke-width="1.4"/><path d="M650.46,164.45L653.88,166.94L652.58,170.96L648.34,170.96L647.04,166.94Z" stroke="#9a0fd6" fill="#fff" stroke-width="1.4"/><path d="M655.16,161.66L658.58,164.14L657.28,168.17L653.04,168.17L651.74,164.14Z" stroke="#9a0fd6" fill="#fff" stroke-width="1.4"/><path d="M659.86,158.68L663.28,161.16L661.98,165.19L657.74,165.19L656.44,161.16Z" stroke="#9a0fd6" fill="#fff" stroke-width="1.4"/><path d="M664.56,155.58L667.98,158.07L666.68,162.09L662.44,162.09L661.14,158.07Z" stroke="#9a0fd6" fill="#fff" stroke-width="1.4"/><path d="M669.26,152.43L672.68,154.92L671.38,158.95L667.14,158.95L665.84,154.92Z" stroke="#9a0fd6" fill="#fff" stroke-width="1.4"/><path d="M673.96,149.31L677.38,151.8L676.08,155.82L671.84,155.82L670.54,151.8Z" stroke="#9a0fd6" fill="#fff" stroke-width="1.4"/><path d="M678.66,146.21L682.08,148.7L680.78,152.72L676.54,152.72L675.24,148.7Z" stroke="#9a0fd6" fill="#fff" stroke-width="1.4"/><path d="M683.36,143.08L686.78,145.57L685.48,149.59L681.24,149.59L679.94,145.57Z" stroke="#9a0fd6" fill="#fff" stroke-width="1.4"/><path d="M688.06,139.92L691.48,142.41L690.18,146.44L685.94,146.44L684.64,142.41Z" stroke="#9a0fd6" fill="#fff" stroke-width="1.4"/><path d="M692.76,136.75L696.18,139.23L694.88,143.26L690.64,143.26L689.34,139.23Z" stroke="#9a0fd6" fill="#fff" stroke-width="1.4"/><path d="M697.46,133.54L700.88,136.03L699.58,140.05L695.34,140.05L694.04,136.03Z" stroke="#9a0fd6" fill="#fff" stroke-width="1.4"/></g><g><circle cx="415.46" cy="79.34" r="3.2" stroke="#6497dc" fill="#f0f5fc" stroke-width="1.4"/><path d="M414.56,78.14a1.3,1.3 0 1 0 1.9,0" stroke="#6497dc" fill="none" stroke-width="0.7"/><circle cx="420.16" cy="85.45" r="3.2" stroke="#6497dc" fill="#f0f5fc" stroke-width="1.4"/><path d="M419.26,84.25a1.3,1.3 0 1 0 1.9,0" stroke="#6497dc" fill="none" stroke-width="0.7"/><circle cx="424.86" cy="91.35" r="3.2" stroke="#6497dc" fill="#f0f5fc" stroke-width="1.4"/><path d="M423.96,90.15a1.3,1.3 0 1 0 1.9,0" stroke="#6497dc" fill="none" stroke-width="0.7"/><circle cx="429.56" cy="97.04" r="3.2" stroke="#6497dc" fill="#f0f5fc" stroke-width="1.4"/><path d="M428.66,95.84a1.3,1.3 0 1 0 1.9,0" stroke="#6497dc" fill="none" stroke-width="0.7"/><circle cx="434.26" cy="102.51" r="3.2" stroke="#6497dc" fill="#f0f5fc" stroke-width="1.4"/><path d="M433.36,101.31a1.3,1.3 0 1 0 1.9,0" stroke="#6497dc" fill="none" stroke-width="0.7"/><circle cx="438.96" cy="107.72" r="3.2" stroke="#6497dc" fill="#f0f5fc" stroke-width="1.4"/><path d="M438.06,106.52a1.3,1.3 0 1 0 1.9,0" stroke="#6497dc" fill="none" stroke-width="0.7"/><circle cx="443.66" cy="112.71" r="3.2" stroke="#6497dc" fill="#f0f5fc" stroke-width="1.4"/><path d="M442.76,111.51a1.3,1.3 0 1 0 1.9,0" stroke="#6497dc" fill="none" stroke-width="0.7"/><circle cx="448.36" cy="117.5" r="3.2" stroke="#6497dc" fill="#f0f5fc" stroke-width="1.4"/><path d="M447.46,116.3a1.3,1.3 0 1 0 1.9,0" stroke="#6497dc" fill="none" stroke-width="0.7"/><circle cx="453.06" cy="122.1" r="3.2" stroke="#6497dc" fill="#f0f5fc" stroke-width="1.4"/><path d="M452.16,120.9a1.3,1.3 0 1 0 1.9,0" stroke="#6497dc" fill="none" stroke-width="0.7"/><circle cx="457.76" cy="126.53" r="3.2" stroke="#6497dc" fill="#f0f5fc" stroke-width="1.4"/><path d="M456.86,125.33a1.3,1.3 0 1 0 1.9,0" stroke="#6497dc" fill="none" stroke-width="0.7"/><circle cx="462.46" cy="130.81" r="3.2" stroke="#6497dc" fill="#f0f5fc" stroke-width="1.4"/><path d="M461.56,129.61a1.3,1.3 0 1 0 1.9,0" stroke="#6497dc" fill="none" stroke-width="0.7"/><circle cx="467.16" cy="134.94" r="3.2" stroke="#6497dc" fill="#f0f5fc" stroke-width="1.4"/><path d="M466.26,133.74a1.3,1.3 0 1 0 1.9,0" stroke="#6497dc" fill="none" stroke-width="0.7"/><circle cx="471.86" cy="138.94" r="3.2" stroke="#6497dc" fill="#f0f5fc" stroke-width="1.4"/><path d="M470.96,137.74a1.3,1.3 0 1 0 1.9,0" stroke="#6497dc" fill="none" stroke-width="0.7"/><circle cx="476.56" cy="142.79" r="3.2" stroke="#6497dc" fill="#f0f5fc" stroke-width="1.4"/><path d="M475.66,141.59a1.3,1.3 0 1 0 1.9,0" stroke="#6497dc" fill="none" stroke-width="0.7"/><circle cx="481.26" cy="146.52" r="3.2" stroke="#6497dc" fill="#f0f5fc" stroke-width="1.4"/><path d="M480.36,145.32a1.3,1.3 0 1 0 1.9,0" stroke="#6497dc" fill="none" stroke-width="0.7"/><circle cx="485.96" cy="150.11" r="3.2" stroke="#6497dc" fill="#f0f5fc" stroke-width="1.4"/><path d="M485.06,148.91a1.3,1.3 0 1 0 1.9,0" stroke="#6497dc" fill="none" stroke-width="0.7"/><circle cx="490.66" cy="153.67" r="3.2" stroke="#6497dc" fill="#f0f5fc" stroke-width="1.4"/><path d="M489.76,152.47a1.3,1.3 0 1 0 1.9,0" stroke="#6497dc" fill="none" stroke-width="0.7"/><circle cx="495.36" cy="157.19" r="3.2" stroke="#6497dc" fill="#f0f5fc" stroke-width="1.4"/><path d="M494.46,155.99a1.3,1.3 0 1 0 1.9,0" stroke="#6497dc" fill="none" stroke-width="0.7"/><circle cx="500.06" cy="160.56" r="3.2" stroke="#6497dc" fill="#f0f5fc" stroke-width="1.4"/><path d="M499.16,159.36a1.3,1.3 0 1 0 1.9,0" stroke="#6497dc" fill="none" stroke-width="0.7"/><circle cx="504.76" cy="163.67" r="3.2" stroke="#6497dc" fill="#f0f5fc" stroke-width="1.4"/><path d="M503.86,162.47a1.3,1.3 0 1 0 1.9,0" stroke="#6497dc" fill="none" stroke-width="0.7"/><circle cx="509.46" cy="166.39" r="3.2" stroke="#6497dc" fill="#f0f5fc" stroke-width="1.4"/><path d="M508.56,165.19a1.3,1.3 0 1 0 1.9,0" stroke="#6497dc" fill="none" stroke-width="0.7"/><circle cx="514.16" cy="168.8" r="3.2" stroke="#6497dc" fill="#f0f5fc" stroke-width="1.4"/><path d="M513.26,167.6a1.3,1.3 0 1 0 1.9,0" stroke="#6497dc" fill="none" stroke-width="0.7"/><circle cx="518.86" cy="171.05" r="3.2" stroke="#6497dc" fill="#f0f5fc" stroke-width="1.4"/><path d="M517.96,169.85a1.3,1.3 0 1 0 1.9,0" stroke="#6497dc" fill="none" stroke-width="0.7"/><circle cx="523.56" cy="173.09" r="3.2" stroke="#6497dc" fill="#f0f5fc" stroke-width="1.4"/><path d="M522.66,171.89a1.3,1.3 0 1 0 1.9,0" stroke="#6497dc" fill="none" stroke-width="0.7"/><circle cx="528.26" cy="174.91" r="3.2" stroke="#6497dc" fill="#f0f5fc" stroke-width="1.4"/><path d="M527.36,173.71a1.3,1.3 0 1 0 1.9,0" stroke="#6497dc" fill="none" stroke-width="0.7"/><circle cx="532.96" cy="176.48" r="3.2" stroke="#6497dc" fill="#f0f5fc" stroke-width="1.4"/><path d="M532.06,175.28a1.3,1.3 0 1 0 1.9,0" stroke="#6497dc" fill="none" stroke-width="0.7"/><circle cx="537.66" cy="177.93" r="3.2" stroke="#6497dc" fill="#f0f5fc" stroke-width="1.4"/><path d="M536.76,176.73a1.3,1.3 0 1 0 1.9,0" stroke="#6497dc" fill="none" stroke-width="0.7"/><circle cx="542.36" cy="179.32" r="3.2" stroke="#6497dc" fill="#f0f5fc" stroke-width="1.4"/><path d="M541.46,178.12a1.3,1.3 0 1 0 1.9,0" stroke="#6497dc" fill="none" stroke-width="0.7"/><circle cx="547.06" cy="180.55" r="3.2" stroke="#6497dc" fill="#f0f5fc" stroke-width="1.4"/><path d="M546.16,179.35a1.3,1.3 0 1 0 1.9,0" stroke="#6497dc" fill="none" stroke-width="0.7"/><circle cx="551.76" cy="181.49" r="3.2" stroke="#6497dc" fill="#f0f5fc" stroke-width="1.4"/><path d="M550.86,180.29a1.3,1.3 0 1 0 1.9,0" stroke="#6497dc" fill="none" stroke-width="0.7"/><circle cx="556.46" cy="182.03" r="3.2" stroke="#6497dc" fill="#f0f5fc" stroke-width="1.4"/><path d="M555.56,180.83a1.3,1.3 0 1 0 1.9,0" stroke="#6497dc" fill="none" stroke-width="0.7"/><circle cx="561.16" cy="182.32" r="3.2" stroke="#6497dc" fill="#f0f5fc" stroke-width="1.4"/><path d="M560.26,181.12a1.3,1.3 0 1 0 1.9,0" stroke="#6497dc" fill="none" stroke-width="0.7"/><circle cx="565.86" cy="182.56" r="3.2" stroke="#6497dc" fill="#f0f5fc" stroke-width="1.4"/><path d="M564.96,181.36a1.3,1.3 0 1 0 1.9,0" stroke="#6497dc" fill="none" stroke-width="0.7"/><circle cx="570.56" cy="182.75" r="3.2" stroke="#6497dc" fill="#f0f5fc" stroke-width="1.4"/><path d="M569.66,181.55a1.3,1.3 0 1 0 1.9,0" stroke="#6497dc" fill="none" stroke-width="0.7"/><circle cx="575.26" cy="182.87" r="3.2" stroke="#6497dc" fill="#f0f5fc" stroke-width="1.4"/><path d="M574.36,181.67a1.3,1.3 0 1 0 1.9,0" stroke="#6497dc" fill="none" stroke-width="0.7"/><circle cx="579.96" cy="182.91" r="3.2" stroke="#6497dc" fill="#f0f5fc" stroke-width="1.4"/><path d="M579.06,181.71a1.3,1.3 0 1 0 1.9,0" stroke="#6497dc" fill="none" stroke-width="0.7"/><circle cx="584.66" cy="182.87" r="3.2" stroke="#6497dc" fill="#f0f5fc" stroke-width="1.4"/><path d="M583.76,181.67a1.3,1.3 0 1 0 1.9,0" stroke="#6497dc" fill="none" stroke-width="0.7"/><circle cx="589.36" cy="182.75" r="3.2" stroke="#6497dc" fill="#f0f5fc" stroke-width="1.4"/><path d="M588.46,181.55a1.3,1.3 0 1 0 1.9,0" stroke="#6497dc" fill="none" stroke-width="0.7"/><circle cx="594.06" cy="182.56" r="3.2" stroke="#6497dc" fill="#f0f5fc" stroke-width="1.4"/><path d="M593.16,181.36a1.3,1.3 0 1 0 1.9,0" stroke="#6497dc" fill="none" stroke-width="0.7"/><circle cx="598.76" cy="182.32" r="3.2" stroke="#6497dc" fill="#f0f5fc" stroke-width="1.4"/><path d="M597.86,181.12a1.3,1.3 0 1 0 1.9,0" stroke="#6497dc" fill="none" stroke-width="0.7"/><circle cx="603.46" cy="182.03" r="3.2" stroke="#6497dc" fill="#f0f5fc" stroke-width="1.4"/><path d="M602.56,180.83a1.3,1.3 0 1 0 1.9,0" stroke="#6497dc" fill="none" stroke-width="0.7"/><circle cx="608.16" cy="181.49" r="3.2" stroke="#6497dc" fill="#f0f5fc" stroke-width="1.4"/><path d="M607.26,180.29a1.3,1.3 0 1 0 1.9,0" stroke="#6497dc" fill="none" stroke-width="0.7"/><circle cx="612.86" cy="180.56" r="3.2" stroke="#6497dc" fill="#f0f5fc" stroke-width="1.4"/><path d="M611.96,179.36a1.3,1.3 0 1 0 1.9,0" stroke="#6497dc" fill="none" stroke-width="0.7"/><circle cx="617.56" cy="179.32" r="3.2" stroke="#6497dc" fill="#f0f5fc" stroke-width="1.4"/><path d="M616.66,178.12a1.3,1.3 0 1 0 1.9,0" stroke="#6497dc" fill="none" stroke-width="0.7"/><circle cx="622.26" cy="177.89" r="3.2" stroke="#6497dc" fill="#f0f5fc" stroke-width="1.4"/><path d="M621.36,176.69a1.3,1.3 0 1 0 1.9,0" stroke="#6497dc" fill="none" stroke-width="0.7"/><circle cx="626.96" cy="176.35" r="3.2" stroke="#6497dc" fill="#f0f5fc" stroke-width="1.4"/><path d="M626.06,175.15a1.3,1.3 0 1 0 1.9,0" stroke="#6497dc" fill="none" stroke-width="0.7"/><circle cx="631.66" cy="174.48" r="3.2" stroke="#6497dc" fill="#f0f5fc" stroke-width="1.4"/><path d="M630.76,173.28a1.3,1.3 0 1 0 1.9,0" stroke="#6497dc" fill="none" stroke-width="0.7"/><circle cx="636.36" cy="172.09" r="3.2" stroke="#6497dc" fill="#f0f5fc" stroke-width="1.4"/><path d="M635.46,170.89a1.3,1.3 0 1 0 1.9,0" stroke="#6497dc" fill="none" stroke-width="0.7"/><circle cx="641.06" cy="169.43" r="3.2" stroke="#6497dc" fill="#f0f5fc" stroke-width="1.4"/><path d="M640.16,168.23a1.3,1.3 0 1 0 1.9,0" stroke="#6497dc" fill="none" stroke-width="0.7"/><circle cx="645.76" cy="166.74" r="3.2" stroke="#6497dc" fill="#f0f5fc" stroke-width="1.4"/><path d="M644.86,165.54a1.3,1.3 0 1 0 1.9,0" stroke="#6497dc" fill="none" stroke-width="0.7"/><circle cx="650.46" cy="164.24" r="3.2" stroke="#6497dc" fill="#f0f5fc" stroke-width="1.4"/><path d="M649.56,163.04a1.3,1.3 0 1 0 1.9,0" stroke="#6497dc" fill="none" stroke-width="0.7"/><circle cx="655.16" cy="162.01" r="3.2" stroke="#6497dc" fill="#f0f5fc" stroke-width="1.4"/><path d="M654.26,160.81a1.3,1.3 0 1 0 1.9,0" stroke="#6497dc" fill="none" stroke-width="0.7"/><circle cx="659.86" cy="159.88" r="3.2" stroke="#6497dc" fill="#f0f5fc" stroke-width="1.4"/><path d="M658.96,158.68a1.3,1.3 0 1 0 1.9,0" stroke="#6497dc" fill="none" stroke-width="0.7"/><circle cx="664.56" cy="157.76" r="3.2" stroke="#6497dc" fill="#f0f5fc" stroke-width="1.4"/><path d="M663.66,156.56a1.3,1.3 0 1 0 1.9,0" stroke="#6497dc" fill="none" stroke-width="0.7"/><circle cx="669.26" cy="155.54" r="3.2" stroke="#6497dc" fill="#f0f5fc" stroke-width="1.4"/><path d="M668.36,154.34a1.3,1.3 0 1 0 1.9,0" stroke="#6497dc" fill="none" stroke-width="0.7"/><circle cx="673.96" cy="153.14" r="3.2" stroke="#6497dc" fill="#f0f5fc" stroke-width="1.4"/><path d="M673.06,151.94a1.3,1.3 0 1 0 1.9,0" stroke="#6497dc" fill="none" stroke-width="0.7"/><circle cx="678.66" cy="150.53" r="3.2" stroke="#6497dc" fill="#f0f5fc" stroke-width="1.4"/><path d="M677.76,149.33a1.3,1.3 0 1 0 1.9,0" stroke="#6497dc" fill="none" stroke-width="0.7"/><circle cx="683.36" cy="147.75" r="3.2" stroke="#6497dc" fill="#f0f5fc" stroke-width="1.4"/><path d="M682.46,146.55a1.3,1.3 0 1 0 1.9,0" stroke="#6497dc" fill="none" stroke-width="0.7"/><circle cx="688.06" cy="144.81" r="3.2" stroke="#6497dc" fill="#f0f5fc" stroke-width="1.4"/><path d="M687.16,143.61a1.3,1.3 0 1 0 1.9,0" stroke="#6497dc" fill="none" stroke-width="0.7"/><circle cx="692.76" cy="141.72" r="3.2" stroke="#6497dc" fill="#f0f5fc" stroke-width="1.4"/><path d="M691.86,140.52a1.3,1.3 0 1 0 1.9,0" stroke="#6497dc" fill="none" stroke-width="0.7"/><circle cx="697.46" cy="138.51" r="3.2" stroke="#6497dc" fill="#f0f5fc" stroke-width="1.4"/><path d="M696.56,137.31a1.3,1.3 0 1 0 1.9,0" stroke="#6497dc" fill="none" stroke-width="0.7"/></g><circle cx="432.5" cy="168.4" r="3.2" stroke="#ee3b3f" fill="#fff" stroke-width="1.4"/><text transform="translate(448.1,172.6) scale(1,1.1)" font-family="Liberation Serif" font-size="11.3" fill="#1a1a1a">[DPrPyrr]+</text><path d="M432.5,178.9L436.14,185.2L428.86,185.2Z" stroke="#1f63e6" fill="#fff" stroke-width="1.4"/><text transform="translate(448.1,186.4) scale(1,1.1)" font-family="Liberation Serif" font-size="11.3" fill="#1a1a1a">[EMIM]+</text><path d="M432.5,199.6L428.86,193.3L436.14,193.3Z" stroke="#2fa866" fill="#fff" stroke-width="1.4"/><text transform="translate(448.1,200.5) scale(1,1.1)" font-family="Liberation Serif" font-size="11.3" fill="#1a1a1a">[Ch]+</text><path d="M429.2,210.2L435.5,206.56L435.5,213.84Z" stroke="#d39d17" fill="#fff" stroke-width="1.4"/><text transform="translate(448.1,214.4) scale(1,1.1)" font-family="Liberation Serif" font-size="11.3" fill="#1a1a1a">[HMG]+</text><path d="M435.8,224.2L429.5,227.84L429.5,220.56Z" stroke="#1cc6cc" fill="#fff" stroke-width="1.4"/><text transform="translate(448.1,228.4) scale(1,1.1)" font-family="Liberation Serif" font-size="11.3" fill="#1a1a1a">[TEMP]+</text><path d="M432.5,234.9L435.92,237.39L434.62,241.41L430.38,241.41L429.08,237.39Z" stroke="#9a0fd6" fill="#fff" stroke-width="1.4"/><text transform="translate(448.1,242.3) scale(1,1.1)" font-family="Liberation Serif" font-size="11.3" fill="#1a1a1a">[TBA]+</text><circle cx="432.5" cy="252.8" r="3.2" stroke="#6497dc" fill="#f0f5fc" stroke-width="1.4"/><path d="M431.6,251.6a1.3,1.3 0 1 0 1.9,0" stroke="#6497dc" fill="none" stroke-width="0.7"/><text transform="translate(448.1,257) scale(1,1.1)" font-family="Liberation Serif" font-size="11.3" fill="#1a1a1a">[TBP]+</text><rect x="413.4" y="12" width="286.3" height="264.7" fill="none" stroke="#1a1a1a" stroke-width="1.4"/><line x1="415.46" y1="276.7" x2="415.46" y2="281.7" stroke="#1a1a1a" stroke-width="1.2"/><text transform="translate(415.46,295.3) scale(1,1.08)" font-family="Liberation Serif" font-size="12.3" text-anchor="middle" fill="#1a1a1a">-0.03</text><line x1="438.96" y1="276.7" x2="438.96" y2="279.2" stroke="#1a1a1a" stroke-width="1.2"/><line x1="462.46" y1="276.7" x2="462.46" y2="281.7" stroke="#1a1a1a" stroke-width="1.2"/><text transform="translate(462.46,295.3) scale(1,1.08)" font-family="Liberation Serif" font-size="12.3" text-anchor="middle" fill="#1a1a1a">-0.02</text><line x1="485.96" y1="276.7" x2="485.96" y2="279.2" stroke="#1a1a1a" stroke-width="1.2"/><line x1="509.46" y1="276.7" x2="509.46" y2="281.7" stroke="#1a1a1a" stroke-width="1.2"/><text transform="translate(509.46,295.3) scale(1,1.08)" font-family="Liberation Serif" font-size="12.3" text-anchor="middle" fill="#1a1a1a">-0.01</text><line x1="532.96" y1="276.7" x2="532.96" y2="279.2" stroke="#1a1a1a" stroke-width="1.2"/><line x1="556.46" y1="276.7" x2="556.46" y2="281.7" stroke="#1a1a1a" stroke-width="1.2"/><text transform="translate(556.46,295.3) scale(1,1.08)" font-family="Liberation Serif" font-size="12.3" text-anchor="middle" fill="#1a1a1a">0.00</text><line x1="579.96" y1="276.7" x2="579.96" y2="279.2" stroke="#1a1a1a" stroke-width="1.2"/><line x1="603.46" y1="276.7" x2="603.46" y2="281.7" stroke="#1a1a1a" stroke-width="1.2"/><text transform="translate(603.46,295.3) scale(1,1.08)" font-family="Liberation Serif" font-size="12.3" text-anchor="middle" fill="#1a1a1a">0.01</text><line x1="626.96" y1="276.7" x2="626.96" y2="279.2" stroke="#1a1a1a" stroke-width="1.2"/><line x1="650.46" y1="276.7" x2="650.46" y2="281.7" stroke="#1a1a1a" stroke-width="1.2"/><text transform="translate(650.46,295.3) scale(1,1.08)" font-family="Liberation Serif" font-size="12.3" text-anchor="middle" fill="#1a1a1a">0.02</text><line x1="673.96" y1="276.7" x2="673.96" y2="279.2" stroke="#1a1a1a" stroke-width="1.2"/><line x1="697.46" y1="276.7" x2="697.46" y2="281.7" stroke="#1a1a1a" stroke-width="1.2"/><text transform="translate(697.46,295.3) scale(1,1.08)" font-family="Liberation Serif" font-size="12.3" text-anchor="middle" fill="#1a1a1a">0.03</text><line x1="408.4" y1="24.46" x2="413.4" y2="24.46" stroke="#1a1a1a" stroke-width="1.2"/><text transform="translate(404.3,28.06) scale(1,1.08)" font-family="Liberation Serif" font-size="12.3" text-anchor="end" fill="#1a1a1a">1.2</text><line x1="408.4" y1="49.69" x2="413.4" y2="49.69" stroke="#1a1a1a" stroke-width="1.2"/><text transform="translate(404.3,53.29) scale(1,1.08)" font-family="Liberation Serif" font-size="12.3" text-anchor="end" fill="#1a1a1a">1.0</text><line x1="408.4" y1="74.92" x2="413.4" y2="74.92" stroke="#1a1a1a" stroke-width="1.2"/><text transform="translate(404.3,78.52) scale(1,1.08)" font-family="Liberation Serif" font-size="12.3" text-anchor="end" fill="#1a1a1a">0.8</text><line x1="408.4" y1="100.15" x2="413.4" y2="100.15" stroke="#1a1a1a" stroke-width="1.2"/><text transform="translate(404.3,103.75) scale(1,1.08)" font-family="Liberation Serif" font-size="12.3" text-anchor="end" fill="#1a1a1a">0.6</text><line x1="408.4" y1="125.39" x2="413.4" y2="125.39" stroke="#1a1a1a" stroke-width="1.2"/><text transform="translate(404.3,128.99) scale(1,1.08)" font-family="Liberation Serif" font-size="12.3" text-anchor="end" fill="#1a1a1a">0.4</text><line x1="408.4" y1="150.62" x2="413.4" y2="150.62" stroke="#1a1a1a" stroke-width="1.2"/><text transform="translate(404.3,154.22) scale(1,1.08)" font-family="Liberation Serif" font-size="12.3" text-anchor="end" fill="#1a1a1a">0.2</text><line x1="408.4" y1="175.85" x2="413.4" y2="175.85" stroke="#1a1a1a" stroke-width="1.2"/><text transform="translate(404.3,179.45) scale(1,1.08)" font-family="Liberation Serif" font-size="12.3" text-anchor="end" fill="#1a1a1a">0.0</text><line x1="408.4" y1="201.08" x2="413.4" y2="201.08" stroke="#1a1a1a" stroke-width="1.2"/><text transform="translate(404.3,204.68) scale(1,1.08)" font-family="Liberation Serif" font-size="12.3" text-anchor="end" fill="#1a1a1a">-0.2</text><line x1="408.4" y1="226.31" x2="413.4" y2="226.31" stroke="#1a1a1a" stroke-width="1.2"/><text transform="translate(404.3,229.91) scale(1,1.08)" font-family="Liberation Serif" font-size="12.3" text-anchor="end" fill="#1a1a1a">-0.4</text><line x1="408.4" y1="251.55" x2="413.4" y2="251.55" stroke="#1a1a1a" stroke-width="1.2"/><text transform="translate(404.3,255.15) scale(1,1.08)" font-family="Liberation Serif" font-size="12.3" text-anchor="end" fill="#1a1a1a">-0.6</text><line x1="408.4" y1="276.78" x2="413.4" y2="276.78" stroke="#1a1a1a" stroke-width="1.2"/><text transform="translate(404.3,280.38) scale(1,1.08)" font-family="Liberation Serif" font-size="12.3" text-anchor="end" fill="#1a1a1a">-0.8</text><line x1="410.9" y1="37.07" x2="413.4" y2="37.07" stroke="#1a1a1a" stroke-width="1.2"/><line x1="410.9" y1="62.31" x2="413.4" y2="62.31" stroke="#1a1a1a" stroke-width="1.2"/><line x1="410.9" y1="87.54" x2="413.4" y2="87.54" stroke="#1a1a1a" stroke-width="1.2"/><line x1="410.9" y1="112.77" x2="413.4" y2="112.77" stroke="#1a1a1a" stroke-width="1.2"/><line x1="410.9" y1="138" x2="413.4" y2="138" stroke="#1a1a1a" stroke-width="1.2"/><line x1="410.9" y1="163.23" x2="413.4" y2="163.23" stroke="#1a1a1a" stroke-width="1.2"/><line x1="410.9" y1="188.47" x2="413.4" y2="188.47" stroke="#1a1a1a" stroke-width="1.2"/><line x1="410.9" y1="213.7" x2="413.4" y2="213.7" stroke="#1a1a1a" stroke-width="1.2"/><line x1="410.9" y1="238.93" x2="413.4" y2="238.93" stroke="#1a1a1a" stroke-width="1.2"/><line x1="410.9" y1="264.16" x2="413.4" y2="264.16" stroke="#1a1a1a" stroke-width="1.2"/><line x1="442.03" y1="12" x2="442.03" y2="14.5" stroke="#1a1a1a" stroke-width="1.2"/><line x1="470.66" y1="12" x2="470.66" y2="16" stroke="#1a1a1a" stroke-width="1.2"/><line x1="499.29" y1="12" x2="499.29" y2="14.5" stroke="#1a1a1a" stroke-width="1.2"/><line x1="527.92" y1="12" x2="527.92" y2="16" stroke="#1a1a1a" stroke-width="1.2"/><line x1="556.55" y1="12" x2="556.55" y2="14.5" stroke="#1a1a1a" stroke-width="1.2"/><line x1="585.18" y1="12" x2="585.18" y2="16" stroke="#1a1a1a" stroke-width="1.2"/><line x1="613.81" y1="12" x2="613.81" y2="14.5" stroke="#1a1a1a" stroke-width="1.2"/><line x1="642.44" y1="12" x2="642.44" y2="16" stroke="#1a1a1a" stroke-width="1.2"/><line x1="671.07" y1="12" x2="671.07" y2="14.5" stroke="#1a1a1a" stroke-width="1.2"/><line x1="697.2" y1="38.47" x2="699.7" y2="38.47" stroke="#1a1a1a" stroke-width="1.2"/><line x1="695.7" y1="64.94" x2="699.7" y2="64.94" stroke="#1a1a1a" stroke-width="1.2"/><line x1="697.2" y1="91.41" x2="699.7" y2="91.41" stroke="#1a1a1a" stroke-width="1.2"/><line x1="695.7" y1="117.88" x2="699.7" y2="117.88" stroke="#1a1a1a" stroke-width="1.2"/><line x1="697.2" y1="144.35" x2="699.7" y2="144.35" stroke="#1a1a1a" stroke-width="1.2"/><line x1="695.7" y1="170.82" x2="699.7" y2="170.82" stroke="#1a1a1a" stroke-width="1.2"/><line x1="697.2" y1="197.29" x2="699.7" y2="197.29" stroke="#1a1a1a" stroke-width="1.2"/><line x1="695.7" y1="223.76" x2="699.7" y2="223.76" stroke="#1a1a1a" stroke-width="1.2"/><line x1="697.2" y1="250.23" x2="699.7" y2="250.23" stroke="#1a1a1a" stroke-width="1.2"/><text x="0.1" y="15.3" font-family="Liberation Serif" font-size="17.5" fill="#1a1a1a">(a)</text><text x="367.3" y="15.3" font-family="Liberation Serif" font-size="17" fill="#1a1a1a">(b)</text><text x="158" y="322.3" font-family="Liberation Serif" font-size="14.3" fill="#1a1a1a">SCD, σ(e/Å<tspan font-size="9" dy="-6">2</tspan><tspan dy="6">)</tspan></text><text x="521" y="319.4" font-family="Liberation Serif" font-size="14.3" fill="#1a1a1a">SCD, σ(e/Å<tspan font-size="9" dy="-6">2</tspan><tspan dy="6">)</tspan></text><text transform="translate(12,210) rotate(-90)" font-family="Liberation Serif" font-size="15.5" fill="#1a1a1a">μ(σ), (kcal/mol . Å<tspan font-size="9.5" dy="-6">2</tspan><tspan dy="6">)</tspan></text><text transform="translate(375.5,207.5) rotate(-90)" font-family="Liberation Serif" font-size="15" fill="#1a1a1a">μ(σ), (kcal/mol . Å<tspan font-size="9.5" dy="-6">2</tspan><tspan dy="6">)</tspan></text></svg></body></html>
